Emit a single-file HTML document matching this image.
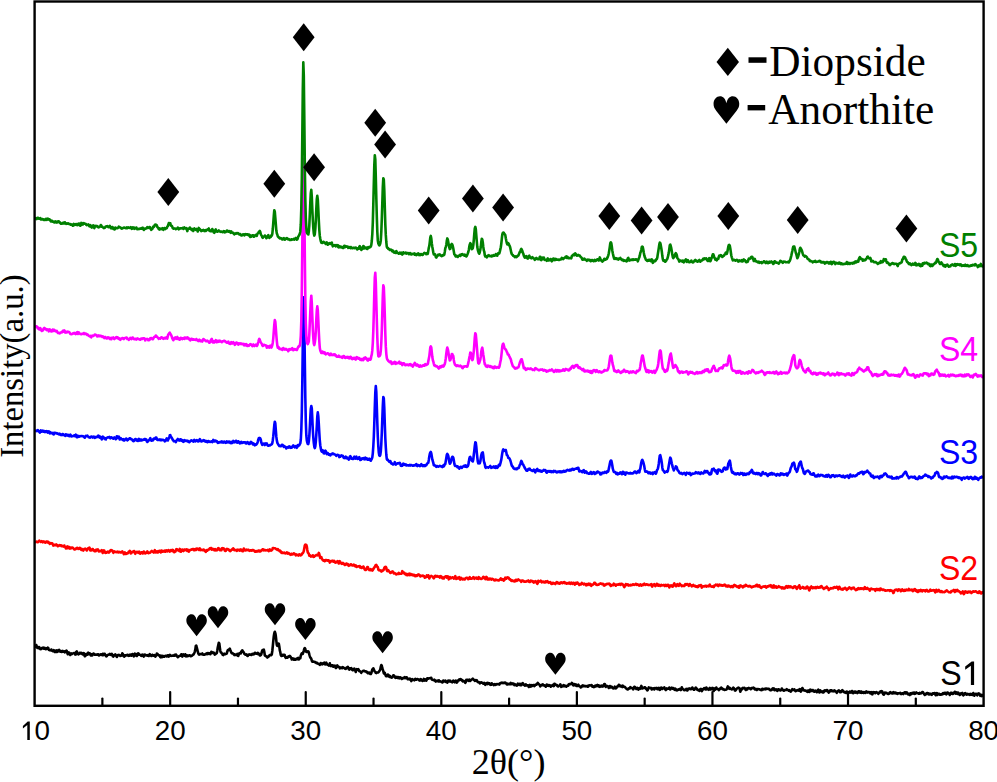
<!DOCTYPE html>
<html><head><meta charset="utf-8"><style>
html,body{margin:0;padding:0;background:#fff;overflow:hidden;}
svg{display:block;}
</style></head><body>
<svg width="997" height="782" viewBox="0 0 997 782">
<rect width="997" height="782" fill="#fff"/>
<g fill="none" stroke-width="2.6" stroke-linejoin="round" stroke-linecap="round">
<path d="M35.8 646.8 L36.3 645.1 L36.8 646.5 L37.3 647.8 L37.8 646.8 L38.3 647.4 L38.8 648.2 L39.3 647.2 L39.8 648.3 L40.3 649.2 L40.8 648.8 L41.3 649.0 L41.8 648.1 L42.3 647.8 L42.8 648.0 L43.3 647.6 L43.8 648.7 L44.3 648.3 L44.8 647.8 L45.3 649.1 L45.8 649.2 L46.3 648.5 L46.8 648.3 L47.3 648.6 L47.8 647.7 L48.3 648.1 L48.8 649.8 L49.3 650.0 L49.8 650.2 L50.3 650.2 L50.8 650.4 L51.3 649.5 L51.8 650.4 L52.3 650.9 L52.8 651.2 L53.3 651.3 L53.8 650.2 L54.3 650.6 L54.8 652.0 L55.3 652.0 L55.8 651.2 L56.3 650.4 L56.8 651.9 L57.3 651.9 L57.8 651.3 L58.3 650.2 L58.8 650.5 L59.3 650.0 L59.8 651.4 L60.3 651.7 L60.8 651.5 L61.3 651.2 L61.8 651.8 L62.3 651.5 L62.8 650.9 L63.3 651.8 L63.8 651.7 L64.3 651.4 L64.8 652.3 L65.3 651.5 L65.8 651.1 L66.3 650.6 L66.8 651.0 L67.3 653.0 L67.8 654.2 L68.3 652.8 L68.8 652.4 L69.3 652.8 L69.8 654.1 L70.3 655.0 L70.8 653.9 L71.3 653.4 L71.8 654.1 L72.3 654.0 L72.8 653.4 L73.3 653.3 L73.8 653.0 L74.3 653.1 L74.8 653.0 L75.3 654.6 L75.8 654.5 L76.3 652.0 L76.8 651.5 L77.3 652.6 L77.8 653.6 L78.3 654.3 L78.8 654.0 L79.3 654.0 L79.8 652.8 L80.3 653.2 L80.8 653.4 L81.3 652.8 L81.8 653.1 L82.3 654.2 L82.8 654.5 L83.3 654.2 L83.8 653.1 L84.3 655.0 L84.8 656.2 L85.3 656.0 L85.8 654.4 L86.3 653.8 L86.8 654.4 L87.3 654.7 L87.8 654.4 L88.3 652.7 L88.8 653.5 L89.3 654.1 L89.8 653.4 L90.3 653.8 L90.8 655.5 L91.3 655.0 L91.8 654.3 L92.3 655.4 L92.8 654.4 L93.3 653.6 L93.8 653.6 L94.3 654.1 L94.8 654.8 L95.3 654.8 L95.8 654.7 L96.3 654.5 L96.8 654.8 L97.3 654.4 L97.8 654.5 L98.3 654.3 L98.8 655.4 L99.3 655.4 L99.8 654.8 L100.3 654.7 L100.8 654.3 L101.3 654.4 L101.8 655.1 L102.3 655.2 L102.8 653.8 L103.3 654.4 L103.8 655.0 L104.3 653.9 L104.8 653.9 L105.3 655.2 L105.8 655.3 L106.3 656.4 L106.8 656.0 L107.3 655.2 L107.8 654.9 L108.3 654.8 L108.8 654.7 L109.3 654.3 L109.8 653.8 L110.3 654.4 L110.8 654.9 L111.3 654.1 L111.8 653.8 L112.3 654.7 L112.8 656.4 L113.3 656.6 L113.8 655.7 L114.3 655.1 L114.8 655.3 L115.3 654.3 L115.8 655.3 L116.3 656.0 L116.8 657.0 L117.3 656.1 L117.8 655.1 L118.3 655.1 L118.8 654.8 L119.3 655.2 L119.8 655.2 L120.3 655.9 L120.8 655.8 L121.3 655.0 L121.8 655.3 L122.3 653.3 L122.8 653.8 L123.3 655.6 L123.8 656.4 L124.3 656.7 L124.8 655.5 L125.3 655.3 L125.8 655.6 L126.3 655.1 L126.8 655.3 L127.3 654.8 L127.8 655.0 L128.3 655.8 L128.8 655.6 L129.3 655.0 L129.8 655.6 L130.3 654.6 L130.8 655.3 L131.3 655.7 L131.8 654.8 L132.3 654.0 L132.8 654.2 L133.3 655.5 L133.8 656.4 L134.3 655.0 L134.8 653.7 L135.3 654.0 L135.8 654.2 L136.3 655.8 L136.8 656.0 L137.3 655.2 L137.8 653.4 L138.3 653.3 L138.8 653.9 L139.3 654.7 L139.8 654.8 L140.3 654.9 L140.8 655.5 L141.3 654.9 L141.8 655.9 L142.3 655.7 L142.8 654.6 L143.3 655.2 L143.8 656.6 L144.3 655.7 L144.8 654.5 L145.3 654.8 L145.8 655.2 L146.3 655.5 L146.8 655.2 L147.3 655.6 L147.8 655.1 L148.3 655.1 L148.8 656.0 L149.3 655.4 L149.8 654.2 L150.3 655.1 L150.8 655.5 L151.3 655.9 L151.8 655.9 L152.3 654.8 L152.8 655.4 L153.3 655.5 L153.8 655.7 L154.3 655.0 L154.8 655.7 L155.3 656.6 L155.8 656.0 L156.3 655.4 L156.8 653.6 L157.3 653.8 L157.8 654.4 L158.3 655.0 L158.8 655.4 L159.3 655.7 L159.8 655.4 L160.3 657.1 L160.8 657.3 L161.3 655.8 L161.8 656.4 L162.3 657.0 L162.8 655.9 L163.3 656.0 L163.8 656.7 L164.3 656.8 L164.8 656.1 L165.3 655.8 L165.8 656.0 L166.3 656.0 L166.8 656.4 L167.3 655.7 L167.8 655.2 L168.3 655.4 L168.8 656.6 L169.3 655.4 L169.8 654.8 L170.3 655.6 L170.8 655.5 L171.3 655.9 L171.8 655.7 L172.3 655.6 L172.8 655.7 L173.3 655.8 L173.8 655.4 L174.3 655.0 L174.8 655.7 L175.3 655.6 L175.8 654.5 L176.3 655.0 L176.8 655.9 L177.3 656.6 L177.8 657.2 L178.3 656.8 L178.8 656.3 L179.3 655.9 L179.8 655.8 L180.3 655.8 L180.8 655.5 L181.3 654.3 L181.8 655.4 L182.3 656.6 L182.8 655.2 L183.3 654.3 L183.8 654.8 L184.3 655.6 L184.8 655.8 L185.3 654.3 L185.8 655.2 L186.3 656.4 L186.8 655.8 L187.3 655.3 L187.8 656.2 L188.3 655.8 L188.8 655.4 L189.3 655.3 L189.8 655.2 L190.3 656.1 L190.8 656.3 L191.3 655.8 L191.8 655.8 L192.3 655.3 L192.8 654.8 L193.3 654.7 L193.8 654.0 L194.3 653.0 L194.8 651.6 L195.3 649.6 L195.8 645.9 L196.3 645.6 L196.8 647.7 L197.3 649.5 L197.8 651.7 L198.3 653.4 L198.8 654.3 L199.3 654.6 L199.8 654.2 L200.3 654.1 L200.8 654.0 L201.3 654.2 L201.8 653.9 L202.3 653.5 L202.8 654.4 L203.3 654.8 L203.8 654.7 L204.3 654.6 L204.8 654.7 L205.3 654.2 L205.8 653.9 L206.3 654.1 L206.8 653.4 L207.3 653.1 L207.8 654.1 L208.3 653.9 L208.8 653.1 L209.3 653.5 L209.8 653.6 L210.3 654.2 L210.8 653.4 L211.3 651.8 L211.8 651.9 L212.3 653.0 L212.8 652.5 L213.3 652.5 L213.8 652.7 L214.3 653.6 L214.8 654.6 L215.3 654.2 L215.8 653.5 L216.3 653.4 L216.8 653.0 L217.3 650.4 L217.8 647.3 L218.3 645.1 L218.8 642.7 L219.3 643.4 L219.8 647.4 L220.3 650.8 L220.8 652.4 L221.3 652.5 L221.8 653.4 L222.3 653.9 L222.8 654.9 L223.3 655.1 L223.8 654.3 L224.3 653.7 L224.8 654.2 L225.3 654.2 L225.8 653.9 L226.3 653.8 L226.8 653.4 L227.3 651.4 L227.8 650.1 L228.3 650.2 L228.8 650.0 L229.3 649.1 L229.8 648.6 L230.3 650.0 L230.8 651.2 L231.3 652.5 L231.8 653.2 L232.3 653.1 L232.8 653.5 L233.3 653.7 L233.8 654.4 L234.3 655.0 L234.8 654.3 L235.3 654.9 L235.8 654.9 L236.3 654.5 L236.8 654.7 L237.3 653.8 L237.8 655.8 L238.3 655.9 L238.8 654.4 L239.3 653.4 L239.8 652.9 L240.3 652.8 L240.8 653.4 L241.3 651.7 L241.8 651.1 L242.3 650.3 L242.8 651.1 L243.3 651.9 L243.8 652.5 L244.3 653.8 L244.8 654.1 L245.3 654.7 L245.8 654.6 L246.3 654.3 L246.8 655.0 L247.3 655.8 L247.8 656.0 L248.3 655.0 L248.8 654.5 L249.3 654.7 L249.8 654.5 L250.3 654.6 L250.8 654.6 L251.3 655.0 L251.8 654.8 L252.3 653.9 L252.8 654.1 L253.3 654.1 L253.8 654.4 L254.3 653.4 L254.8 652.7 L255.3 652.7 L255.8 653.5 L256.3 653.8 L256.8 653.7 L257.3 653.7 L257.8 652.9 L258.3 654.2 L258.8 654.4 L259.3 653.8 L259.8 655.5 L260.3 655.5 L260.8 655.1 L261.3 654.3 L261.8 651.9 L262.3 650.4 L262.8 650.8 L263.3 649.8 L263.8 649.6 L264.3 651.7 L264.8 655.3 L265.3 655.8 L265.8 656.0 L266.3 656.3 L266.8 656.9 L267.3 657.5 L267.8 656.6 L268.3 656.9 L268.8 656.4 L269.3 655.5 L269.8 655.1 L270.3 655.2 L270.8 654.9 L271.3 655.2 L271.8 654.3 L272.3 651.0 L272.8 646.2 L273.3 640.8 L273.8 636.1 L274.3 633.1 L274.8 631.8 L275.3 633.1 L275.8 635.8 L276.3 640.6 L276.8 644.9 L277.3 645.8 L277.8 644.6 L278.3 643.6 L278.8 643.7 L279.3 646.5 L279.8 650.4 L280.3 652.2 L280.8 655.0 L281.3 656.0 L281.8 655.5 L282.3 655.0 L282.8 655.7 L283.3 654.9 L283.8 654.7 L284.3 654.7 L284.8 655.2 L285.3 657.2 L285.8 657.8 L286.3 657.1 L286.8 657.7 L287.3 657.8 L287.8 656.9 L288.3 657.0 L288.8 656.5 L289.3 656.0 L289.8 655.9 L290.3 656.4 L290.8 657.3 L291.3 658.1 L291.8 659.5 L292.3 659.1 L292.8 658.3 L293.3 658.7 L293.8 659.7 L294.3 659.8 L294.8 658.8 L295.3 659.4 L295.8 659.7 L296.3 659.2 L296.8 658.6 L297.3 659.2 L297.8 658.2 L298.3 657.9 L298.8 659.4 L299.3 658.7 L299.8 658.3 L300.3 658.2 L300.8 655.6 L301.3 654.4 L301.8 653.3 L302.3 653.5 L302.8 653.8 L303.3 652.2 L303.8 650.6 L304.3 648.8 L304.8 648.1 L305.3 649.0 L305.8 651.4 L306.3 651.8 L306.8 652.0 L307.3 651.3 L307.8 651.9 L308.3 651.4 L308.8 652.4 L309.3 654.4 L309.8 656.1 L310.3 657.6 L310.8 658.0 L311.3 658.9 L311.8 660.6 L312.3 661.7 L312.8 661.4 L313.3 661.5 L313.8 661.7 L314.3 661.9 L314.8 662.2 L315.3 662.1 L315.8 662.6 L316.3 663.1 L316.8 662.6 L317.3 663.1 L317.8 663.6 L318.3 663.8 L318.8 663.8 L319.3 664.3 L319.8 664.8 L320.3 664.5 L320.8 663.0 L321.3 663.6 L321.8 663.9 L322.3 664.4 L322.8 663.2 L323.3 663.2 L323.8 663.2 L324.3 662.5 L324.8 664.3 L325.3 664.4 L325.8 663.2 L326.3 662.7 L326.8 663.8 L327.3 664.6 L327.8 664.9 L328.3 665.1 L328.8 665.6 L329.3 664.8 L329.8 663.3 L330.3 665.7 L330.8 666.1 L331.3 665.1 L331.8 665.5 L332.3 665.8 L332.8 665.4 L333.3 666.7 L333.8 666.1 L334.3 665.8 L334.8 665.6 L335.3 666.7 L335.8 668.0 L336.3 667.9 L336.8 666.5 L337.3 665.4 L337.8 666.2 L338.3 666.6 L338.8 666.9 L339.3 667.0 L339.8 668.4 L340.3 668.2 L340.8 667.5 L341.3 667.5 L341.8 668.0 L342.3 668.2 L342.8 667.2 L343.3 667.4 L343.8 667.9 L344.3 668.1 L344.8 668.6 L345.3 668.6 L345.8 668.9 L346.3 667.9 L346.8 667.4 L347.3 667.5 L347.8 666.8 L348.3 667.9 L348.8 669.4 L349.3 669.6 L349.8 668.3 L350.3 668.6 L350.8 668.8 L351.3 668.1 L351.8 669.4 L352.3 670.0 L352.8 670.3 L353.3 670.0 L353.8 668.8 L354.3 668.5 L354.8 669.6 L355.3 670.8 L355.8 672.0 L356.3 669.6 L356.8 669.1 L357.3 669.9 L357.8 669.7 L358.3 669.2 L358.8 670.0 L359.3 671.2 L359.8 671.2 L360.3 671.5 L360.8 671.9 L361.3 672.8 L361.8 671.7 L362.3 671.7 L362.8 671.2 L363.3 670.8 L363.8 670.7 L364.3 670.8 L364.8 671.3 L365.3 671.4 L365.8 671.2 L366.3 671.7 L366.8 672.3 L367.3 672.1 L367.8 673.2 L368.3 673.3 L368.8 672.7 L369.3 672.6 L369.8 673.6 L370.3 674.0 L370.8 674.0 L371.3 673.1 L371.8 671.3 L372.3 669.6 L372.8 668.9 L373.3 668.3 L373.8 669.4 L374.3 670.6 L374.8 671.5 L375.3 671.8 L375.8 672.9 L376.3 673.1 L376.8 672.5 L377.3 672.5 L377.8 672.5 L378.3 672.4 L378.8 671.9 L379.3 671.1 L379.8 670.4 L380.3 669.3 L380.8 666.7 L381.3 665.1 L381.8 665.8 L382.3 668.2 L382.8 669.7 L383.3 671.2 L383.8 673.3 L384.3 673.6 L384.8 672.8 L385.3 674.5 L385.8 675.8 L386.3 676.3 L386.8 676.3 L387.3 675.8 L387.8 674.5 L388.3 674.9 L388.8 676.0 L389.3 676.8 L389.8 675.9 L390.3 676.5 L390.8 677.2 L391.3 677.6 L391.8 677.3 L392.3 677.4 L392.8 676.5 L393.3 675.3 L393.8 675.3 L394.3 676.3 L394.8 676.3 L395.3 677.8 L395.8 677.9 L396.3 677.3 L396.8 676.8 L397.3 677.2 L397.8 677.9 L398.3 677.5 L398.8 677.1 L399.3 678.3 L399.8 677.7 L400.3 677.3 L400.8 677.7 L401.3 678.2 L401.8 679.0 L402.3 678.5 L402.8 678.0 L403.3 678.3 L403.8 678.3 L404.3 677.4 L404.8 677.1 L405.3 677.9 L405.8 678.2 L406.3 677.4 L406.8 677.4 L407.3 678.4 L407.8 679.2 L408.3 679.3 L408.8 678.9 L409.3 679.3 L409.8 678.5 L410.3 678.9 L410.8 679.8 L411.3 681.1 L411.8 680.3 L412.3 679.1 L412.8 679.7 L413.3 679.6 L413.8 679.8 L414.3 680.3 L414.8 679.5 L415.3 678.8 L415.8 679.4 L416.3 679.8 L416.8 679.5 L417.3 679.0 L417.8 679.2 L418.3 679.4 L418.8 679.7 L419.3 680.4 L419.8 680.6 L420.3 679.5 L420.8 679.1 L421.3 679.8 L421.8 679.9 L422.3 680.9 L422.8 680.9 L423.3 680.3 L423.8 678.9 L424.3 679.9 L424.8 680.5 L425.3 679.4 L425.8 679.9 L426.3 680.6 L426.8 679.7 L427.3 678.3 L427.8 678.7 L428.3 678.7 L428.8 678.4 L429.3 678.2 L429.8 678.2 L430.3 678.1 L430.8 677.9 L431.3 677.9 L431.8 679.4 L432.3 679.8 L432.8 679.7 L433.3 680.2 L433.8 680.2 L434.3 679.7 L434.8 680.1 L435.3 681.1 L435.8 681.6 L436.3 680.9 L436.8 680.8 L437.3 680.5 L437.8 680.8 L438.3 681.4 L438.8 680.3 L439.3 681.5 L439.8 681.3 L440.3 681.2 L440.8 681.6 L441.3 681.8 L441.8 682.2 L442.3 682.5 L442.8 682.0 L443.3 680.5 L443.8 681.0 L444.3 681.5 L444.8 681.2 L445.3 680.6 L445.8 681.9 L446.3 681.9 L446.8 681.8 L447.3 682.7 L447.8 680.8 L448.3 680.5 L448.8 681.0 L449.3 681.3 L449.8 680.6 L450.3 680.8 L450.8 681.7 L451.3 681.5 L451.8 682.1 L452.3 682.3 L452.8 681.2 L453.3 680.5 L453.8 680.9 L454.3 681.9 L454.8 682.3 L455.3 681.5 L455.8 680.6 L456.3 681.4 L456.8 682.6 L457.3 682.1 L457.8 680.6 L458.3 680.5 L458.8 680.3 L459.3 679.4 L459.8 680.0 L460.3 679.2 L460.8 679.1 L461.3 679.6 L461.8 679.9 L462.3 681.0 L462.8 681.3 L463.3 680.8 L463.8 681.0 L464.3 681.6 L464.8 681.9 L465.3 682.8 L465.8 682.0 L466.3 679.9 L466.8 680.0 L467.3 679.7 L467.8 679.7 L468.3 680.8 L468.8 680.2 L469.3 679.6 L469.8 680.9 L470.3 681.0 L470.8 679.9 L471.3 679.8 L471.8 679.4 L472.3 679.2 L472.8 678.7 L473.3 679.4 L473.8 679.9 L474.3 680.0 L474.8 680.8 L475.3 680.0 L475.8 680.6 L476.3 680.6 L476.8 680.2 L477.3 681.6 L477.8 682.0 L478.3 682.3 L478.8 682.1 L479.3 682.5 L479.8 683.3 L480.3 682.7 L480.8 682.5 L481.3 682.3 L481.8 682.7 L482.3 682.8 L482.8 683.1 L483.3 683.7 L483.8 683.0 L484.3 682.9 L484.8 683.5 L485.3 684.8 L485.8 683.8 L486.3 683.2 L486.8 683.1 L487.3 682.9 L487.8 684.1 L488.3 683.2 L488.8 683.1 L489.3 683.8 L489.8 683.6 L490.3 684.7 L490.8 684.9 L491.3 684.7 L491.8 683.3 L492.3 683.8 L492.8 684.3 L493.3 684.2 L493.8 685.2 L494.3 684.6 L494.8 684.1 L495.3 684.5 L495.8 684.8 L496.3 684.3 L496.8 684.0 L497.3 684.0 L497.8 684.3 L498.3 684.1 L498.8 684.2 L499.3 684.7 L499.8 683.7 L500.3 683.0 L500.8 683.1 L501.3 682.8 L501.8 682.6 L502.3 683.1 L502.8 682.7 L503.3 682.7 L503.8 683.2 L504.3 682.9 L504.8 682.5 L505.3 682.5 L505.8 683.3 L506.3 683.3 L506.8 684.4 L507.3 684.4 L507.8 683.7 L508.3 684.1 L508.8 684.2 L509.3 683.8 L509.8 684.2 L510.3 684.2 L510.8 682.9 L511.3 683.6 L511.8 684.2 L512.3 684.0 L512.8 683.4 L513.3 683.5 L513.8 684.2 L514.3 685.1 L514.8 684.2 L515.3 684.8 L515.8 685.1 L516.3 684.9 L516.8 685.6 L517.3 684.5 L517.8 683.7 L518.3 684.0 L518.8 684.8 L519.3 685.0 L519.8 683.8 L520.3 684.0 L520.8 685.3 L521.3 685.2 L521.8 684.1 L522.3 683.4 L522.8 683.1 L523.3 683.9 L523.8 685.0 L524.3 684.9 L524.8 685.6 L525.3 685.0 L525.8 684.3 L526.3 685.4 L526.8 685.3 L527.3 685.3 L527.8 685.5 L528.3 685.6 L528.8 687.0 L529.3 685.5 L529.8 685.0 L530.3 685.7 L530.8 686.6 L531.3 685.8 L531.8 685.0 L532.3 685.8 L532.8 685.4 L533.3 685.1 L533.8 685.1 L534.3 686.1 L534.8 685.7 L535.3 684.7 L535.8 684.7 L536.3 684.8 L536.8 683.8 L537.3 684.0 L537.8 682.9 L538.3 683.7 L538.8 684.1 L539.3 684.6 L539.8 685.3 L540.3 686.4 L540.8 685.5 L541.3 685.1 L541.8 685.3 L542.3 684.7 L542.8 684.3 L543.3 685.1 L543.8 685.4 L544.3 685.2 L544.8 685.8 L545.3 685.9 L545.8 686.7 L546.3 686.0 L546.8 684.5 L547.3 685.5 L547.8 685.7 L548.3 685.1 L548.8 685.8 L549.3 685.1 L549.8 685.3 L550.3 686.0 L550.8 686.7 L551.3 685.7 L551.8 685.9 L552.3 685.6 L552.8 684.9 L553.3 684.7 L553.8 686.1 L554.3 683.8 L554.8 683.8 L555.3 684.9 L555.8 684.6 L556.3 684.8 L556.8 684.9 L557.3 685.9 L557.8 686.5 L558.3 686.4 L558.8 685.7 L559.3 685.6 L559.8 685.2 L560.3 684.3 L560.8 685.7 L561.3 686.9 L561.8 685.8 L562.3 686.4 L562.8 686.2 L563.3 685.5 L563.8 685.1 L564.3 686.2 L564.8 685.6 L565.3 685.8 L565.8 686.4 L566.3 686.7 L566.8 686.1 L567.3 685.6 L567.8 685.6 L568.3 685.7 L568.8 684.2 L569.3 684.1 L569.8 684.1 L570.3 684.3 L570.8 684.1 L571.3 683.8 L571.8 682.9 L572.3 683.1 L572.8 684.5 L573.3 685.3 L573.8 684.3 L574.3 684.1 L574.8 685.1 L575.3 684.8 L575.8 684.4 L576.3 685.9 L576.8 685.9 L577.3 686.0 L577.8 685.1 L578.3 684.6 L578.8 685.6 L579.3 686.2 L579.8 686.4 L580.3 686.7 L580.8 687.5 L581.3 687.2 L581.8 686.5 L582.3 685.6 L582.8 685.3 L583.3 686.2 L583.8 686.2 L584.3 686.1 L584.8 685.8 L585.3 686.2 L585.8 686.4 L586.3 686.3 L586.8 686.0 L587.3 685.9 L587.8 686.7 L588.3 686.5 L588.8 685.4 L589.3 685.3 L589.8 685.4 L590.3 685.5 L590.8 685.5 L591.3 685.1 L591.8 685.2 L592.3 686.6 L592.8 686.0 L593.3 686.3 L593.8 687.1 L594.3 687.0 L594.8 686.8 L595.3 685.6 L595.8 685.7 L596.3 686.1 L596.8 685.3 L597.3 684.9 L597.8 685.9 L598.3 686.4 L598.8 685.4 L599.3 686.6 L599.8 686.8 L600.3 685.9 L600.8 686.2 L601.3 686.5 L601.8 685.5 L602.3 686.2 L602.8 686.6 L603.3 686.2 L603.8 685.4 L604.3 684.0 L604.8 684.0 L605.3 685.3 L605.8 686.9 L606.3 686.0 L606.8 685.9 L607.3 686.2 L607.8 686.5 L608.3 686.5 L608.8 688.0 L609.3 686.9 L609.8 686.0 L610.3 686.8 L610.8 687.5 L611.3 687.4 L611.8 686.7 L612.3 687.4 L612.8 687.8 L613.3 688.5 L613.8 688.1 L614.3 688.1 L614.8 686.7 L615.3 687.3 L615.8 688.4 L616.3 688.0 L616.8 687.1 L617.3 686.4 L617.8 686.4 L618.3 686.0 L618.8 684.8 L619.3 685.8 L619.8 686.1 L620.3 685.7 L620.8 686.3 L621.3 686.0 L621.8 686.5 L622.3 687.0 L622.8 685.7 L623.3 686.3 L623.8 686.6 L624.3 686.9 L624.8 686.9 L625.3 687.4 L625.8 688.1 L626.3 688.6 L626.8 688.9 L627.3 689.5 L627.8 689.5 L628.3 689.1 L628.8 688.2 L629.3 688.3 L629.8 688.4 L630.3 687.2 L630.8 687.5 L631.3 687.9 L631.8 688.0 L632.3 688.2 L632.8 688.7 L633.3 689.3 L633.8 688.0 L634.3 686.8 L634.8 686.8 L635.3 687.3 L635.8 688.3 L636.3 689.0 L636.8 688.6 L637.3 687.9 L637.8 688.9 L638.3 689.6 L638.8 688.4 L639.3 688.3 L639.8 688.9 L640.3 688.6 L640.8 687.1 L641.3 685.9 L641.8 687.0 L642.3 688.5 L642.8 687.7 L643.3 688.0 L643.8 688.1 L644.3 687.5 L644.8 687.2 L645.3 687.5 L645.8 688.1 L646.3 689.1 L646.8 689.3 L647.3 690.4 L647.8 689.8 L648.3 688.5 L648.8 687.4 L649.3 687.8 L649.8 687.9 L650.3 688.1 L650.8 687.8 L651.3 688.2 L651.8 689.5 L652.3 688.8 L652.8 688.4 L653.3 688.2 L653.8 688.8 L654.3 689.4 L654.8 688.1 L655.3 688.1 L655.8 688.4 L656.3 688.5 L656.8 688.0 L657.3 689.3 L657.8 689.3 L658.3 688.6 L658.8 687.9 L659.3 688.8 L659.8 689.9 L660.3 689.2 L660.8 688.0 L661.3 687.5 L661.8 687.8 L662.3 689.0 L662.8 688.2 L663.3 688.1 L663.8 688.2 L664.3 687.4 L664.8 688.3 L665.3 689.6 L665.8 690.0 L666.3 689.2 L666.8 688.4 L667.3 688.9 L667.8 688.8 L668.3 688.8 L668.8 688.8 L669.3 687.5 L669.8 687.9 L670.3 689.5 L670.8 688.4 L671.3 688.1 L671.8 687.6 L672.3 688.5 L672.8 688.7 L673.3 688.1 L673.8 689.3 L674.3 689.4 L674.8 689.9 L675.3 688.7 L675.8 689.2 L676.3 690.2 L676.8 690.4 L677.3 690.3 L677.8 689.9 L678.3 689.4 L678.8 689.6 L679.3 689.3 L679.8 688.8 L680.3 689.5 L680.8 690.0 L681.3 689.1 L681.8 687.3 L682.3 688.4 L682.8 689.0 L683.3 689.3 L683.8 689.8 L684.3 690.2 L684.8 690.1 L685.3 689.8 L685.8 689.9 L686.3 688.9 L686.8 689.6 L687.3 690.5 L687.8 689.7 L688.3 688.7 L688.8 689.0 L689.3 688.9 L689.8 688.4 L690.3 689.1 L690.8 689.3 L691.3 688.7 L691.8 688.8 L692.3 687.5 L692.8 688.2 L693.3 689.3 L693.8 689.7 L694.3 689.8 L694.8 689.1 L695.3 688.3 L695.8 687.5 L696.3 688.1 L696.8 688.6 L697.3 689.9 L697.8 690.0 L698.3 689.8 L698.8 690.4 L699.3 690.8 L699.8 690.2 L700.3 689.1 L700.8 688.9 L701.3 690.3 L701.8 691.2 L702.3 690.1 L702.8 689.2 L703.3 689.4 L703.8 688.5 L704.3 688.1 L704.8 689.0 L705.3 689.3 L705.8 689.5 L706.3 687.5 L706.8 688.3 L707.3 689.2 L707.8 689.0 L708.3 689.4 L708.8 689.8 L709.3 688.3 L709.8 687.8 L710.3 688.3 L710.8 689.5 L711.3 689.2 L711.8 688.8 L712.3 687.9 L712.8 688.0 L713.3 689.4 L713.8 690.9 L714.3 689.1 L714.8 688.5 L715.3 689.6 L715.8 689.0 L716.3 687.5 L716.8 688.6 L717.3 688.7 L717.8 689.1 L718.3 689.4 L718.8 690.1 L719.3 689.3 L719.8 688.7 L720.3 689.0 L720.8 687.9 L721.3 687.6 L721.8 688.5 L722.3 688.4 L722.8 689.3 L723.3 689.4 L723.8 689.4 L724.3 690.0 L724.8 689.9 L725.3 689.7 L725.8 689.7 L726.3 689.6 L726.8 689.1 L727.3 687.7 L727.8 686.4 L728.3 687.0 L728.8 688.1 L729.3 688.8 L729.8 687.9 L730.3 688.3 L730.8 688.8 L731.3 689.2 L731.8 689.5 L732.3 689.1 L732.8 688.6 L733.3 687.7 L733.8 688.1 L734.3 688.9 L734.8 690.3 L735.3 690.6 L735.8 690.2 L736.3 689.3 L736.8 688.7 L737.3 688.2 L737.8 688.1 L738.3 687.5 L738.8 687.8 L739.3 688.1 L739.8 689.4 L740.3 691.7 L740.8 690.5 L741.3 688.9 L741.8 689.5 L742.3 688.4 L742.8 687.9 L743.3 688.4 L743.8 688.2 L744.3 687.8 L744.8 688.2 L745.3 689.1 L745.8 690.0 L746.3 688.5 L746.8 688.6 L747.3 689.4 L747.8 688.5 L748.3 688.1 L748.8 687.9 L749.3 688.4 L749.8 688.6 L750.3 688.5 L750.8 689.2 L751.3 688.0 L751.8 688.0 L752.3 688.3 L752.8 688.2 L753.3 687.5 L753.8 687.8 L754.3 688.6 L754.8 689.4 L755.3 689.3 L755.8 688.8 L756.3 689.1 L756.8 690.0 L757.3 689.2 L757.8 689.0 L758.3 689.1 L758.8 689.3 L759.3 689.3 L759.8 689.3 L760.3 689.9 L760.8 689.9 L761.3 689.9 L761.8 690.2 L762.3 688.8 L762.8 689.2 L763.3 689.5 L763.8 689.0 L764.3 689.3 L764.8 688.9 L765.3 688.6 L765.8 689.3 L766.3 688.7 L766.8 688.6 L767.3 688.9 L767.8 688.7 L768.3 688.7 L768.8 688.8 L769.3 689.2 L769.8 690.0 L770.3 689.9 L770.8 690.3 L771.3 689.8 L771.8 689.9 L772.3 688.9 L772.8 688.3 L773.3 688.6 L773.8 688.4 L774.3 690.0 L774.8 690.2 L775.3 689.8 L775.8 689.4 L776.3 689.4 L776.8 689.8 L777.3 690.8 L777.8 690.2 L778.3 689.2 L778.8 689.2 L779.3 690.1 L779.8 690.2 L780.3 690.5 L780.8 690.3 L781.3 689.9 L781.8 688.5 L782.3 689.4 L782.8 689.6 L783.3 690.4 L783.8 690.8 L784.3 690.5 L784.8 690.0 L785.3 690.0 L785.8 690.0 L786.3 689.8 L786.8 689.2 L787.3 690.0 L787.8 690.1 L788.3 690.0 L788.8 690.7 L789.3 690.2 L789.8 690.6 L790.3 691.4 L790.8 691.7 L791.3 690.8 L791.8 690.3 L792.3 689.2 L792.8 689.6 L793.3 689.9 L793.8 689.9 L794.3 689.3 L794.8 690.4 L795.3 691.0 L795.8 691.2 L796.3 690.6 L796.8 690.3 L797.3 690.5 L797.8 690.4 L798.3 689.8 L798.8 690.7 L799.3 690.0 L799.8 689.2 L800.3 690.7 L800.8 691.7 L801.3 690.2 L801.8 689.0 L802.3 688.0 L802.8 688.8 L803.3 690.2 L803.8 690.2 L804.3 690.6 L804.8 690.4 L805.3 690.6 L805.8 690.5 L806.3 691.1 L806.8 691.0 L807.3 691.8 L807.8 690.7 L808.3 690.5 L808.8 691.8 L809.3 691.9 L809.8 690.0 L810.3 689.6 L810.8 691.1 L811.3 690.4 L811.8 690.1 L812.3 691.0 L812.8 690.0 L813.3 690.6 L813.8 691.4 L814.3 691.8 L814.8 691.6 L815.3 690.6 L815.8 691.1 L816.3 691.6 L816.8 692.2 L817.3 691.4 L817.8 690.0 L818.3 689.7 L818.8 690.9 L819.3 692.4 L819.8 691.2 L820.3 690.3 L820.8 691.2 L821.3 691.9 L821.8 691.5 L822.3 691.4 L822.8 692.4 L823.3 692.5 L823.8 692.0 L824.3 690.6 L824.8 690.3 L825.3 690.5 L825.8 691.0 L826.3 690.9 L826.8 690.0 L827.3 690.2 L827.8 691.2 L828.3 692.0 L828.8 692.6 L829.3 692.0 L829.8 691.6 L830.3 690.3 L830.8 690.8 L831.3 690.2 L831.8 690.4 L832.3 691.3 L832.8 691.3 L833.3 691.1 L833.8 691.3 L834.3 690.3 L834.8 690.7 L835.3 691.3 L835.8 691.2 L836.3 692.0 L836.8 692.8 L837.3 691.6 L837.8 691.1 L838.3 690.6 L838.8 690.4 L839.3 691.4 L839.8 692.0 L840.3 691.5 L840.8 692.2 L841.3 691.8 L841.8 690.6 L842.3 690.1 L842.8 690.6 L843.3 691.6 L843.8 691.9 L844.3 692.4 L844.8 691.9 L845.3 692.1 L845.8 692.8 L846.3 693.0 L846.8 691.5 L847.3 692.2 L847.8 692.3 L848.3 692.3 L848.8 692.1 L849.3 692.5 L849.8 691.7 L850.3 692.1 L850.8 692.6 L851.3 692.5 L851.8 691.0 L852.3 691.0 L852.8 693.1 L853.3 693.2 L853.8 692.1 L854.3 691.7 L854.8 691.6 L855.3 692.6 L855.8 691.6 L856.3 692.1 L856.8 692.4 L857.3 693.1 L857.8 692.9 L858.3 691.5 L858.8 691.3 L859.3 691.8 L859.8 691.4 L860.3 692.7 L860.8 692.4 L861.3 691.5 L861.8 692.8 L862.3 692.3 L862.8 692.5 L863.3 692.2 L863.8 693.0 L864.3 692.3 L864.8 692.0 L865.3 692.8 L865.8 692.1 L866.3 691.4 L866.8 691.6 L867.3 692.5 L867.8 692.6 L868.3 692.1 L868.8 692.0 L869.3 692.2 L869.8 692.3 L870.3 693.4 L870.8 693.4 L871.3 692.1 L871.8 692.5 L872.3 694.3 L872.8 693.3 L873.3 692.1 L873.8 692.4 L874.3 692.2 L874.8 692.5 L875.3 693.2 L875.8 692.3 L876.3 692.0 L876.8 692.4 L877.3 692.8 L877.8 693.0 L878.3 693.8 L878.8 692.9 L879.3 693.0 L879.8 691.9 L880.3 691.5 L880.8 692.2 L881.3 692.1 L881.8 691.1 L882.3 691.7 L882.8 693.4 L883.3 694.3 L883.8 694.6 L884.3 694.0 L884.8 692.7 L885.3 692.9 L885.8 692.9 L886.3 692.7 L886.8 693.3 L887.3 693.3 L887.8 693.8 L888.3 694.0 L888.8 694.0 L889.3 693.4 L889.8 692.4 L890.3 692.2 L890.8 692.9 L891.3 693.2 L891.8 693.4 L892.3 692.5 L892.8 693.3 L893.3 692.9 L893.8 692.2 L894.3 693.3 L894.8 693.3 L895.3 692.6 L895.8 692.7 L896.3 693.4 L896.8 693.1 L897.3 693.9 L897.8 693.3 L898.3 693.4 L898.8 693.3 L899.3 693.3 L899.8 693.2 L900.3 692.8 L900.8 694.0 L901.3 694.1 L901.8 693.7 L902.3 693.3 L902.8 693.5 L903.3 694.0 L903.8 693.3 L904.3 692.7 L904.8 692.2 L905.3 692.3 L905.8 693.5 L906.3 693.3 L906.8 692.4 L907.3 693.0 L907.8 693.7 L908.3 694.4 L908.8 694.1 L909.3 694.6 L909.8 695.0 L910.3 693.3 L910.8 694.3 L911.3 694.2 L911.8 693.5 L912.3 692.8 L912.8 693.2 L913.3 693.7 L913.8 692.6 L914.3 692.6 L914.8 693.9 L915.3 693.5 L915.8 692.9 L916.3 692.4 L916.8 693.0 L917.3 693.3 L917.8 693.2 L918.3 693.3 L918.8 693.7 L919.3 693.8 L919.8 692.9 L920.3 693.3 L920.8 693.5 L921.3 693.1 L921.8 692.8 L922.3 692.1 L922.8 692.0 L923.3 692.8 L923.8 693.5 L924.3 694.3 L924.8 695.0 L925.3 694.6 L925.8 694.4 L926.3 693.4 L926.8 693.2 L927.3 693.0 L927.8 693.2 L928.3 694.3 L928.8 693.5 L929.3 693.7 L929.8 694.3 L930.3 693.8 L930.8 694.0 L931.3 694.6 L931.8 694.8 L932.3 694.1 L932.8 693.2 L933.3 693.3 L933.8 693.6 L934.3 693.1 L934.8 693.1 L935.3 694.5 L935.8 695.2 L936.3 693.8 L936.8 693.1 L937.3 695.0 L937.8 694.2 L938.3 693.8 L938.8 693.9 L939.3 693.8 L939.8 694.7 L940.3 694.8 L940.8 694.7 L941.3 694.3 L941.8 694.1 L942.3 694.3 L942.8 693.2 L943.3 693.1 L943.8 693.9 L944.3 693.7 L944.8 692.8 L945.3 692.7 L945.8 693.3 L946.3 694.3 L946.8 693.3 L947.3 692.5 L947.8 692.6 L948.3 693.4 L948.8 693.2 L949.3 693.8 L949.8 695.0 L950.3 694.0 L950.8 692.8 L951.3 693.6 L951.8 692.9 L952.3 693.3 L952.8 694.0 L953.3 693.1 L953.8 692.7 L954.3 693.2 L954.8 691.8 L955.3 692.6 L955.8 693.7 L956.3 693.3 L956.8 692.4 L957.3 693.5 L957.8 693.9 L958.3 692.6 L958.8 693.4 L959.3 694.2 L959.8 695.0 L960.3 694.6 L960.8 693.5 L961.3 693.3 L961.8 693.6 L962.3 693.0 L962.8 694.5 L963.3 695.3 L963.8 694.9 L964.3 693.9 L964.8 693.3 L965.3 693.1 L965.8 693.9 L966.3 694.6 L966.8 694.1 L967.3 693.8 L967.8 694.5 L968.3 694.3 L968.8 694.2 L969.3 694.0 L969.8 694.8 L970.3 694.5 L970.8 693.8 L971.3 694.7 L971.8 694.5 L972.3 694.8 L972.8 694.2 L973.3 693.0 L973.8 694.0 L974.3 695.7 L974.8 694.7 L975.3 693.9 L975.8 693.8 L976.3 693.8 L976.8 694.6 L977.3 695.4 L977.8 694.1 L978.3 693.5 L978.8 694.0 L979.3 693.6 L979.8 694.5 L980.3 695.9 L980.8 695.4 L981.3 694.9 L981.8 696.1 L982.3 695.0" stroke="#000000"/><path d="M35.8 542.1 L36.3 541.6 L36.8 541.7 L37.3 542.2 L37.8 542.2 L38.3 541.8 L38.8 541.0 L39.3 540.7 L39.8 541.3 L40.3 541.4 L40.8 542.0 L41.3 541.7 L41.8 541.2 L42.3 541.8 L42.8 542.3 L43.3 541.9 L43.8 541.4 L44.3 541.9 L44.8 542.4 L45.3 542.7 L45.8 542.4 L46.3 541.5 L46.8 541.8 L47.3 542.3 L47.8 541.6 L48.3 542.6 L48.8 542.3 L49.3 542.7 L49.8 543.9 L50.3 543.3 L50.8 543.1 L51.3 543.5 L51.8 543.4 L52.3 543.3 L52.8 544.3 L53.3 545.6 L53.8 545.3 L54.3 544.8 L54.8 544.8 L55.3 545.2 L55.8 545.0 L56.3 544.4 L56.8 545.0 L57.3 545.5 L57.8 546.2 L58.3 545.8 L58.8 545.9 L59.3 545.1 L59.8 545.4 L60.3 545.2 L60.8 545.3 L61.3 546.1 L61.8 545.6 L62.3 545.8 L62.8 545.9 L63.3 546.6 L63.8 546.4 L64.3 545.5 L64.8 546.7 L65.3 547.1 L65.8 548.4 L66.3 548.4 L66.8 547.6 L67.3 546.4 L67.8 548.2 L68.3 547.8 L68.8 546.9 L69.3 548.1 L69.8 548.6 L70.3 547.5 L70.8 548.4 L71.3 548.0 L71.8 547.6 L72.3 547.6 L72.8 547.7 L73.3 548.3 L73.8 548.8 L74.3 549.4 L74.8 549.5 L75.3 548.8 L75.8 548.9 L76.3 548.2 L76.8 548.5 L77.3 547.9 L77.8 548.2 L78.3 548.8 L78.8 548.5 L79.3 548.7 L79.8 547.8 L80.3 548.2 L80.8 549.5 L81.3 549.8 L81.8 548.9 L82.3 549.9 L82.8 550.1 L83.3 550.6 L83.8 549.4 L84.3 548.9 L84.8 549.1 L85.3 548.7 L85.8 549.2 L86.3 549.7 L86.8 550.4 L87.3 549.7 L87.8 548.5 L88.3 548.2 L88.8 548.2 L89.3 547.6 L89.8 548.3 L90.3 550.5 L90.8 550.0 L91.3 550.3 L91.8 549.6 L92.3 549.1 L92.8 549.0 L93.3 550.4 L93.8 550.4 L94.3 551.0 L94.8 550.3 L95.3 551.2 L95.8 551.2 L96.3 549.7 L96.8 550.1 L97.3 549.5 L97.8 549.4 L98.3 550.5 L98.8 551.4 L99.3 551.5 L99.8 550.9 L100.3 551.3 L100.8 551.3 L101.3 550.6 L101.8 550.1 L102.3 551.4 L102.8 553.0 L103.3 551.0 L103.8 550.4 L104.3 550.7 L104.8 552.1 L105.3 552.9 L105.8 552.8 L106.3 552.8 L106.8 552.0 L107.3 552.2 L107.8 551.5 L108.3 552.5 L108.8 552.6 L109.3 551.6 L109.8 551.7 L110.3 550.7 L110.8 550.1 L111.3 550.1 L111.8 550.3 L112.3 550.6 L112.8 551.7 L113.3 552.8 L113.8 551.7 L114.3 551.3 L114.8 552.0 L115.3 551.8 L115.8 551.9 L116.3 552.2 L116.8 552.1 L117.3 551.5 L117.8 551.8 L118.3 552.5 L118.8 551.9 L119.3 551.9 L119.8 552.3 L120.3 552.4 L120.8 552.1 L121.3 552.5 L121.8 552.0 L122.3 551.5 L122.8 552.2 L123.3 552.5 L123.8 554.2 L124.3 553.2 L124.8 552.4 L125.3 553.2 L125.8 553.9 L126.3 553.9 L126.8 553.3 L127.3 553.5 L127.8 553.3 L128.3 552.5 L128.8 551.6 L129.3 551.7 L129.8 550.8 L130.3 551.8 L130.8 553.4 L131.3 553.1 L131.8 552.5 L132.3 551.8 L132.8 551.7 L133.3 551.6 L133.8 551.0 L134.3 551.0 L134.8 553.1 L135.3 553.8 L135.8 552.7 L136.3 552.6 L136.8 551.9 L137.3 552.1 L137.8 551.8 L138.3 552.8 L138.8 552.4 L139.3 551.7 L139.8 552.9 L140.3 553.7 L140.8 552.8 L141.3 552.4 L141.8 552.4 L142.3 552.7 L142.8 553.5 L143.3 553.0 L143.8 551.5 L144.3 552.6 L144.8 552.8 L145.3 553.5 L145.8 553.2 L146.3 552.9 L146.8 551.8 L147.3 551.3 L147.8 552.3 L148.3 553.1 L148.8 553.1 L149.3 552.9 L149.8 552.7 L150.3 552.5 L150.8 551.7 L151.3 551.5 L151.8 551.0 L152.3 551.6 L152.8 551.8 L153.3 552.1 L153.8 552.6 L154.3 551.5 L154.8 550.2 L155.3 552.1 L155.8 552.4 L156.3 552.1 L156.8 551.5 L157.3 552.4 L157.8 552.5 L158.3 551.1 L158.8 551.8 L159.3 551.0 L159.8 550.8 L160.3 551.8 L160.8 552.4 L161.3 550.5 L161.8 550.5 L162.3 551.3 L162.8 551.7 L163.3 551.4 L163.8 551.2 L164.3 550.7 L164.8 551.7 L165.3 551.7 L165.8 550.4 L166.3 550.3 L166.8 551.2 L167.3 551.4 L167.8 551.1 L168.3 550.1 L168.8 550.2 L169.3 550.7 L169.8 551.6 L170.3 550.9 L170.8 550.2 L171.3 550.0 L171.8 550.8 L172.3 551.1 L172.8 549.9 L173.3 550.5 L173.8 551.4 L174.3 552.2 L174.8 551.8 L175.3 551.6 L175.8 550.6 L176.3 549.3 L176.8 549.1 L177.3 549.7 L177.8 550.3 L178.3 550.2 L178.8 550.5 L179.3 551.0 L179.8 548.9 L180.3 549.7 L180.8 551.8 L181.3 550.9 L181.8 549.7 L182.3 549.6 L182.8 550.7 L183.3 551.1 L183.8 550.6 L184.3 549.5 L184.8 549.9 L185.3 550.1 L185.8 550.0 L186.3 549.3 L186.8 550.5 L187.3 550.9 L187.8 549.7 L188.3 550.7 L188.8 551.6 L189.3 551.0 L189.8 550.2 L190.3 549.9 L190.8 549.7 L191.3 549.7 L191.8 549.3 L192.3 549.5 L192.8 549.0 L193.3 549.1 L193.8 550.2 L194.3 549.4 L194.8 550.2 L195.3 549.0 L195.8 550.0 L196.3 549.8 L196.8 548.6 L197.3 548.9 L197.8 548.8 L198.3 549.1 L198.8 549.9 L199.3 548.7 L199.8 548.4 L200.3 550.1 L200.8 550.2 L201.3 549.7 L201.8 549.7 L202.3 550.2 L202.8 550.1 L203.3 549.5 L203.8 549.5 L204.3 550.6 L204.8 551.0 L205.3 550.9 L205.8 551.8 L206.3 550.5 L206.8 550.1 L207.3 550.7 L207.8 550.2 L208.3 549.7 L208.8 549.4 L209.3 549.4 L209.8 548.3 L210.3 548.4 L210.8 548.1 L211.3 548.0 L211.8 549.7 L212.3 549.3 L212.8 548.9 L213.3 549.3 L213.8 549.0 L214.3 550.2 L214.8 550.4 L215.3 549.2 L215.8 550.1 L216.3 550.2 L216.8 550.4 L217.3 549.8 L217.8 548.7 L218.3 548.0 L218.8 548.3 L219.3 549.2 L219.8 550.3 L220.3 550.3 L220.8 550.3 L221.3 550.3 L221.8 548.4 L222.3 548.1 L222.8 548.6 L223.3 549.0 L223.8 548.4 L224.3 549.2 L224.8 550.7 L225.3 551.0 L225.8 550.8 L226.3 549.4 L226.8 548.9 L227.3 549.4 L227.8 549.1 L228.3 549.4 L228.8 549.7 L229.3 550.4 L229.8 551.1 L230.3 551.2 L230.8 550.6 L231.3 549.9 L231.8 550.0 L232.3 549.4 L232.8 548.7 L233.3 548.4 L233.8 549.1 L234.3 550.1 L234.8 550.3 L235.3 550.1 L235.8 550.0 L236.3 549.9 L236.8 550.8 L237.3 550.2 L237.8 549.7 L238.3 550.1 L238.8 549.9 L239.3 550.3 L239.8 550.7 L240.3 549.5 L240.8 549.4 L241.3 549.6 L241.8 550.2 L242.3 551.3 L242.8 551.2 L243.3 550.4 L243.8 548.6 L244.3 549.8 L244.8 550.4 L245.3 550.4 L245.8 550.0 L246.3 549.7 L246.8 550.3 L247.3 550.1 L247.8 549.9 L248.3 549.7 L248.8 550.0 L249.3 550.7 L249.8 550.9 L250.3 550.4 L250.8 550.2 L251.3 550.3 L251.8 550.7 L252.3 550.1 L252.8 550.0 L253.3 550.2 L253.8 550.2 L254.3 550.9 L254.8 551.6 L255.3 551.1 L255.8 551.7 L256.3 551.5 L256.8 551.0 L257.3 551.3 L257.8 551.5 L258.3 550.5 L258.8 551.1 L259.3 551.4 L259.8 550.7 L260.3 551.5 L260.8 551.2 L261.3 550.3 L261.8 550.5 L262.3 549.5 L262.8 549.2 L263.3 549.4 L263.8 550.4 L264.3 550.3 L264.8 549.9 L265.3 550.1 L265.8 550.4 L266.3 550.3 L266.8 550.2 L267.3 550.4 L267.8 549.8 L268.3 550.1 L268.8 551.1 L269.3 550.3 L269.8 549.3 L270.3 550.4 L270.8 550.0 L271.3 550.6 L271.8 550.1 L272.3 549.6 L272.8 548.0 L273.3 548.0 L273.8 548.2 L274.3 548.2 L274.8 548.2 L275.3 548.4 L275.8 548.9 L276.3 549.0 L276.8 549.5 L277.3 549.8 L277.8 549.1 L278.3 549.8 L278.8 550.1 L279.3 550.9 L279.8 551.4 L280.3 550.7 L280.8 551.4 L281.3 552.7 L281.8 553.0 L282.3 552.4 L282.8 553.0 L283.3 553.0 L283.8 552.7 L284.3 552.6 L284.8 553.2 L285.3 553.4 L285.8 553.0 L286.3 553.1 L286.8 552.4 L287.3 552.5 L287.8 553.6 L288.3 553.4 L288.8 553.1 L289.3 553.9 L289.8 554.4 L290.3 554.4 L290.8 554.8 L291.3 553.8 L291.8 553.7 L292.3 554.4 L292.8 554.0 L293.3 554.2 L293.8 553.3 L294.3 553.4 L294.8 554.1 L295.3 554.6 L295.8 555.4 L296.3 554.4 L296.8 554.6 L297.3 554.9 L297.8 555.1 L298.3 555.5 L298.8 554.7 L299.3 554.3 L299.8 554.4 L300.3 555.4 L300.8 555.3 L301.3 555.0 L301.8 554.4 L302.3 553.3 L302.8 553.2 L303.3 552.3 L303.8 551.1 L304.3 548.3 L304.8 545.5 L305.3 544.7 L305.8 545.5 L306.3 545.0 L306.8 546.5 L307.3 549.9 L307.8 552.6 L308.3 553.1 L308.8 553.7 L309.3 555.7 L309.8 555.2 L310.3 555.9 L310.8 556.5 L311.3 556.0 L311.8 556.3 L312.3 556.4 L312.8 555.3 L313.3 556.2 L313.8 556.9 L314.3 556.7 L314.8 555.8 L315.3 555.8 L315.8 555.4 L316.3 555.0 L316.8 554.9 L317.3 555.4 L317.8 555.2 L318.3 554.6 L318.8 552.9 L319.3 554.0 L319.8 556.4 L320.3 558.0 L320.8 557.3 L321.3 557.0 L321.8 558.2 L322.3 559.3 L322.8 560.2 L323.3 560.7 L323.8 560.4 L324.3 560.4 L324.8 561.2 L325.3 560.1 L325.8 560.1 L326.3 560.5 L326.8 560.1 L327.3 560.3 L327.8 560.7 L328.3 560.2 L328.8 560.4 L329.3 561.2 L329.8 562.6 L330.3 561.9 L330.8 561.0 L331.3 561.4 L331.8 560.9 L332.3 561.1 L332.8 560.7 L333.3 561.7 L333.8 561.5 L334.3 561.0 L334.8 562.1 L335.3 562.7 L335.8 562.6 L336.3 562.1 L336.8 561.6 L337.3 562.1 L337.8 561.1 L338.3 562.1 L338.8 563.5 L339.3 561.9 L339.8 561.2 L340.3 562.0 L340.8 563.0 L341.3 563.4 L341.8 563.9 L342.3 563.3 L342.8 562.9 L343.3 563.8 L343.8 563.6 L344.3 564.3 L344.8 565.0 L345.3 564.8 L345.8 564.7 L346.3 563.5 L346.8 563.7 L347.3 564.1 L347.8 564.0 L348.3 565.4 L348.8 565.8 L349.3 565.4 L349.8 565.3 L350.3 564.7 L350.8 564.2 L351.3 564.4 L351.8 565.0 L352.3 565.4 L352.8 565.5 L353.3 565.4 L353.8 564.7 L354.3 565.0 L354.8 566.0 L355.3 566.3 L355.8 565.3 L356.3 566.2 L356.8 566.8 L357.3 566.5 L357.8 566.4 L358.3 566.3 L358.8 566.4 L359.3 566.2 L359.8 566.1 L360.3 567.6 L360.8 567.4 L361.3 567.2 L361.8 567.9 L362.3 567.6 L362.8 567.4 L363.3 566.5 L363.8 567.2 L364.3 568.7 L364.8 569.6 L365.3 570.0 L365.8 570.0 L366.3 569.7 L366.8 568.2 L367.3 567.1 L367.8 567.0 L368.3 568.4 L368.8 569.3 L369.3 570.1 L369.8 569.9 L370.3 570.1 L370.8 569.2 L371.3 570.3 L371.8 570.2 L372.3 570.6 L372.8 570.1 L373.3 568.8 L373.8 568.6 L374.3 567.4 L374.8 566.8 L375.3 565.9 L375.8 565.0 L376.3 564.9 L376.8 565.8 L377.3 566.8 L377.8 567.1 L378.3 569.5 L378.8 570.2 L379.3 570.3 L379.8 570.0 L380.3 570.6 L380.8 570.9 L381.3 571.5 L381.8 570.5 L382.3 571.1 L382.8 570.5 L383.3 570.3 L383.8 569.5 L384.3 568.0 L384.8 567.1 L385.3 567.7 L385.8 566.8 L386.3 567.9 L386.8 570.2 L387.3 571.2 L387.8 570.8 L388.3 570.2 L388.8 571.2 L389.3 571.7 L389.8 571.9 L390.3 573.0 L390.8 572.8 L391.3 572.6 L391.8 572.2 L392.3 571.4 L392.8 571.5 L393.3 572.1 L393.8 573.4 L394.3 573.3 L394.8 573.3 L395.3 573.5 L395.8 573.8 L396.3 574.5 L396.8 574.2 L397.3 573.7 L397.8 573.8 L398.3 574.0 L398.8 572.9 L399.3 573.9 L399.8 573.7 L400.3 573.8 L400.8 573.7 L401.3 573.7 L401.8 572.9 L402.3 571.2 L402.8 572.2 L403.3 572.9 L403.8 572.6 L404.3 572.7 L404.8 573.9 L405.3 573.7 L405.8 574.4 L406.3 575.0 L406.8 573.9 L407.3 574.4 L407.8 575.2 L408.3 574.6 L408.8 573.8 L409.3 573.5 L409.8 575.1 L410.3 574.6 L410.8 574.0 L411.3 575.0 L411.8 574.7 L412.3 574.6 L412.8 574.6 L413.3 575.5 L413.8 575.5 L414.3 574.9 L414.8 575.4 L415.3 576.2 L415.8 575.5 L416.3 575.3 L416.8 576.0 L417.3 575.2 L417.8 575.0 L418.3 574.4 L418.8 574.5 L419.3 575.0 L419.8 576.0 L420.3 576.3 L420.8 575.7 L421.3 576.0 L421.8 576.0 L422.3 576.0 L422.8 575.5 L423.3 575.8 L423.8 575.9 L424.3 576.5 L424.8 577.7 L425.3 577.1 L425.8 577.3 L426.3 576.8 L426.8 575.4 L427.3 576.4 L427.8 576.7 L428.3 575.3 L428.8 576.2 L429.3 578.5 L429.8 577.1 L430.3 576.2 L430.8 576.2 L431.3 575.9 L431.8 576.4 L432.3 576.6 L432.8 576.7 L433.3 577.8 L433.8 578.3 L434.3 577.5 L434.8 576.2 L435.3 575.8 L435.8 575.8 L436.3 576.6 L436.8 576.4 L437.3 576.1 L437.8 576.2 L438.3 576.8 L438.8 576.7 L439.3 576.4 L439.8 577.6 L440.3 577.0 L440.8 576.2 L441.3 577.0 L441.8 576.9 L442.3 578.3 L442.8 578.4 L443.3 578.2 L443.8 578.5 L444.3 577.0 L444.8 577.0 L445.3 576.8 L445.8 576.2 L446.3 576.3 L446.8 577.6 L447.3 577.1 L447.8 576.4 L448.3 577.4 L448.8 579.3 L449.3 578.0 L449.8 577.0 L450.3 577.5 L450.8 578.3 L451.3 577.8 L451.8 577.5 L452.3 577.5 L452.8 577.3 L453.3 577.8 L453.8 578.7 L454.3 578.1 L454.8 577.2 L455.3 576.2 L455.8 578.2 L456.3 579.0 L456.8 578.1 L457.3 578.1 L457.8 577.7 L458.3 578.4 L458.8 578.2 L459.3 577.2 L459.8 579.0 L460.3 579.6 L460.8 578.5 L461.3 577.9 L461.8 578.4 L462.3 578.8 L462.8 579.4 L463.3 578.9 L463.8 578.9 L464.3 579.5 L464.8 579.4 L465.3 578.7 L465.8 578.1 L466.3 577.8 L466.8 577.8 L467.3 577.8 L467.8 578.4 L468.3 579.2 L468.8 578.5 L469.3 577.8 L469.8 577.2 L470.3 578.6 L470.8 578.5 L471.3 578.8 L471.8 578.7 L472.3 578.1 L472.8 578.1 L473.3 577.2 L473.8 577.7 L474.3 578.8 L474.8 577.9 L475.3 578.1 L475.8 577.9 L476.3 577.7 L476.8 578.7 L477.3 578.2 L477.8 578.7 L478.3 579.0 L478.8 577.2 L479.3 577.6 L479.8 578.5 L480.3 578.4 L480.8 578.9 L481.3 578.9 L481.8 578.6 L482.3 578.5 L482.8 577.5 L483.3 576.8 L483.8 576.9 L484.3 578.1 L484.8 578.3 L485.3 579.1 L485.8 577.8 L486.3 576.8 L486.8 577.4 L487.3 579.4 L487.8 579.4 L488.3 579.1 L488.8 578.7 L489.3 579.5 L489.8 578.5 L490.3 578.7 L490.8 579.2 L491.3 579.6 L491.8 578.7 L492.3 578.8 L492.8 579.1 L493.3 579.4 L493.8 579.7 L494.3 580.3 L494.8 580.4 L495.3 579.7 L495.8 579.6 L496.3 580.0 L496.8 580.1 L497.3 580.0 L497.8 580.3 L498.3 580.4 L498.8 580.4 L499.3 579.7 L499.8 579.8 L500.3 579.2 L500.8 578.4 L501.3 579.1 L501.8 579.8 L502.3 579.4 L502.8 579.2 L503.3 580.3 L503.8 580.7 L504.3 580.2 L504.8 579.2 L505.3 577.7 L505.8 578.1 L506.3 578.7 L506.8 578.0 L507.3 577.3 L507.8 577.7 L508.3 577.5 L508.8 577.9 L509.3 579.1 L509.8 579.6 L510.3 579.4 L510.8 580.0 L511.3 580.8 L511.8 580.3 L512.3 580.5 L512.8 580.9 L513.3 581.2 L513.8 580.8 L514.3 581.0 L514.8 581.4 L515.3 580.5 L515.8 579.8 L516.3 579.8 L516.8 580.8 L517.3 580.5 L517.8 579.9 L518.3 579.4 L518.8 579.9 L519.3 580.1 L519.8 580.4 L520.3 580.6 L520.8 581.2 L521.3 581.8 L521.8 580.6 L522.3 580.6 L522.8 580.6 L523.3 580.8 L523.8 581.4 L524.3 581.8 L524.8 581.5 L525.3 581.5 L525.8 581.8 L526.3 581.4 L526.8 581.0 L527.3 581.3 L527.8 581.1 L528.3 580.5 L528.8 581.6 L529.3 581.9 L529.8 582.0 L530.3 581.5 L530.8 580.6 L531.3 580.9 L531.8 581.2 L532.3 581.1 L532.8 581.9 L533.3 581.5 L533.8 582.6 L534.3 582.4 L534.8 581.9 L535.3 581.1 L535.8 581.3 L536.3 581.8 L536.8 583.1 L537.3 583.9 L537.8 583.0 L538.3 580.8 L538.8 581.2 L539.3 581.2 L539.8 581.6 L540.3 581.4 L540.8 580.7 L541.3 581.1 L541.8 582.3 L542.3 582.1 L542.8 581.8 L543.3 581.9 L543.8 581.7 L544.3 582.4 L544.8 582.4 L545.3 582.5 L545.8 581.4 L546.3 582.1 L546.8 581.9 L547.3 581.2 L547.8 581.5 L548.3 582.4 L548.8 582.8 L549.3 582.3 L549.8 582.2 L550.3 582.1 L550.8 582.6 L551.3 583.9 L551.8 583.9 L552.3 583.8 L552.8 582.9 L553.3 582.9 L553.8 583.0 L554.3 583.5 L554.8 583.6 L555.3 584.0 L555.8 583.2 L556.3 582.5 L556.8 582.1 L557.3 582.5 L557.8 583.2 L558.3 582.8 L558.8 583.1 L559.3 583.8 L559.8 583.8 L560.3 582.6 L560.8 582.4 L561.3 582.3 L561.8 582.9 L562.3 583.2 L562.8 583.0 L563.3 582.3 L563.8 582.2 L564.3 582.1 L564.8 583.1 L565.3 582.9 L565.8 582.8 L566.3 583.5 L566.8 583.7 L567.3 583.1 L567.8 583.3 L568.3 583.5 L568.8 583.0 L569.3 582.6 L569.8 582.9 L570.3 583.8 L570.8 583.5 L571.3 582.7 L571.8 583.1 L572.3 583.8 L572.8 583.5 L573.3 582.8 L573.8 582.7 L574.3 583.8 L574.8 584.7 L575.3 583.7 L575.8 582.9 L576.3 583.1 L576.8 583.7 L577.3 582.5 L577.8 583.0 L578.3 583.4 L578.8 583.8 L579.3 585.0 L579.8 584.4 L580.3 584.2 L580.8 584.5 L581.3 583.7 L581.8 582.9 L582.3 583.6 L582.8 583.6 L583.3 583.8 L583.8 584.5 L584.3 583.7 L584.8 583.9 L585.3 584.1 L585.8 584.7 L586.3 585.3 L586.8 584.0 L587.3 584.2 L587.8 584.9 L588.3 584.3 L588.8 583.6 L589.3 584.0 L589.8 584.6 L590.3 584.0 L590.8 585.5 L591.3 585.8 L591.8 584.8 L592.3 584.7 L592.8 584.7 L593.3 584.3 L593.8 584.1 L594.3 582.8 L594.8 582.7 L595.3 583.3 L595.8 583.9 L596.3 584.7 L596.8 584.9 L597.3 585.0 L597.8 584.7 L598.3 584.6 L598.8 584.6 L599.3 583.9 L599.8 583.7 L600.3 583.7 L600.8 583.4 L601.3 583.9 L601.8 584.1 L602.3 583.7 L602.8 583.7 L603.3 584.3 L603.8 585.5 L604.3 585.6 L604.8 584.7 L605.3 585.2 L605.8 584.7 L606.3 584.0 L606.8 584.2 L607.3 584.1 L607.8 583.8 L608.3 583.7 L608.8 584.2 L609.3 583.7 L609.8 584.1 L610.3 585.3 L610.8 586.0 L611.3 585.1 L611.8 585.0 L612.3 585.2 L612.8 585.1 L613.3 585.1 L613.8 583.7 L614.3 584.3 L614.8 584.3 L615.3 585.0 L615.8 585.7 L616.3 585.0 L616.8 584.6 L617.3 584.7 L617.8 584.6 L618.3 584.7 L618.8 584.4 L619.3 584.0 L619.8 583.9 L620.3 584.8 L620.8 584.5 L621.3 583.7 L621.8 583.8 L622.3 584.5 L622.8 584.4 L623.3 585.0 L623.8 586.3 L624.3 587.2 L624.8 586.1 L625.3 585.7 L625.8 584.1 L626.3 584.2 L626.8 585.0 L627.3 584.9 L627.8 584.3 L628.3 585.4 L628.8 585.6 L629.3 585.4 L629.8 585.2 L630.3 584.9 L630.8 585.5 L631.3 585.2 L631.8 584.9 L632.3 585.0 L632.8 584.3 L633.3 584.3 L633.8 584.6 L634.3 584.9 L634.8 584.7 L635.3 584.6 L635.8 583.8 L636.3 583.9 L636.8 584.9 L637.3 584.7 L637.8 584.4 L638.3 584.9 L638.8 585.3 L639.3 585.6 L639.8 585.1 L640.3 584.4 L640.8 584.9 L641.3 585.6 L641.8 585.2 L642.3 584.8 L642.8 585.2 L643.3 584.5 L643.8 584.1 L644.3 583.6 L644.8 584.5 L645.3 584.9 L645.8 584.6 L646.3 584.5 L646.8 584.3 L647.3 584.7 L647.8 584.6 L648.3 585.0 L648.8 585.1 L649.3 584.9 L649.8 585.0 L650.3 584.9 L650.8 584.4 L651.3 584.1 L651.8 586.0 L652.3 586.6 L652.8 585.3 L653.3 584.5 L653.8 584.6 L654.3 584.2 L654.8 585.3 L655.3 586.1 L655.8 585.7 L656.3 585.0 L656.8 583.8 L657.3 584.1 L657.8 584.4 L658.3 585.7 L658.8 585.2 L659.3 584.9 L659.8 585.5 L660.3 585.9 L660.8 585.5 L661.3 584.8 L661.8 585.3 L662.3 585.4 L662.8 585.2 L663.3 585.3 L663.8 584.9 L664.3 585.6 L664.8 586.1 L665.3 585.5 L665.8 584.8 L666.3 585.5 L666.8 586.0 L667.3 585.7 L667.8 584.8 L668.3 585.0 L668.8 585.9 L669.3 587.4 L669.8 586.3 L670.3 585.6 L670.8 586.0 L671.3 585.4 L671.8 585.6 L672.3 586.7 L672.8 586.6 L673.3 585.7 L673.8 584.3 L674.3 583.4 L674.8 584.6 L675.3 585.1 L675.8 586.1 L676.3 586.1 L676.8 584.6 L677.3 584.2 L677.8 584.9 L678.3 585.6 L678.8 585.8 L679.3 584.3 L679.8 583.7 L680.3 584.6 L680.8 585.0 L681.3 585.5 L681.8 586.1 L682.3 585.6 L682.8 585.9 L683.3 585.6 L683.8 585.8 L684.3 586.0 L684.8 585.2 L685.3 584.1 L685.8 584.4 L686.3 584.7 L686.8 584.1 L687.3 584.1 L687.8 584.5 L688.3 584.8 L688.8 585.8 L689.3 585.5 L689.8 584.0 L690.3 585.1 L690.8 585.0 L691.3 585.4 L691.8 586.3 L692.3 585.8 L692.8 585.1 L693.3 584.9 L693.8 585.5 L694.3 586.1 L694.8 586.1 L695.3 585.8 L695.8 586.7 L696.3 586.3 L696.8 586.8 L697.3 586.4 L697.8 587.1 L698.3 586.9 L698.8 585.5 L699.3 585.4 L699.8 585.7 L700.3 585.9 L700.8 585.0 L701.3 585.4 L701.8 587.6 L702.3 587.1 L702.8 586.7 L703.3 586.2 L703.8 586.2 L704.3 586.4 L704.8 586.1 L705.3 585.7 L705.8 585.9 L706.3 586.6 L706.8 585.9 L707.3 586.2 L707.8 586.0 L708.3 585.9 L708.8 586.3 L709.3 585.3 L709.8 584.6 L710.3 586.0 L710.8 586.3 L711.3 586.4 L711.8 586.7 L712.3 586.4 L712.8 586.7 L713.3 586.5 L713.8 587.0 L714.3 585.6 L714.8 585.5 L715.3 585.4 L715.8 584.7 L716.3 584.9 L716.8 585.2 L717.3 584.7 L717.8 585.6 L718.3 586.1 L718.8 585.0 L719.3 584.7 L719.8 584.6 L720.3 585.1 L720.8 585.4 L721.3 585.1 L721.8 585.2 L722.3 585.8 L722.8 585.8 L723.3 585.0 L723.8 585.1 L724.3 584.9 L724.8 584.6 L725.3 585.6 L725.8 586.2 L726.3 585.9 L726.8 585.6 L727.3 586.6 L727.8 586.5 L728.3 585.6 L728.8 585.7 L729.3 586.3 L729.8 586.1 L730.3 586.9 L730.8 587.2 L731.3 586.3 L731.8 586.0 L732.3 586.3 L732.8 587.1 L733.3 586.7 L733.8 585.3 L734.3 584.8 L734.8 585.3 L735.3 585.5 L735.8 585.5 L736.3 586.5 L736.8 586.5 L737.3 586.9 L737.8 586.8 L738.3 586.2 L738.8 587.6 L739.3 587.6 L739.8 586.2 L740.3 585.4 L740.8 585.5 L741.3 586.2 L741.8 586.0 L742.3 586.6 L742.8 587.4 L743.3 586.5 L743.8 586.0 L744.3 586.5 L744.8 586.3 L745.3 585.2 L745.8 584.8 L746.3 585.6 L746.8 585.8 L747.3 585.8 L747.8 586.3 L748.3 586.4 L748.8 586.0 L749.3 586.4 L749.8 585.9 L750.3 586.1 L750.8 586.6 L751.3 587.1 L751.8 587.4 L752.3 586.9 L752.8 586.5 L753.3 586.7 L753.8 586.6 L754.3 586.1 L754.8 586.2 L755.3 586.3 L755.8 586.2 L756.3 585.1 L756.8 584.7 L757.3 584.9 L757.8 586.4 L758.3 586.4 L758.8 586.0 L759.3 585.3 L759.8 586.5 L760.3 587.1 L760.8 587.8 L761.3 587.9 L761.8 587.2 L762.3 586.8 L762.8 586.8 L763.3 586.5 L763.8 586.4 L764.3 586.6 L764.8 586.6 L765.3 586.1 L765.8 586.7 L766.3 587.7 L766.8 586.6 L767.3 586.4 L767.8 586.7 L768.3 586.1 L768.8 585.9 L769.3 585.6 L769.8 586.1 L770.3 585.6 L770.8 585.2 L771.3 586.7 L771.8 587.3 L772.3 587.2 L772.8 587.6 L773.3 585.7 L773.8 585.4 L774.3 586.7 L774.8 587.4 L775.3 586.8 L775.8 586.3 L776.3 586.4 L776.8 587.7 L777.3 587.0 L777.8 587.2 L778.3 586.9 L778.8 586.2 L779.3 587.0 L779.8 586.8 L780.3 587.2 L780.8 587.3 L781.3 587.3 L781.8 588.4 L782.3 588.3 L782.8 587.4 L783.3 587.8 L783.8 588.5 L784.3 588.5 L784.8 587.7 L785.3 588.2 L785.8 586.7 L786.3 586.2 L786.8 587.0 L787.3 587.0 L787.8 587.6 L788.3 586.2 L788.8 586.8 L789.3 587.2 L789.8 586.4 L790.3 587.1 L790.8 586.5 L791.3 587.1 L791.8 587.4 L792.3 587.6 L792.8 588.0 L793.3 587.8 L793.8 586.6 L794.3 586.4 L794.8 586.7 L795.3 586.4 L795.8 587.7 L796.3 588.0 L796.8 588.9 L797.3 588.1 L797.8 586.8 L798.3 586.8 L798.8 587.2 L799.3 585.3 L799.8 586.8 L800.3 588.7 L800.8 587.9 L801.3 587.8 L801.8 587.6 L802.3 587.6 L802.8 587.0 L803.3 587.6 L803.8 588.3 L804.3 587.7 L804.8 587.8 L805.3 588.5 L805.8 588.5 L806.3 587.7 L806.8 586.7 L807.3 586.6 L807.8 587.4 L808.3 588.0 L808.8 589.4 L809.3 590.4 L809.8 589.3 L810.3 587.5 L810.8 586.9 L811.3 586.5 L811.8 587.5 L812.3 588.1 L812.8 588.1 L813.3 587.3 L813.8 587.6 L814.3 587.9 L814.8 588.0 L815.3 587.2 L815.8 588.2 L816.3 588.0 L816.8 587.4 L817.3 586.8 L817.8 587.4 L818.3 587.8 L818.8 587.7 L819.3 587.5 L819.8 587.0 L820.3 587.3 L820.8 586.7 L821.3 586.0 L821.8 586.4 L822.3 587.4 L822.8 588.0 L823.3 588.3 L823.8 588.9 L824.3 588.4 L824.8 587.9 L825.3 587.7 L825.8 588.2 L826.3 587.6 L826.8 586.7 L827.3 587.5 L827.8 587.9 L828.3 588.5 L828.8 590.0 L829.3 589.3 L829.8 588.9 L830.3 588.6 L830.8 588.0 L831.3 588.3 L831.8 588.4 L832.3 588.3 L832.8 587.8 L833.3 588.2 L833.8 587.8 L834.3 587.1 L834.8 587.2 L835.3 587.7 L835.8 587.8 L836.3 587.0 L836.8 586.7 L837.3 587.1 L837.8 588.0 L838.3 589.3 L838.8 588.5 L839.3 586.8 L839.8 587.5 L840.3 588.6 L840.8 589.1 L841.3 589.0 L841.8 589.4 L842.3 588.8 L842.8 589.6 L843.3 588.7 L843.8 588.5 L844.3 588.6 L844.8 588.0 L845.3 587.8 L845.8 588.7 L846.3 589.2 L846.8 589.9 L847.3 589.4 L847.8 588.5 L848.3 588.7 L848.8 587.9 L849.3 587.3 L849.8 588.0 L850.3 588.1 L850.8 588.3 L851.3 589.2 L851.8 588.6 L852.3 587.9 L852.8 588.2 L853.3 588.3 L853.8 587.5 L854.3 588.6 L854.8 589.1 L855.3 589.4 L855.8 590.1 L856.3 589.8 L856.8 589.0 L857.3 589.5 L857.8 589.0 L858.3 588.1 L858.8 588.5 L859.3 588.9 L859.8 589.0 L860.3 588.3 L860.8 588.3 L861.3 588.8 L861.8 588.4 L862.3 588.4 L862.8 588.5 L863.3 589.1 L863.8 589.1 L864.3 588.1 L864.8 587.2 L865.3 588.7 L865.8 588.6 L866.3 588.9 L866.8 588.4 L867.3 587.9 L867.8 588.9 L868.3 588.9 L868.8 589.0 L869.3 589.7 L869.8 590.6 L870.3 589.3 L870.8 588.7 L871.3 588.6 L871.8 588.9 L872.3 589.3 L872.8 589.2 L873.3 589.3 L873.8 589.3 L874.3 589.2 L874.8 589.7 L875.3 590.8 L875.8 589.4 L876.3 589.0 L876.8 588.9 L877.3 589.8 L877.8 590.0 L878.3 589.3 L878.8 589.0 L879.3 590.0 L879.8 590.2 L880.3 588.6 L880.8 588.6 L881.3 589.3 L881.8 589.5 L882.3 589.8 L882.8 590.0 L883.3 589.6 L883.8 589.7 L884.3 590.1 L884.8 590.0 L885.3 590.7 L885.8 590.4 L886.3 590.6 L886.8 590.5 L887.3 590.5 L887.8 590.2 L888.3 590.2 L888.8 590.2 L889.3 590.2 L889.8 590.9 L890.3 590.2 L890.8 590.7 L891.3 590.4 L891.8 590.8 L892.3 591.0 L892.8 591.8 L893.3 593.0 L893.8 592.5 L894.3 590.6 L894.8 590.1 L895.3 589.8 L895.8 590.0 L896.3 589.6 L896.8 590.0 L897.3 589.8 L897.8 590.9 L898.3 590.1 L898.8 589.3 L899.3 589.7 L899.8 590.0 L900.3 589.9 L900.8 591.2 L901.3 590.8 L901.8 589.7 L902.3 589.4 L902.8 590.2 L903.3 590.8 L903.8 590.9 L904.3 590.2 L904.8 589.9 L905.3 590.6 L905.8 590.2 L906.3 589.6 L906.8 590.1 L907.3 590.1 L907.8 590.1 L908.3 590.1 L908.8 588.9 L909.3 590.2 L909.8 590.1 L910.3 589.8 L910.8 590.0 L911.3 590.2 L911.8 589.6 L912.3 590.3 L912.8 591.2 L913.3 590.9 L913.8 589.7 L914.3 589.3 L914.8 589.0 L915.3 589.4 L915.8 590.9 L916.3 591.0 L916.8 590.3 L917.3 591.8 L917.8 592.0 L918.3 591.1 L918.8 590.3 L919.3 590.3 L919.8 591.1 L920.3 590.8 L920.8 589.8 L921.3 590.5 L921.8 591.1 L922.3 591.4 L922.8 590.3 L923.3 590.2 L923.8 590.4 L924.3 590.4 L924.8 590.5 L925.3 591.3 L925.8 590.3 L926.3 590.0 L926.8 589.9 L927.3 590.6 L927.8 591.4 L928.3 591.3 L928.8 591.4 L929.3 591.3 L929.8 590.4 L930.3 589.6 L930.8 590.5 L931.3 590.8 L931.8 590.6 L932.3 590.4 L932.8 590.5 L933.3 590.2 L933.8 590.1 L934.3 590.3 L934.8 591.3 L935.3 592.3 L935.8 591.3 L936.3 589.8 L936.8 590.8 L937.3 591.5 L937.8 591.5 L938.3 590.5 L938.8 590.0 L939.3 591.1 L939.8 591.3 L940.3 591.9 L940.8 591.2 L941.3 591.9 L941.8 591.2 L942.3 592.2 L942.8 591.9 L943.3 592.0 L943.8 592.0 L944.3 592.2 L944.8 591.9 L945.3 591.6 L945.8 590.7 L946.3 590.7 L946.8 590.4 L947.3 591.0 L947.8 591.4 L948.3 591.6 L948.8 592.2 L949.3 592.3 L949.8 592.2 L950.3 592.5 L950.8 592.4 L951.3 591.1 L951.8 591.0 L952.3 591.2 L952.8 590.7 L953.3 590.5 L953.8 590.0 L954.3 590.6 L954.8 592.0 L955.3 591.2 L955.8 590.2 L956.3 591.1 L956.8 590.8 L957.3 589.9 L957.8 590.5 L958.3 591.2 L958.8 591.4 L959.3 591.4 L959.8 592.1 L960.3 592.1 L960.8 593.3 L961.3 593.1 L961.8 593.1 L962.3 592.5 L962.8 591.4 L963.3 592.8 L963.8 594.1 L964.3 593.5 L964.8 592.1 L965.3 591.3 L965.8 592.1 L966.3 591.7 L966.8 592.0 L967.3 592.7 L967.8 592.5 L968.3 591.7 L968.8 592.3 L969.3 592.3 L969.8 591.6 L970.3 591.6 L970.8 592.4 L971.3 593.0 L971.8 592.2 L972.3 592.2 L972.8 591.4 L973.3 591.3 L973.8 591.7 L974.3 591.7 L974.8 591.6 L975.3 591.2 L975.8 591.2 L976.3 591.6 L976.8 592.3 L977.3 592.5 L977.8 592.8 L978.3 592.9 L978.8 592.0 L979.3 591.3 L979.8 591.7 L980.3 593.1 L980.8 593.3 L981.3 593.5 L981.8 593.1 L982.3 592.2" stroke="#ff0000"/><path d="M35.8 430.8 L36.3 430.6 L36.8 431.1 L37.3 430.7 L37.8 430.1 L38.3 431.3 L38.8 431.3 L39.3 431.9 L39.8 432.6 L40.3 431.5 L40.8 430.4 L41.3 430.8 L41.8 431.6 L42.3 430.7 L42.8 431.4 L43.3 431.6 L43.8 430.9 L44.3 431.6 L44.8 432.0 L45.3 431.3 L45.8 431.5 L46.3 431.9 L46.8 431.1 L47.3 431.4 L47.8 432.6 L48.3 432.2 L48.8 431.4 L49.3 432.5 L49.8 433.4 L50.3 432.1 L50.8 433.0 L51.3 433.3 L51.8 433.0 L52.3 433.1 L52.8 432.9 L53.3 434.3 L53.8 434.4 L54.3 432.9 L54.8 432.9 L55.3 433.2 L55.8 433.1 L56.3 433.3 L56.8 433.0 L57.3 433.7 L57.8 433.6 L58.3 433.7 L58.8 434.3 L59.3 434.4 L59.8 433.7 L60.3 434.5 L60.8 434.9 L61.3 434.7 L61.8 435.1 L62.3 434.0 L62.8 434.0 L63.3 434.5 L63.8 434.5 L64.3 435.5 L64.8 435.5 L65.3 435.8 L65.8 434.3 L66.3 434.4 L66.8 435.5 L67.3 434.9 L67.8 435.5 L68.3 435.0 L68.8 435.6 L69.3 436.2 L69.8 435.4 L70.3 434.6 L70.8 435.3 L71.3 436.4 L71.8 436.3 L72.3 436.3 L72.8 436.1 L73.3 436.0 L73.8 435.6 L74.3 435.3 L74.8 436.2 L75.3 435.8 L75.8 434.7 L76.3 435.8 L76.8 437.2 L77.3 437.3 L77.8 435.7 L78.3 436.1 L78.8 436.8 L79.3 436.7 L79.8 436.1 L80.3 436.3 L80.8 436.1 L81.3 436.0 L81.8 436.0 L82.3 436.3 L82.8 436.1 L83.3 436.4 L83.8 436.5 L84.3 437.3 L84.8 437.7 L85.3 436.6 L85.8 435.9 L86.3 436.1 L86.8 435.8 L87.3 435.5 L87.8 436.3 L88.3 436.7 L88.8 437.3 L89.3 437.2 L89.8 437.7 L90.3 437.6 L90.8 436.8 L91.3 436.6 L91.8 436.6 L92.3 436.9 L92.8 437.5 L93.3 436.9 L93.8 436.6 L94.3 436.9 L94.8 437.9 L95.3 437.3 L95.8 436.9 L96.3 436.8 L96.8 437.1 L97.3 436.8 L97.8 436.3 L98.3 435.5 L98.8 435.9 L99.3 437.4 L99.8 437.7 L100.3 436.6 L100.8 437.3 L101.3 438.4 L101.8 439.4 L102.3 437.5 L102.8 436.7 L103.3 437.0 L103.8 438.2 L104.3 438.5 L104.8 438.1 L105.3 439.2 L105.8 439.4 L106.3 438.1 L106.8 438.0 L107.3 437.7 L107.8 437.3 L108.3 437.4 L108.8 437.4 L109.3 437.0 L109.8 437.8 L110.3 438.3 L110.8 437.5 L111.3 437.3 L111.8 437.4 L112.3 438.1 L112.8 438.3 L113.3 438.7 L113.8 437.8 L114.3 437.3 L114.8 438.2 L115.3 438.4 L115.8 439.2 L116.3 438.5 L116.8 436.3 L117.3 436.5 L117.8 437.8 L118.3 437.5 L118.8 436.7 L119.3 438.0 L119.8 439.5 L120.3 439.1 L120.8 438.2 L121.3 438.9 L121.8 439.4 L122.3 439.2 L122.8 439.8 L123.3 439.2 L123.8 440.4 L124.3 440.5 L124.8 439.6 L125.3 439.2 L125.8 438.8 L126.3 438.6 L126.8 439.8 L127.3 440.3 L127.8 440.0 L128.3 439.5 L128.8 439.1 L129.3 438.5 L129.8 438.3 L130.3 438.3 L130.8 439.1 L131.3 439.0 L131.8 439.6 L132.3 439.5 L132.8 440.6 L133.3 441.2 L133.8 441.1 L134.3 440.6 L134.8 439.5 L135.3 439.1 L135.8 439.1 L136.3 440.1 L136.8 440.6 L137.3 439.9 L137.8 441.0 L138.3 439.6 L138.8 438.9 L139.3 440.0 L139.8 440.5 L140.3 439.6 L140.8 439.5 L141.3 440.5 L141.8 439.7 L142.3 440.3 L142.8 440.1 L143.3 439.7 L143.8 439.7 L144.3 439.0 L144.8 439.1 L145.3 439.7 L145.8 439.2 L146.3 439.6 L146.8 441.3 L147.3 441.9 L147.8 441.5 L148.3 440.9 L148.8 440.2 L149.3 440.0 L149.8 439.1 L150.3 438.2 L150.8 439.7 L151.3 440.6 L151.8 440.6 L152.3 439.8 L152.8 440.4 L153.3 439.5 L153.8 438.6 L154.3 438.8 L154.8 438.9 L155.3 438.0 L155.8 437.6 L156.3 437.5 L156.8 439.0 L157.3 439.9 L157.8 439.5 L158.3 439.9 L158.8 439.5 L159.3 439.8 L159.8 439.4 L160.3 440.3 L160.8 440.2 L161.3 439.7 L161.8 440.1 L162.3 439.8 L162.8 440.0 L163.3 439.9 L163.8 440.4 L164.3 440.4 L164.8 441.3 L165.3 441.1 L165.8 440.5 L166.3 439.1 L166.8 438.3 L167.3 439.4 L167.8 440.5 L168.3 439.0 L168.8 438.7 L169.3 437.5 L169.8 435.3 L170.3 435.1 L170.8 436.6 L171.3 437.1 L171.8 437.9 L172.3 438.8 L172.8 439.8 L173.3 440.4 L173.8 441.2 L174.3 441.1 L174.8 441.3 L175.3 441.2 L175.8 442.1 L176.3 441.0 L176.8 440.2 L177.3 439.6 L177.8 439.0 L178.3 439.6 L178.8 440.3 L179.3 440.1 L179.8 440.6 L180.3 439.3 L180.8 439.2 L181.3 440.5 L181.8 440.7 L182.3 440.2 L182.8 441.4 L183.3 441.9 L183.8 440.9 L184.3 440.1 L184.8 441.1 L185.3 440.7 L185.8 440.6 L186.3 440.8 L186.8 440.6 L187.3 441.4 L187.8 440.8 L188.3 441.4 L188.8 441.8 L189.3 442.2 L189.8 441.6 L190.3 441.3 L190.8 440.6 L191.3 440.3 L191.8 440.4 L192.3 441.0 L192.8 440.8 L193.3 441.6 L193.8 440.7 L194.3 439.8 L194.8 440.3 L195.3 441.3 L195.8 440.8 L196.3 440.7 L196.8 440.0 L197.3 440.9 L197.8 441.5 L198.3 441.5 L198.8 441.2 L199.3 440.0 L199.8 439.2 L200.3 439.8 L200.8 441.2 L201.3 441.5 L201.8 441.3 L202.3 440.8 L202.8 441.0 L203.3 440.2 L203.8 440.6 L204.3 440.3 L204.8 440.6 L205.3 441.6 L205.8 441.7 L206.3 441.1 L206.8 441.1 L207.3 442.2 L207.8 442.0 L208.3 441.0 L208.8 441.2 L209.3 441.4 L209.8 442.0 L210.3 441.9 L210.8 441.7 L211.3 441.4 L211.8 441.3 L212.3 442.1 L212.8 441.4 L213.3 439.9 L213.8 440.8 L214.3 441.4 L214.8 440.9 L215.3 440.6 L215.8 441.0 L216.3 441.5 L216.8 441.1 L217.3 442.0 L217.8 442.9 L218.3 442.8 L218.8 442.5 L219.3 442.1 L219.8 442.5 L220.3 442.2 L220.8 442.1 L221.3 441.5 L221.8 442.3 L222.3 441.7 L222.8 442.0 L223.3 442.5 L223.8 442.0 L224.3 441.5 L224.8 441.8 L225.3 442.7 L225.8 442.9 L226.3 442.3 L226.8 441.4 L227.3 441.6 L227.8 442.4 L228.3 442.4 L228.8 441.5 L229.3 441.5 L229.8 442.6 L230.3 443.0 L230.8 442.2 L231.3 441.8 L231.8 443.1 L232.3 442.8 L232.8 442.2 L233.3 440.9 L233.8 441.4 L234.3 442.2 L234.8 442.4 L235.3 441.6 L235.8 440.9 L236.3 440.9 L236.8 441.9 L237.3 442.7 L237.8 442.4 L238.3 441.3 L238.8 441.7 L239.3 442.6 L239.8 443.4 L240.3 443.3 L240.8 442.6 L241.3 441.8 L241.8 443.0 L242.3 442.9 L242.8 442.7 L243.3 442.3 L243.8 442.4 L244.3 442.4 L244.8 442.3 L245.3 442.3 L245.8 443.3 L246.3 443.5 L246.8 442.6 L247.3 442.1 L247.8 442.2 L248.3 442.9 L248.8 443.8 L249.3 443.6 L249.8 443.9 L250.3 442.4 L250.8 441.9 L251.3 442.2 L251.8 442.5 L252.3 443.6 L252.8 444.3 L253.3 443.3 L253.8 443.7 L254.3 444.9 L254.8 445.4 L255.3 444.4 L255.8 444.5 L256.3 444.6 L256.8 443.8 L257.3 443.2 L257.8 441.6 L258.3 439.6 L258.8 438.1 L259.3 437.9 L259.8 438.0 L260.3 438.5 L260.8 439.8 L261.3 442.6 L261.8 443.8 L262.3 444.9 L262.8 444.3 L263.3 443.5 L263.8 443.9 L264.3 444.4 L264.8 445.0 L265.3 443.4 L265.8 443.8 L266.3 444.0 L266.8 443.5 L267.3 444.9 L267.8 445.6 L268.3 445.8 L268.8 445.6 L269.3 445.2 L269.8 445.4 L270.3 444.7 L270.8 444.7 L271.3 444.7 L271.8 444.2 L272.3 443.1 L272.8 440.2 L273.3 436.2 L273.8 430.5 L274.3 425.0 L274.8 421.8 L275.3 423.2 L275.8 429.8 L276.3 436.4 L276.8 440.3 L277.3 442.6 L277.8 443.7 L278.3 444.6 L278.8 445.2 L279.3 445.9 L279.8 445.9 L280.3 446.3 L280.8 446.2 L281.3 445.4 L281.8 444.7 L282.3 444.7 L282.8 445.2 L283.3 446.2 L283.8 446.8 L284.3 446.1 L284.8 446.6 L285.3 446.7 L285.8 447.8 L286.3 448.5 L286.8 447.9 L287.3 447.2 L287.8 447.4 L288.3 447.6 L288.8 446.7 L289.3 446.3 L289.8 447.1 L290.3 447.8 L290.8 447.0 L291.3 447.7 L291.8 447.7 L292.3 446.8 L292.8 446.0 L293.3 445.4 L293.8 445.9 L294.3 447.0 L294.8 447.3 L295.3 446.5 L295.8 446.2 L296.3 446.7 L296.8 447.8 L297.3 445.8 L297.8 445.2 L298.3 446.1 L298.8 445.3 L299.3 445.2 L299.8 444.0 L300.3 443.2 L300.8 439.8 L301.3 430.3 L301.8 412.6 L302.3 382.8 L302.8 344.4 L303.3 308.1 L303.8 297.2 L304.3 321.2 L304.8 360.8 L305.3 396.8 L305.8 421.4 L306.3 435.2 L306.8 440.5 L307.3 442.6 L307.8 444.0 L308.3 444.1 L308.8 441.4 L309.3 436.1 L309.8 427.8 L310.3 417.5 L310.8 408.9 L311.3 406.0 L311.8 408.6 L312.3 418.5 L312.8 429.7 L313.3 437.6 L313.8 442.9 L314.3 446.7 L314.8 448.1 L315.3 446.4 L315.8 441.8 L316.3 434.9 L316.8 426.2 L317.3 416.4 L317.8 412.3 L318.3 416.1 L318.8 423.8 L319.3 432.8 L319.8 440.5 L320.3 445.5 L320.8 448.4 L321.3 450.6 L321.8 451.6 L322.3 451.3 L322.8 450.4 L323.3 452.3 L323.8 453.3 L324.3 453.4 L324.8 451.9 L325.3 450.7 L325.8 451.2 L326.3 452.5 L326.8 454.1 L327.3 453.1 L327.8 453.1 L328.3 454.3 L328.8 454.7 L329.3 454.5 L329.8 454.3 L330.3 455.3 L330.8 454.7 L331.3 454.0 L331.8 454.2 L332.3 453.5 L332.8 453.4 L333.3 453.9 L333.8 453.9 L334.3 454.4 L334.8 454.6 L335.3 454.7 L335.8 455.0 L336.3 455.9 L336.8 455.1 L337.3 454.9 L337.8 454.9 L338.3 455.0 L338.8 455.5 L339.3 457.1 L339.8 456.6 L340.3 456.7 L340.8 456.0 L341.3 455.4 L341.8 455.7 L342.3 455.8 L342.8 455.7 L343.3 456.9 L343.8 458.0 L344.3 457.7 L344.8 458.1 L345.3 457.8 L345.8 456.6 L346.3 457.9 L346.8 457.3 L347.3 458.5 L347.8 458.3 L348.3 458.6 L348.8 459.6 L349.3 458.6 L349.8 456.6 L350.3 456.1 L350.8 457.0 L351.3 458.5 L351.8 458.7 L352.3 458.9 L352.8 458.9 L353.3 458.9 L353.8 457.4 L354.3 456.7 L354.8 457.7 L355.3 458.6 L355.8 457.4 L356.3 456.6 L356.8 457.8 L357.3 459.0 L357.8 459.0 L358.3 458.4 L358.8 457.8 L359.3 457.2 L359.8 458.7 L360.3 460.0 L360.8 459.3 L361.3 459.6 L361.8 458.4 L362.3 458.3 L362.8 458.6 L363.3 458.5 L363.8 458.1 L364.3 459.4 L364.8 458.6 L365.3 457.7 L365.8 459.1 L366.3 459.1 L366.8 458.3 L367.3 458.9 L367.8 459.8 L368.3 459.8 L368.8 459.3 L369.3 458.7 L369.8 459.3 L370.3 460.3 L370.8 460.7 L371.3 459.6 L371.8 458.8 L372.3 457.4 L372.8 453.3 L373.3 446.5 L373.8 437.0 L374.3 423.3 L374.8 407.0 L375.3 392.4 L375.8 386.0 L376.3 391.9 L376.8 406.3 L377.3 422.5 L377.8 436.5 L378.3 446.1 L378.8 452.6 L379.3 455.6 L379.8 455.8 L380.3 454.8 L380.8 451.3 L381.3 443.8 L381.8 432.9 L382.3 419.3 L382.8 406.1 L383.3 397.1 L383.8 398.3 L384.3 408.2 L384.8 424.5 L385.3 438.0 L385.8 447.3 L386.3 454.5 L386.8 459.2 L387.3 459.8 L387.8 459.6 L388.3 460.6 L388.8 461.1 L389.3 461.9 L389.8 461.7 L390.3 461.1 L390.8 462.2 L391.3 463.4 L391.8 463.8 L392.3 463.6 L392.8 464.4 L393.3 464.5 L393.8 464.2 L394.3 463.8 L394.8 462.2 L395.3 463.9 L395.8 464.6 L396.3 463.9 L396.8 464.0 L397.3 463.4 L397.8 463.4 L398.3 463.4 L398.8 463.1 L399.3 463.2 L399.8 462.8 L400.3 464.0 L400.8 465.7 L401.3 465.9 L401.8 465.1 L402.3 465.7 L402.8 464.8 L403.3 463.6 L403.8 463.9 L404.3 464.5 L404.8 464.9 L405.3 465.1 L405.8 464.4 L406.3 464.6 L406.8 465.5 L407.3 465.3 L407.8 465.2 L408.3 465.2 L408.8 465.6 L409.3 465.5 L409.8 464.9 L410.3 465.5 L410.8 465.0 L411.3 465.1 L411.8 465.2 L412.3 465.6 L412.8 465.6 L413.3 465.7 L413.8 465.4 L414.3 465.2 L414.8 465.4 L415.3 465.1 L415.8 464.4 L416.3 464.2 L416.8 465.6 L417.3 466.1 L417.8 465.1 L418.3 465.4 L418.8 465.1 L419.3 465.6 L419.8 466.1 L420.3 465.8 L420.8 464.9 L421.3 464.1 L421.8 464.9 L422.3 465.7 L422.8 466.1 L423.3 465.3 L423.8 465.3 L424.3 465.9 L424.8 466.1 L425.3 465.1 L425.8 465.6 L426.3 465.2 L426.8 464.3 L427.3 463.4 L427.8 463.1 L428.3 462.7 L428.8 459.9 L429.3 456.5 L429.8 453.9 L430.3 452.5 L430.8 451.9 L431.3 453.4 L431.8 456.4 L432.3 459.4 L432.8 461.1 L433.3 462.9 L433.8 465.1 L434.3 465.5 L434.8 465.5 L435.3 465.6 L435.8 466.4 L436.3 466.9 L436.8 466.1 L437.3 466.1 L437.8 466.4 L438.3 466.7 L438.8 466.4 L439.3 466.2 L439.8 465.9 L440.3 466.0 L440.8 466.0 L441.3 466.6 L441.8 466.7 L442.3 467.2 L442.8 465.9 L443.3 465.4 L443.8 466.3 L444.3 465.6 L444.8 464.1 L445.3 464.0 L445.8 460.9 L446.3 458.0 L446.8 454.9 L447.3 453.9 L447.8 454.7 L448.3 456.0 L448.8 459.0 L449.3 462.0 L449.8 463.7 L450.3 463.3 L450.8 461.9 L451.3 459.7 L451.8 457.8 L452.3 456.9 L452.8 456.9 L453.3 457.7 L453.8 460.2 L454.3 463.6 L454.8 465.5 L455.3 466.0 L455.8 466.0 L456.3 466.0 L456.8 466.2 L457.3 467.1 L457.8 466.5 L458.3 467.6 L458.8 467.6 L459.3 468.7 L459.8 467.8 L460.3 466.9 L460.8 466.8 L461.3 466.9 L461.8 467.8 L462.3 467.2 L462.8 466.7 L463.3 466.3 L463.8 466.5 L464.3 465.6 L464.8 466.1 L465.3 466.7 L465.8 465.4 L466.3 466.3 L466.8 466.9 L467.3 466.3 L467.8 466.2 L468.3 464.9 L468.8 462.1 L469.3 458.7 L469.8 457.2 L470.3 456.9 L470.8 458.3 L471.3 459.4 L471.8 460.5 L472.3 461.0 L472.8 461.4 L473.3 459.4 L473.8 454.5 L474.3 450.6 L474.8 446.0 L475.3 442.3 L475.8 442.6 L476.3 446.7 L476.8 452.6 L477.3 457.4 L477.8 461.7 L478.3 463.3 L478.8 462.8 L479.3 463.4 L479.8 463.2 L480.3 461.5 L480.8 458.3 L481.3 455.0 L481.8 453.3 L482.3 452.6 L482.8 452.4 L483.3 456.0 L483.8 460.8 L484.3 462.8 L484.8 464.2 L485.3 467.0 L485.8 467.9 L486.3 467.1 L486.8 467.2 L487.3 467.2 L487.8 467.4 L488.3 467.7 L488.8 467.1 L489.3 466.9 L489.8 466.5 L490.3 466.0 L490.8 467.2 L491.3 467.8 L491.8 467.4 L492.3 467.4 L492.8 467.5 L493.3 466.6 L493.8 466.4 L494.3 467.2 L494.8 467.7 L495.3 467.9 L495.8 466.4 L496.3 466.4 L496.8 466.6 L497.3 467.9 L497.8 467.1 L498.3 466.5 L498.8 464.8 L499.3 465.0 L499.8 465.4 L500.3 463.7 L500.8 461.6 L501.3 459.6 L501.8 456.3 L502.3 453.0 L502.8 450.5 L503.3 449.4 L503.8 450.5 L504.3 450.8 L504.8 450.3 L505.3 450.0 L505.8 450.1 L506.3 452.3 L506.8 455.1 L507.3 455.2 L507.8 456.1 L508.3 457.8 L508.8 458.1 L509.3 458.3 L509.8 459.2 L510.3 460.3 L510.8 462.0 L511.3 463.8 L511.8 465.7 L512.3 466.3 L512.8 466.4 L513.3 467.9 L513.8 468.5 L514.3 468.8 L514.8 469.0 L515.3 468.8 L515.8 468.6 L516.3 469.3 L516.8 469.2 L517.3 468.2 L517.8 468.0 L518.3 468.1 L518.8 467.8 L519.3 466.4 L519.8 464.8 L520.3 464.3 L520.8 462.2 L521.3 460.9 L521.8 461.6 L522.3 463.4 L522.8 464.5 L523.3 464.7 L523.8 465.8 L524.3 466.8 L524.8 468.0 L525.3 468.8 L525.8 469.2 L526.3 470.6 L526.8 470.7 L527.3 470.8 L527.8 470.1 L528.3 469.0 L528.8 469.4 L529.3 468.6 L529.8 468.8 L530.3 469.8 L530.8 470.1 L531.3 470.3 L531.8 470.2 L532.3 470.9 L532.8 471.0 L533.3 470.4 L533.8 469.7 L534.3 469.9 L534.8 471.5 L535.3 472.4 L535.8 470.8 L536.3 470.3 L536.8 469.4 L537.3 468.9 L537.8 470.5 L538.3 471.0 L538.8 471.0 L539.3 470.3 L539.8 470.4 L540.3 471.4 L540.8 470.7 L541.3 471.3 L541.8 471.7 L542.3 471.0 L542.8 470.6 L543.3 470.7 L543.8 469.9 L544.3 470.4 L544.8 470.5 L545.3 470.1 L545.8 470.9 L546.3 472.3 L546.8 472.7 L547.3 471.2 L547.8 471.4 L548.3 471.6 L548.8 471.1 L549.3 471.0 L549.8 471.8 L550.3 471.7 L550.8 471.0 L551.3 472.1 L551.8 471.8 L552.3 471.4 L552.8 471.5 L553.3 472.0 L553.8 470.9 L554.3 471.0 L554.8 471.4 L555.3 471.0 L555.8 471.4 L556.3 472.2 L556.8 472.5 L557.3 471.8 L557.8 471.5 L558.3 472.0 L558.8 471.7 L559.3 471.3 L559.8 472.1 L560.3 471.6 L560.8 471.3 L561.3 472.3 L561.8 472.2 L562.3 471.5 L562.8 471.8 L563.3 471.2 L563.8 470.8 L564.3 470.9 L564.8 471.7 L565.3 471.6 L565.8 471.4 L566.3 470.4 L566.8 470.3 L567.3 469.8 L567.8 470.2 L568.3 470.5 L568.8 470.3 L569.3 469.9 L569.8 470.5 L570.3 469.7 L570.8 470.4 L571.3 470.2 L571.8 469.9 L572.3 468.7 L572.8 468.8 L573.3 469.4 L573.8 469.9 L574.3 469.2 L574.8 469.2 L575.3 468.7 L575.8 468.8 L576.3 468.3 L576.8 468.4 L577.3 468.7 L577.8 467.7 L578.3 467.7 L578.8 469.6 L579.3 471.5 L579.8 471.5 L580.3 470.9 L580.8 471.2 L581.3 471.3 L581.8 471.8 L582.3 472.2 L582.8 470.9 L583.3 470.4 L583.8 470.2 L584.3 471.3 L584.8 472.7 L585.3 472.2 L585.8 471.4 L586.3 471.7 L586.8 472.3 L587.3 473.3 L587.8 473.3 L588.3 473.3 L588.8 473.8 L589.3 473.7 L589.8 473.5 L590.3 472.4 L590.8 472.0 L591.3 472.9 L591.8 473.9 L592.3 472.7 L592.8 472.9 L593.3 473.1 L593.8 472.2 L594.3 472.4 L594.8 474.0 L595.3 473.2 L595.8 472.8 L596.3 473.2 L596.8 472.8 L597.3 471.7 L597.8 471.5 L598.3 472.3 L598.8 472.4 L599.3 472.5 L599.8 472.7 L600.3 474.5 L600.8 474.2 L601.3 474.3 L601.8 473.0 L602.3 472.7 L602.8 472.6 L603.3 473.0 L603.8 473.1 L604.3 472.4 L604.8 471.9 L605.3 472.1 L605.8 472.6 L606.3 472.8 L606.8 471.4 L607.3 471.3 L607.8 471.8 L608.3 471.2 L608.8 468.7 L609.3 466.4 L609.8 463.8 L610.3 461.5 L610.8 460.5 L611.3 460.7 L611.8 462.6 L612.3 465.5 L612.8 468.7 L613.3 470.3 L613.8 472.0 L614.3 472.1 L614.8 472.1 L615.3 472.0 L615.8 472.9 L616.3 474.0 L616.8 473.9 L617.3 473.0 L617.8 474.3 L618.3 473.7 L618.8 473.5 L619.3 473.7 L619.8 473.0 L620.3 472.4 L620.8 472.7 L621.3 473.1 L621.8 474.2 L622.3 472.9 L622.8 471.8 L623.3 473.5 L623.8 473.7 L624.3 472.7 L624.8 472.5 L625.3 474.7 L625.8 473.4 L626.3 472.6 L626.8 472.6 L627.3 473.0 L627.8 473.1 L628.3 473.3 L628.8 473.4 L629.3 473.4 L629.8 473.5 L630.3 472.8 L630.8 473.5 L631.3 473.5 L631.8 473.3 L632.3 473.5 L632.8 473.4 L633.3 473.1 L633.8 472.5 L634.3 472.0 L634.8 471.5 L635.3 471.6 L635.8 472.3 L636.3 473.1 L636.8 472.8 L637.3 472.5 L637.8 471.5 L638.3 471.0 L638.8 472.1 L639.3 472.4 L639.8 470.0 L640.3 468.7 L640.8 465.4 L641.3 462.5 L641.8 460.6 L642.3 459.8 L642.8 461.0 L643.3 462.3 L643.8 464.2 L644.3 466.4 L644.8 469.5 L645.3 471.6 L645.8 471.7 L646.3 471.5 L646.8 471.4 L647.3 471.8 L647.8 472.0 L648.3 473.1 L648.8 472.8 L649.3 473.1 L649.8 472.4 L650.3 473.3 L650.8 473.6 L651.3 473.5 L651.8 473.0 L652.3 472.8 L652.8 474.1 L653.3 472.7 L653.8 473.2 L654.3 472.6 L654.8 472.1 L655.3 473.1 L655.8 473.7 L656.3 472.7 L656.8 470.6 L657.3 469.7 L657.8 468.9 L658.3 466.6 L658.8 463.5 L659.3 459.2 L659.8 455.5 L660.3 455.2 L660.8 457.5 L661.3 459.8 L661.8 463.0 L662.3 467.4 L662.8 470.0 L663.3 470.4 L663.8 471.1 L664.3 472.0 L664.8 472.6 L665.3 472.1 L665.8 471.9 L666.3 471.6 L666.8 471.1 L667.3 471.9 L667.8 471.1 L668.3 468.4 L668.8 465.6 L669.3 462.7 L669.8 459.6 L670.3 457.7 L670.8 458.6 L671.3 461.0 L671.8 463.6 L672.3 465.4 L672.8 467.6 L673.3 468.9 L673.8 470.4 L674.3 468.8 L674.8 468.6 L675.3 468.4 L675.8 466.4 L676.3 466.7 L676.8 467.3 L677.3 469.5 L677.8 470.4 L678.3 470.8 L678.8 471.5 L679.3 472.7 L679.8 473.1 L680.3 473.5 L680.8 473.5 L681.3 472.9 L681.8 473.4 L682.3 474.1 L682.8 473.8 L683.3 473.6 L683.8 473.2 L684.3 472.9 L684.8 473.1 L685.3 473.8 L685.8 474.8 L686.3 473.4 L686.8 472.7 L687.3 473.3 L687.8 473.1 L688.3 473.0 L688.8 473.7 L689.3 473.2 L689.8 472.9 L690.3 474.0 L690.8 475.1 L691.3 474.7 L691.8 473.9 L692.3 473.6 L692.8 473.6 L693.3 473.8 L693.8 473.5 L694.3 473.5 L694.8 473.4 L695.3 473.0 L695.8 472.1 L696.3 472.8 L696.8 472.9 L697.3 473.1 L697.8 473.3 L698.3 472.4 L698.8 472.5 L699.3 473.3 L699.8 473.6 L700.3 474.0 L700.8 473.4 L701.3 472.4 L701.8 473.1 L702.3 473.1 L702.8 473.3 L703.3 473.5 L703.8 472.8 L704.3 471.8 L704.8 470.8 L705.3 471.4 L705.8 472.3 L706.3 472.1 L706.8 471.1 L707.3 471.1 L707.8 472.2 L708.3 472.9 L708.8 472.9 L709.3 474.3 L709.8 474.5 L710.3 473.2 L710.8 474.2 L711.3 473.5 L711.8 470.3 L712.3 469.1 L712.8 469.3 L713.3 469.0 L713.8 468.7 L714.3 469.9 L714.8 471.1 L715.3 470.7 L715.8 470.4 L716.3 471.9 L716.8 473.3 L717.3 473.7 L717.8 472.4 L718.3 469.6 L718.8 469.6 L719.3 470.0 L719.8 469.8 L720.3 470.5 L720.8 471.0 L721.3 471.6 L721.8 471.8 L722.3 471.1 L722.8 471.2 L723.3 469.2 L723.8 468.1 L724.3 467.6 L724.8 467.6 L725.3 468.9 L725.8 469.5 L726.3 468.3 L726.8 469.2 L727.3 469.1 L727.8 466.6 L728.3 463.5 L728.8 462.6 L729.3 461.6 L729.8 460.6 L730.3 463.0 L730.8 466.7 L731.3 469.2 L731.8 471.6 L732.3 472.7 L732.8 471.8 L733.3 472.2 L733.8 473.6 L734.3 473.7 L734.8 474.2 L735.3 474.0 L735.8 473.5 L736.3 474.3 L736.8 474.1 L737.3 473.4 L737.8 473.2 L738.3 473.4 L738.8 474.1 L739.3 474.6 L739.8 474.4 L740.3 473.5 L740.8 472.9 L741.3 473.6 L741.8 473.7 L742.3 473.2 L742.8 473.5 L743.3 475.0 L743.8 474.9 L744.3 473.5 L744.8 474.3 L745.3 474.7 L745.8 474.9 L746.3 473.9 L746.8 474.2 L747.3 473.6 L747.8 473.5 L748.3 473.9 L748.8 474.2 L749.3 473.2 L749.8 472.0 L750.3 472.6 L750.8 471.9 L751.3 470.8 L751.8 469.8 L752.3 470.8 L752.8 472.6 L753.3 473.4 L753.8 473.1 L754.3 472.8 L754.8 473.6 L755.3 473.4 L755.8 474.0 L756.3 473.3 L756.8 472.9 L757.3 473.9 L757.8 474.2 L758.3 474.0 L758.8 473.2 L759.3 473.4 L759.8 474.5 L760.3 474.6 L760.8 475.5 L761.3 475.3 L761.8 473.6 L762.3 472.9 L762.8 472.0 L763.3 473.2 L763.8 473.7 L764.3 474.0 L764.8 473.8 L765.3 473.5 L765.8 473.3 L766.3 473.7 L766.8 474.9 L767.3 475.3 L767.8 475.9 L768.3 475.1 L768.8 474.0 L769.3 474.1 L769.8 474.7 L770.3 473.3 L770.8 473.8 L771.3 473.6 L771.8 473.0 L772.3 474.5 L772.8 474.4 L773.3 473.9 L773.8 473.6 L774.3 474.0 L774.8 474.4 L775.3 474.8 L775.8 474.8 L776.3 475.7 L776.8 474.5 L777.3 474.1 L777.8 474.1 L778.3 474.7 L778.8 474.6 L779.3 475.4 L779.8 475.4 L780.3 474.5 L780.8 473.3 L781.3 474.0 L781.8 474.4 L782.3 474.4 L782.8 473.7 L783.3 474.6 L783.8 474.9 L784.3 474.5 L784.8 474.3 L785.3 474.2 L785.8 474.5 L786.3 473.5 L786.8 474.0 L787.3 475.6 L787.8 474.4 L788.3 473.5 L788.8 472.7 L789.3 472.5 L789.8 471.8 L790.3 469.7 L790.8 467.8 L791.3 466.9 L791.8 465.9 L792.3 463.8 L792.8 463.6 L793.3 462.9 L793.8 462.7 L794.3 463.6 L794.8 466.5 L795.3 469.3 L795.8 468.9 L796.3 470.4 L796.8 471.8 L797.3 471.0 L797.8 469.1 L798.3 467.3 L798.8 465.7 L799.3 463.4 L799.8 463.4 L800.3 461.9 L800.8 461.6 L801.3 464.1 L801.8 466.4 L802.3 468.0 L802.8 468.9 L803.3 470.9 L803.8 472.9 L804.3 473.6 L804.8 473.9 L805.3 473.0 L805.8 471.7 L806.3 471.4 L806.8 471.2 L807.3 470.8 L807.8 470.5 L808.3 470.7 L808.8 471.5 L809.3 472.0 L809.8 472.2 L810.3 473.8 L810.8 474.3 L811.3 474.1 L811.8 474.5 L812.3 474.7 L812.8 474.5 L813.3 473.3 L813.8 473.5 L814.3 475.1 L814.8 475.3 L815.3 476.3 L815.8 476.5 L816.3 476.2 L816.8 476.4 L817.3 475.1 L817.8 474.9 L818.3 474.6 L818.8 475.4 L819.3 476.2 L819.8 475.8 L820.3 475.5 L820.8 474.9 L821.3 475.2 L821.8 475.0 L822.3 475.2 L822.8 475.2 L823.3 476.1 L823.8 476.2 L824.3 476.1 L824.8 476.5 L825.3 476.6 L825.8 475.7 L826.3 475.0 L826.8 475.5 L827.3 476.7 L827.8 476.1 L828.3 474.8 L828.8 475.1 L829.3 476.3 L829.8 476.3 L830.3 477.3 L830.8 477.2 L831.3 476.0 L831.8 475.4 L832.3 475.4 L832.8 475.9 L833.3 475.2 L833.8 475.8 L834.3 476.1 L834.8 476.8 L835.3 475.9 L835.8 475.5 L836.3 476.0 L836.8 475.6 L837.3 476.2 L837.8 475.8 L838.3 475.5 L838.8 475.6 L839.3 475.5 L839.8 475.3 L840.3 476.2 L840.8 476.1 L841.3 476.0 L841.8 477.0 L842.3 477.0 L842.8 477.0 L843.3 475.7 L843.8 476.8 L844.3 477.1 L844.8 477.6 L845.3 476.7 L845.8 476.0 L846.3 476.0 L846.8 476.3 L847.3 475.5 L847.8 475.7 L848.3 476.3 L848.8 478.0 L849.3 477.4 L849.8 475.8 L850.3 474.5 L850.8 475.7 L851.3 476.1 L851.8 476.4 L852.3 476.4 L852.8 475.7 L853.3 475.4 L853.8 475.9 L854.3 476.2 L854.8 476.1 L855.3 476.1 L855.8 475.8 L856.3 475.1 L856.8 475.3 L857.3 474.5 L857.8 473.9 L858.3 473.2 L858.8 473.3 L859.3 473.6 L859.8 472.9 L860.3 472.4 L860.8 472.4 L861.3 472.1 L861.8 471.7 L862.3 471.8 L862.8 473.4 L863.3 474.2 L863.8 473.8 L864.3 472.0 L864.8 472.0 L865.3 472.4 L865.8 471.8 L866.3 472.0 L866.8 471.6 L867.3 470.7 L867.8 471.7 L868.3 472.0 L868.8 472.4 L869.3 473.3 L869.8 473.4 L870.3 473.7 L870.8 475.6 L871.3 476.4 L871.8 476.6 L872.3 476.3 L872.8 475.6 L873.3 476.7 L873.8 478.0 L874.3 477.5 L874.8 477.1 L875.3 477.1 L875.8 476.9 L876.3 477.0 L876.8 476.9 L877.3 476.5 L877.8 476.7 L878.3 476.9 L878.8 477.5 L879.3 478.5 L879.8 477.0 L880.3 476.0 L880.8 476.1 L881.3 475.9 L881.8 477.1 L882.3 476.1 L882.8 475.5 L883.3 475.4 L883.8 475.0 L884.3 473.8 L884.8 473.6 L885.3 473.4 L885.8 473.8 L886.3 474.5 L886.8 474.9 L887.3 476.3 L887.8 476.5 L888.3 476.9 L888.8 476.6 L889.3 476.6 L889.8 476.7 L890.3 477.5 L890.8 477.2 L891.3 476.6 L891.8 476.9 L892.3 478.6 L892.8 478.3 L893.3 478.2 L893.8 478.5 L894.3 478.3 L894.8 478.4 L895.3 477.8 L895.8 478.0 L896.3 478.4 L896.8 477.1 L897.3 477.2 L897.8 477.4 L898.3 478.3 L898.8 477.6 L899.3 477.4 L899.8 477.2 L900.3 476.5 L900.8 476.4 L901.3 476.4 L901.8 476.6 L902.3 475.6 L902.8 475.4 L903.3 474.4 L903.8 473.7 L904.3 473.1 L904.8 472.4 L905.3 471.8 L905.8 471.7 L906.3 472.8 L906.8 474.2 L907.3 475.6 L907.8 476.0 L908.3 476.7 L908.8 478.2 L909.3 478.0 L909.8 477.6 L910.3 476.9 L910.8 476.8 L911.3 476.8 L911.8 476.7 L912.3 477.3 L912.8 477.5 L913.3 477.0 L913.8 477.2 L914.3 477.7 L914.8 476.6 L915.3 477.4 L915.8 478.7 L916.3 478.6 L916.8 478.6 L917.3 479.2 L917.8 479.1 L918.3 478.3 L918.8 477.0 L919.3 476.4 L919.8 477.0 L920.3 478.1 L920.8 477.3 L921.3 477.3 L921.8 478.0 L922.3 477.5 L922.8 477.2 L923.3 476.2 L923.8 476.1 L924.3 475.9 L924.8 475.3 L925.3 474.5 L925.8 474.8 L926.3 475.7 L926.8 475.7 L927.3 475.8 L927.8 475.8 L928.3 477.0 L928.8 476.3 L929.3 476.4 L929.8 477.1 L930.3 477.0 L930.8 477.6 L931.3 478.5 L931.8 477.9 L932.3 477.3 L932.8 477.6 L933.3 476.6 L933.8 476.0 L934.3 475.9 L934.8 474.9 L935.3 473.1 L935.8 473.3 L936.3 472.6 L936.8 471.9 L937.3 472.1 L937.8 472.7 L938.3 473.7 L938.8 476.1 L939.3 477.2 L939.8 476.8 L940.3 476.9 L940.8 477.4 L941.3 478.2 L941.8 478.3 L942.3 478.9 L942.8 478.6 L943.3 478.3 L943.8 476.7 L944.3 476.6 L944.8 477.4 L945.3 477.3 L945.8 476.8 L946.3 476.3 L946.8 476.4 L947.3 477.2 L947.8 477.5 L948.3 477.9 L948.8 477.5 L949.3 477.7 L949.8 478.2 L950.3 478.2 L950.8 477.5 L951.3 478.0 L951.8 478.4 L952.3 476.7 L952.8 477.5 L953.3 478.0 L953.8 477.2 L954.3 476.5 L954.8 477.1 L955.3 477.1 L955.8 477.1 L956.3 476.8 L956.8 476.8 L957.3 477.1 L957.8 477.0 L958.3 478.0 L958.8 477.9 L959.3 477.4 L959.8 477.8 L960.3 478.3 L960.8 477.9 L961.3 478.9 L961.8 479.8 L962.3 478.6 L962.8 478.1 L963.3 477.6 L963.8 477.6 L964.3 477.7 L964.8 478.6 L965.3 477.8 L965.8 477.9 L966.3 477.5 L966.8 477.5 L967.3 476.9 L967.8 477.1 L968.3 478.6 L968.8 478.8 L969.3 478.0 L969.8 477.5 L970.3 477.3 L970.8 476.9 L971.3 477.9 L971.8 478.5 L972.3 478.0 L972.8 479.1 L973.3 478.7 L973.8 478.9 L974.3 478.2 L974.8 476.8 L975.3 476.9 L975.8 478.6 L976.3 478.6 L976.8 477.8 L977.3 478.9 L977.8 478.8 L978.3 479.8 L978.8 478.4 L979.3 478.3 L979.8 477.8 L980.3 477.3 L980.8 477.7 L981.3 477.0 L981.8 476.7 L982.3 477.3" stroke="#0000ff"/><path d="M35.8 326.4 L36.3 326.3 L36.8 326.5 L37.3 327.5 L37.8 328.5 L38.3 327.6 L38.8 328.8 L39.3 329.4 L39.8 328.4 L40.3 328.2 L40.8 329.2 L41.3 330.3 L41.8 330.9 L42.3 330.5 L42.8 330.4 L43.3 329.2 L43.8 328.4 L44.3 327.9 L44.8 328.3 L45.3 329.2 L45.8 329.5 L46.3 329.1 L46.8 330.1 L47.3 329.9 L47.8 329.3 L48.3 329.8 L48.8 331.3 L49.3 330.5 L49.8 329.4 L50.3 329.8 L50.8 331.2 L51.3 330.7 L51.8 331.4 L52.3 331.2 L52.8 329.6 L53.3 331.0 L53.8 330.6 L54.3 329.8 L54.8 330.3 L55.3 331.2 L55.8 331.4 L56.3 331.2 L56.8 330.9 L57.3 332.1 L57.8 332.9 L58.3 333.0 L58.8 332.8 L59.3 333.3 L59.8 333.4 L60.3 332.6 L60.8 332.4 L61.3 332.3 L61.8 332.4 L62.3 332.1 L62.8 330.8 L63.3 331.4 L63.8 331.7 L64.3 330.4 L64.8 331.0 L65.3 332.6 L65.8 331.7 L66.3 331.8 L66.8 332.4 L67.3 331.9 L67.8 331.6 L68.3 331.9 L68.8 332.0 L69.3 332.2 L69.8 333.0 L70.3 334.0 L70.8 333.8 L71.3 334.2 L71.8 334.0 L72.3 333.9 L72.8 333.6 L73.3 333.1 L73.8 333.5 L74.3 333.3 L74.8 332.8 L75.3 333.8 L75.8 334.1 L76.3 333.7 L76.8 332.7 L77.3 332.0 L77.8 334.0 L78.3 333.5 L78.8 332.4 L79.3 333.5 L79.8 333.5 L80.3 333.9 L80.8 334.0 L81.3 334.3 L81.8 334.0 L82.3 333.7 L82.8 333.8 L83.3 333.9 L83.8 333.0 L84.3 334.0 L84.8 334.1 L85.3 333.5 L85.8 333.7 L86.3 333.8 L86.8 334.5 L87.3 335.0 L87.8 334.6 L88.3 335.4 L88.8 335.9 L89.3 336.1 L89.8 336.4 L90.3 335.8 L90.8 336.4 L91.3 337.3 L91.8 336.1 L92.3 335.5 L92.8 335.8 L93.3 336.0 L93.8 335.5 L94.3 335.2 L94.8 334.5 L95.3 334.7 L95.8 334.9 L96.3 335.0 L96.8 335.8 L97.3 336.5 L97.8 335.9 L98.3 335.5 L98.8 336.3 L99.3 336.3 L99.8 335.7 L100.3 336.2 L100.8 335.8 L101.3 335.9 L101.8 336.3 L102.3 337.0 L102.8 336.5 L103.3 336.6 L103.8 337.3 L104.3 338.1 L104.8 337.9 L105.3 337.0 L105.8 337.9 L106.3 338.0 L106.8 338.5 L107.3 338.3 L107.8 337.4 L108.3 337.4 L108.8 337.5 L109.3 338.2 L109.8 338.9 L110.3 338.0 L110.8 338.0 L111.3 339.2 L111.8 337.8 L112.3 337.8 L112.8 337.8 L113.3 337.4 L113.8 338.6 L114.3 339.1 L114.8 338.4 L115.3 338.2 L115.8 337.8 L116.3 337.1 L116.8 337.8 L117.3 337.3 L117.8 337.5 L118.3 338.6 L118.8 338.9 L119.3 338.3 L119.8 339.4 L120.3 339.9 L120.8 338.9 L121.3 338.5 L121.8 338.5 L122.3 338.1 L122.8 338.0 L123.3 338.9 L123.8 339.1 L124.3 338.3 L124.8 338.1 L125.3 338.0 L125.8 337.8 L126.3 337.5 L126.8 337.7 L127.3 338.9 L127.8 338.7 L128.3 339.1 L128.8 339.9 L129.3 339.0 L129.8 338.8 L130.3 337.9 L130.8 338.3 L131.3 339.1 L131.8 338.5 L132.3 337.5 L132.8 337.6 L133.3 338.6 L133.8 338.5 L134.3 339.3 L134.8 339.2 L135.3 338.8 L135.8 339.0 L136.3 339.5 L136.8 338.9 L137.3 338.4 L137.8 338.9 L138.3 338.8 L138.8 338.9 L139.3 339.4 L139.8 339.5 L140.3 339.7 L140.8 339.0 L141.3 338.5 L141.8 338.7 L142.3 339.0 L142.8 338.4 L143.3 338.4 L143.8 338.2 L144.3 338.2 L144.8 339.2 L145.3 340.4 L145.8 339.3 L146.3 339.1 L146.8 339.0 L147.3 338.9 L147.8 339.4 L148.3 340.2 L148.8 339.5 L149.3 340.1 L149.8 339.5 L150.3 338.3 L150.8 338.1 L151.3 338.1 L151.8 338.2 L152.3 339.3 L152.8 339.3 L153.3 338.6 L153.8 337.5 L154.3 337.1 L154.8 336.5 L155.3 336.7 L155.8 335.5 L156.3 335.8 L156.8 336.8 L157.3 337.1 L157.8 337.6 L158.3 338.2 L158.8 338.8 L159.3 338.2 L159.8 338.3 L160.3 338.6 L160.8 338.0 L161.3 337.3 L161.8 337.3 L162.3 337.8 L162.8 338.0 L163.3 338.9 L163.8 338.7 L164.3 338.2 L164.8 337.9 L165.3 338.4 L165.8 338.0 L166.3 337.3 L166.8 337.8 L167.3 338.6 L167.8 336.2 L168.3 334.4 L168.8 334.0 L169.3 333.0 L169.8 332.7 L170.3 334.1 L170.8 334.4 L171.3 335.5 L171.8 336.6 L172.3 338.5 L172.8 339.1 L173.3 340.2 L173.8 339.4 L174.3 338.6 L174.8 337.6 L175.3 337.4 L175.8 338.2 L176.3 338.8 L176.8 337.6 L177.3 337.0 L177.8 338.8 L178.3 339.1 L178.8 338.3 L179.3 338.9 L179.8 339.7 L180.3 339.2 L180.8 337.8 L181.3 338.1 L181.8 338.3 L182.3 339.1 L182.8 338.7 L183.3 338.0 L183.8 338.7 L184.3 338.9 L184.8 337.6 L185.3 337.5 L185.8 338.1 L186.3 338.4 L186.8 338.1 L187.3 337.3 L187.8 337.6 L188.3 338.8 L188.8 339.1 L189.3 338.6 L189.8 339.5 L190.3 340.4 L190.8 339.4 L191.3 338.7 L191.8 338.8 L192.3 339.5 L192.8 339.7 L193.3 339.5 L193.8 339.3 L194.3 339.7 L194.8 339.8 L195.3 339.8 L195.8 340.0 L196.3 339.0 L196.8 339.8 L197.3 339.9 L197.8 340.7 L198.3 341.2 L198.8 340.2 L199.3 339.7 L199.8 340.1 L200.3 341.2 L200.8 341.3 L201.3 340.6 L201.8 340.9 L202.3 341.5 L202.8 340.5 L203.3 339.1 L203.8 339.2 L204.3 339.8 L204.8 340.3 L205.3 340.3 L205.8 341.1 L206.3 340.8 L206.8 341.2 L207.3 340.7 L207.8 341.3 L208.3 341.3 L208.8 342.0 L209.3 342.7 L209.8 342.5 L210.3 341.7 L210.8 340.4 L211.3 339.4 L211.8 338.9 L212.3 341.5 L212.8 342.4 L213.3 341.7 L213.8 341.1 L214.3 342.5 L214.8 341.5 L215.3 341.3 L215.8 340.2 L216.3 340.8 L216.8 342.2 L217.3 342.1 L217.8 340.9 L218.3 341.4 L218.8 341.8 L219.3 340.7 L219.8 341.3 L220.3 340.9 L220.8 341.6 L221.3 341.8 L221.8 342.1 L222.3 341.5 L222.8 341.3 L223.3 341.2 L223.8 340.9 L224.3 341.1 L224.8 340.9 L225.3 341.3 L225.8 342.0 L226.3 342.0 L226.8 342.7 L227.3 342.8 L227.8 342.5 L228.3 341.6 L228.8 342.6 L229.3 343.6 L229.8 343.6 L230.3 343.9 L230.8 343.6 L231.3 342.2 L231.8 343.0 L232.3 343.3 L232.8 342.7 L233.3 342.2 L233.8 342.9 L234.3 343.5 L234.8 344.8 L235.3 344.5 L235.8 343.2 L236.3 342.5 L236.8 342.7 L237.3 343.2 L237.8 343.6 L238.3 344.6 L238.8 343.3 L239.3 343.5 L239.8 344.0 L240.3 344.0 L240.8 343.3 L241.3 343.7 L241.8 344.2 L242.3 344.2 L242.8 343.7 L243.3 343.9 L243.8 344.7 L244.3 345.3 L244.8 344.1 L245.3 344.9 L245.8 345.3 L246.3 344.2 L246.8 345.5 L247.3 345.9 L247.8 345.2 L248.3 345.7 L248.8 345.9 L249.3 345.1 L249.8 344.7 L250.3 344.1 L250.8 344.3 L251.3 344.9 L251.8 345.4 L252.3 346.1 L252.8 345.1 L253.3 344.5 L253.8 345.7 L254.3 346.2 L254.8 345.7 L255.3 345.1 L255.8 344.6 L256.3 345.0 L256.8 346.0 L257.3 345.3 L257.8 343.7 L258.3 342.1 L258.8 340.0 L259.3 338.9 L259.8 339.9 L260.3 341.5 L260.8 342.2 L261.3 343.1 L261.8 343.9 L262.3 345.3 L262.8 346.0 L263.3 345.1 L263.8 344.7 L264.3 344.8 L264.8 345.3 L265.3 345.2 L265.8 345.2 L266.3 345.9 L266.8 347.7 L267.3 346.8 L267.8 346.0 L268.3 346.3 L268.8 347.3 L269.3 347.6 L269.8 346.6 L270.3 345.6 L270.8 347.0 L271.3 347.5 L271.8 346.7 L272.3 345.1 L272.8 342.4 L273.3 338.1 L273.8 331.2 L274.3 324.6 L274.8 320.1 L275.3 321.7 L275.8 327.9 L276.3 334.9 L276.8 340.8 L277.3 345.4 L277.8 347.6 L278.3 347.1 L278.8 347.4 L279.3 348.8 L279.8 348.6 L280.3 348.8 L280.8 349.2 L281.3 349.4 L281.8 349.0 L282.3 350.0 L282.8 349.6 L283.3 348.0 L283.8 348.7 L284.3 349.2 L284.8 349.6 L285.3 349.4 L285.8 348.9 L286.3 349.2 L286.8 349.8 L287.3 349.7 L287.8 350.0 L288.3 351.2 L288.8 350.3 L289.3 349.1 L289.8 349.6 L290.3 349.7 L290.8 349.1 L291.3 349.4 L291.8 348.6 L292.3 348.1 L292.8 349.5 L293.3 350.2 L293.8 350.1 L294.3 349.4 L294.8 349.0 L295.3 349.4 L295.8 349.7 L296.3 349.9 L296.8 350.0 L297.3 349.1 L297.8 347.8 L298.3 347.1 L298.8 346.1 L299.3 346.3 L299.8 345.3 L300.3 342.6 L300.8 335.8 L301.3 321.0 L301.8 291.4 L302.3 247.3 L302.8 195.6 L303.3 158.7 L303.8 162.5 L304.3 204.4 L304.8 255.6 L305.3 297.7 L305.8 323.3 L306.3 336.1 L306.8 340.8 L307.3 343.5 L307.8 344.1 L308.3 342.8 L308.8 341.5 L309.3 334.5 L309.8 323.4 L310.3 312.0 L310.8 300.8 L311.3 295.7 L311.8 303.1 L312.3 316.1 L312.8 328.9 L313.3 338.0 L313.8 343.6 L314.3 345.1 L314.8 342.5 L315.3 338.9 L315.8 331.4 L316.3 319.9 L316.8 310.3 L317.3 306.3 L317.8 310.1 L318.3 320.4 L318.8 331.8 L319.3 341.0 L319.8 348.1 L320.3 350.6 L320.8 351.8 L321.3 352.9 L321.8 353.0 L322.3 351.6 L322.8 351.7 L323.3 352.9 L323.8 353.2 L324.3 352.3 L324.8 352.4 L325.3 354.0 L325.8 354.3 L326.3 353.8 L326.8 353.6 L327.3 353.4 L327.8 353.2 L328.3 353.6 L328.8 354.4 L329.3 354.8 L329.8 355.1 L330.3 353.9 L330.8 353.7 L331.3 354.9 L331.8 354.7 L332.3 355.0 L332.8 355.1 L333.3 354.4 L333.8 354.5 L334.3 355.0 L334.8 354.3 L335.3 355.4 L335.8 355.2 L336.3 356.3 L336.8 356.6 L337.3 356.6 L337.8 356.7 L338.3 356.3 L338.8 355.7 L339.3 356.8 L339.8 356.9 L340.3 356.9 L340.8 356.7 L341.3 356.8 L341.8 357.6 L342.3 357.8 L342.8 357.0 L343.3 356.0 L343.8 356.0 L344.3 356.5 L344.8 357.8 L345.3 357.9 L345.8 357.5 L346.3 357.1 L346.8 357.1 L347.3 357.7 L347.8 356.9 L348.3 357.0 L348.8 358.2 L349.3 358.4 L349.8 357.6 L350.3 356.8 L350.8 357.0 L351.3 358.4 L351.8 358.8 L352.3 359.1 L352.8 358.2 L353.3 357.9 L353.8 358.0 L354.3 358.9 L354.8 357.8 L355.3 358.9 L355.8 359.5 L356.3 358.0 L356.8 357.2 L357.3 357.4 L357.8 357.6 L358.3 358.7 L358.8 358.6 L359.3 358.2 L359.8 358.9 L360.3 359.9 L360.8 359.1 L361.3 359.2 L361.8 360.1 L362.3 358.9 L362.8 359.0 L363.3 360.1 L363.8 359.2 L364.3 357.8 L364.8 357.8 L365.3 357.4 L365.8 358.4 L366.3 359.0 L366.8 358.6 L367.3 360.2 L367.8 360.6 L368.3 359.9 L368.8 358.8 L369.3 359.0 L369.8 359.5 L370.3 359.7 L370.8 358.9 L371.3 356.1 L371.8 354.3 L372.3 350.4 L372.8 343.1 L373.3 331.1 L373.8 314.0 L374.3 293.2 L374.8 277.4 L375.3 272.8 L375.8 282.5 L376.3 301.4 L376.8 320.0 L377.3 337.1 L377.8 349.6 L378.3 356.0 L378.8 356.5 L379.3 356.2 L379.8 355.8 L380.3 354.5 L380.8 350.6 L381.3 342.7 L381.8 330.2 L382.3 313.1 L382.8 296.4 L383.3 285.3 L383.8 287.0 L384.3 299.2 L384.8 315.5 L385.3 333.2 L385.8 346.4 L386.3 353.8 L386.8 357.9 L387.3 359.6 L387.8 360.0 L388.3 360.9 L388.8 361.3 L389.3 361.8 L389.8 362.2 L390.3 362.0 L390.8 361.5 L391.3 362.6 L391.8 364.0 L392.3 363.7 L392.8 362.7 L393.3 362.6 L393.8 363.5 L394.3 362.9 L394.8 361.9 L395.3 362.9 L395.8 363.9 L396.3 362.6 L396.8 362.9 L397.3 363.0 L397.8 363.2 L398.3 363.1 L398.8 362.4 L399.3 361.7 L399.8 363.0 L400.3 363.7 L400.8 363.5 L401.3 363.0 L401.8 363.8 L402.3 365.1 L402.8 363.7 L403.3 363.3 L403.8 363.2 L404.3 363.8 L404.8 364.6 L405.3 365.2 L405.8 364.8 L406.3 364.5 L406.8 364.8 L407.3 365.0 L407.8 364.6 L408.3 364.8 L408.8 365.3 L409.3 364.5 L409.8 364.3 L410.3 364.0 L410.8 364.6 L411.3 365.5 L411.8 364.8 L412.3 365.5 L412.8 366.6 L413.3 365.7 L413.8 364.8 L414.3 363.8 L414.8 362.9 L415.3 363.6 L415.8 364.4 L416.3 365.6 L416.8 365.5 L417.3 364.5 L417.8 365.1 L418.3 365.2 L418.8 366.6 L419.3 366.7 L419.8 365.9 L420.3 365.5 L420.8 366.5 L421.3 366.5 L421.8 366.4 L422.3 365.8 L422.8 365.4 L423.3 365.6 L423.8 365.1 L424.3 365.7 L424.8 365.2 L425.3 364.2 L425.8 365.1 L426.3 365.0 L426.8 364.6 L427.3 364.5 L427.8 363.9 L428.3 361.2 L428.8 358.7 L429.3 356.3 L429.8 351.9 L430.3 347.4 L430.8 346.4 L431.3 347.6 L431.8 352.3 L432.3 356.8 L432.8 360.0 L433.3 361.5 L433.8 363.6 L434.3 365.3 L434.8 365.1 L435.3 366.0 L435.8 366.2 L436.3 366.2 L436.8 366.1 L437.3 366.9 L437.8 367.2 L438.3 367.9 L438.8 368.5 L439.3 367.1 L439.8 366.4 L440.3 366.3 L440.8 367.4 L441.3 366.9 L441.8 366.7 L442.3 365.7 L442.8 366.0 L443.3 366.5 L443.8 366.0 L444.3 364.9 L444.8 363.9 L445.3 361.4 L445.8 358.2 L446.3 353.6 L446.8 349.8 L447.3 347.6 L447.8 349.1 L448.3 351.7 L448.8 355.1 L449.3 358.1 L449.8 360.5 L450.3 360.2 L450.8 358.7 L451.3 356.8 L451.8 354.0 L452.3 354.0 L452.8 355.1 L453.3 356.1 L453.8 359.9 L454.3 362.7 L454.8 364.2 L455.3 365.0 L455.8 365.0 L456.3 366.0 L456.8 366.1 L457.3 365.3 L457.8 365.6 L458.3 365.6 L458.8 366.1 L459.3 366.1 L459.8 366.2 L460.3 365.7 L460.8 366.0 L461.3 366.4 L461.8 366.9 L462.3 368.1 L462.8 368.2 L463.3 366.5 L463.8 366.9 L464.3 366.7 L464.8 366.3 L465.3 366.3 L465.8 366.3 L466.3 366.4 L466.8 366.8 L467.3 366.6 L467.8 364.9 L468.3 362.8 L468.8 360.5 L469.3 357.8 L469.8 355.4 L470.3 352.6 L470.8 352.8 L471.3 355.9 L471.8 358.8 L472.3 360.1 L472.8 359.4 L473.3 355.5 L473.8 351.1 L474.3 344.6 L474.8 337.3 L475.3 333.2 L475.8 334.3 L476.3 339.8 L476.8 346.2 L477.3 352.6 L477.8 359.1 L478.3 363.1 L478.8 363.5 L479.3 362.8 L479.8 361.0 L480.3 359.5 L480.8 356.5 L481.3 351.4 L481.8 349.0 L482.3 347.6 L482.8 351.0 L483.3 354.7 L483.8 357.8 L484.3 361.5 L484.8 364.2 L485.3 364.6 L485.8 366.1 L486.3 366.5 L486.8 366.6 L487.3 366.9 L487.8 365.7 L488.3 365.9 L488.8 365.8 L489.3 366.6 L489.8 366.8 L490.3 366.0 L490.8 366.9 L491.3 367.1 L491.8 366.7 L492.3 367.2 L492.8 367.9 L493.3 368.0 L493.8 368.2 L494.3 366.7 L494.8 366.5 L495.3 367.5 L495.8 366.9 L496.3 367.8 L496.8 367.6 L497.3 367.5 L497.8 367.1 L498.3 367.7 L498.8 367.8 L499.3 366.9 L499.8 364.9 L500.3 362.0 L500.8 360.0 L501.3 356.2 L501.8 351.7 L502.3 346.4 L502.8 344.2 L503.3 343.7 L503.8 345.2 L504.3 347.4 L504.8 348.6 L505.3 349.3 L505.8 349.5 L506.3 350.6 L506.8 351.9 L507.3 352.7 L507.8 354.4 L508.3 354.3 L508.8 354.9 L509.3 356.3 L509.8 357.2 L510.3 358.4 L510.8 359.2 L511.3 361.4 L511.8 363.1 L512.3 364.7 L512.8 366.2 L513.3 366.6 L513.8 366.9 L514.3 367.6 L514.8 368.4 L515.3 368.7 L515.8 368.2 L516.3 367.9 L516.8 368.3 L517.3 367.8 L517.8 367.6 L518.3 367.4 L518.8 366.2 L519.3 364.5 L519.8 362.8 L520.3 361.4 L520.8 360.2 L521.3 359.3 L521.8 359.2 L522.3 361.2 L522.8 363.4 L523.3 365.7 L523.8 368.3 L524.3 367.8 L524.8 367.8 L525.3 369.0 L525.8 369.8 L526.3 369.3 L526.8 369.5 L527.3 368.5 L527.8 368.5 L528.3 368.7 L528.8 368.8 L529.3 368.9 L529.8 368.9 L530.3 368.6 L530.8 368.4 L531.3 369.1 L531.8 369.1 L532.3 369.4 L532.8 370.0 L533.3 369.7 L533.8 369.7 L534.3 370.1 L534.8 369.0 L535.3 368.1 L535.8 368.4 L536.3 368.5 L536.8 369.1 L537.3 369.4 L537.8 369.6 L538.3 370.0 L538.8 370.3 L539.3 370.3 L539.8 370.0 L540.3 369.6 L540.8 369.6 L541.3 369.8 L541.8 369.7 L542.3 369.3 L542.8 369.8 L543.3 370.6 L543.8 370.3 L544.3 369.8 L544.8 370.5 L545.3 370.6 L545.8 370.3 L546.3 371.6 L546.8 371.6 L547.3 370.9 L547.8 371.3 L548.3 371.1 L548.8 370.9 L549.3 370.1 L549.8 370.1 L550.3 370.4 L550.8 370.5 L551.3 370.1 L551.8 369.4 L552.3 369.8 L552.8 370.7 L553.3 371.0 L553.8 372.0 L554.3 372.0 L554.8 371.0 L555.3 370.5 L555.8 369.9 L556.3 371.1 L556.8 371.5 L557.3 370.4 L557.8 370.1 L558.3 370.5 L558.8 371.4 L559.3 371.5 L559.8 370.4 L560.3 370.5 L560.8 371.1 L561.3 371.0 L561.8 370.7 L562.3 370.7 L562.8 369.7 L563.3 369.3 L563.8 370.3 L564.3 370.7 L564.8 370.5 L565.3 369.4 L565.8 368.9 L566.3 369.3 L566.8 369.5 L567.3 369.6 L567.8 369.9 L568.3 370.5 L568.8 370.3 L569.3 370.2 L569.8 368.8 L570.3 368.4 L570.8 368.8 L571.3 367.5 L571.8 366.7 L572.3 366.2 L572.8 365.9 L573.3 367.1 L573.8 367.8 L574.3 367.1 L574.8 366.5 L575.3 365.6 L575.8 365.2 L576.3 365.8 L576.8 365.1 L577.3 365.0 L577.8 366.0 L578.3 367.6 L578.8 367.9 L579.3 367.5 L579.8 367.3 L580.3 367.8 L580.8 368.9 L581.3 369.1 L581.8 369.3 L582.3 370.2 L582.8 369.5 L583.3 369.0 L583.8 370.1 L584.3 371.3 L584.8 371.5 L585.3 371.3 L585.8 370.6 L586.3 371.1 L586.8 371.1 L587.3 370.7 L587.8 370.6 L588.3 371.7 L588.8 371.4 L589.3 371.1 L589.8 372.2 L590.3 372.7 L590.8 371.0 L591.3 371.6 L591.8 373.0 L592.3 372.7 L592.8 371.0 L593.3 370.4 L593.8 370.0 L594.3 370.6 L594.8 370.2 L595.3 370.7 L595.8 371.9 L596.3 370.6 L596.8 370.1 L597.3 371.2 L597.8 371.7 L598.3 372.0 L598.8 372.2 L599.3 371.3 L599.8 371.5 L600.3 371.9 L600.8 371.8 L601.3 372.6 L601.8 372.5 L602.3 371.8 L602.8 371.5 L603.3 371.6 L603.8 371.4 L604.3 370.1 L604.8 370.1 L605.3 370.5 L605.8 370.5 L606.3 370.5 L606.8 370.4 L607.3 370.3 L607.8 369.5 L608.3 368.4 L608.8 366.2 L609.3 362.9 L609.8 359.2 L610.3 356.3 L610.8 355.5 L611.3 355.8 L611.8 358.6 L612.3 362.3 L612.8 364.8 L613.3 366.2 L613.8 368.7 L614.3 371.0 L614.8 370.5 L615.3 371.4 L615.8 370.9 L616.3 371.5 L616.8 372.0 L617.3 371.4 L617.8 371.6 L618.3 370.4 L618.8 371.0 L619.3 371.4 L619.8 372.0 L620.3 372.6 L620.8 373.0 L621.3 372.7 L621.8 371.6 L622.3 371.3 L622.8 371.8 L623.3 371.2 L623.8 369.9 L624.3 369.9 L624.8 371.1 L625.3 371.5 L625.8 371.9 L626.3 371.7 L626.8 371.0 L627.3 371.5 L627.8 371.3 L628.3 371.9 L628.8 372.3 L629.3 373.0 L629.8 372.4 L630.3 371.6 L630.8 371.6 L631.3 372.0 L631.8 372.4 L632.3 372.3 L632.8 371.2 L633.3 371.2 L633.8 372.1 L634.3 372.2 L634.8 372.6 L635.3 372.7 L635.8 373.1 L636.3 372.2 L636.8 370.9 L637.3 371.1 L637.8 371.4 L638.3 370.5 L638.8 370.4 L639.3 370.2 L639.8 369.1 L640.3 366.4 L640.8 362.7 L641.3 360.4 L641.8 357.1 L642.3 355.5 L642.8 355.7 L643.3 358.3 L643.8 361.0 L644.3 364.0 L644.8 366.7 L645.3 368.3 L645.8 369.7 L646.3 371.6 L646.8 372.0 L647.3 371.7 L647.8 370.2 L648.3 370.4 L648.8 372.5 L649.3 372.2 L649.8 370.9 L650.3 371.7 L650.8 371.7 L651.3 371.1 L651.8 371.7 L652.3 372.7 L652.8 371.8 L653.3 371.7 L653.8 370.9 L654.3 370.9 L654.8 372.9 L655.3 372.2 L655.8 370.9 L656.3 370.3 L656.8 369.4 L657.3 367.9 L657.8 366.5 L658.3 363.5 L658.8 359.0 L659.3 354.6 L659.8 351.0 L660.3 350.4 L660.8 351.6 L661.3 356.3 L661.8 361.5 L662.3 365.1 L662.8 368.6 L663.3 368.8 L663.8 369.6 L664.3 370.7 L664.8 371.7 L665.3 371.9 L665.8 371.0 L666.3 370.1 L666.8 371.0 L667.3 370.4 L667.8 368.4 L668.3 365.0 L668.8 362.6 L669.3 359.2 L669.8 356.5 L670.3 354.6 L670.8 353.5 L671.3 355.9 L671.8 359.5 L672.3 362.7 L672.8 366.1 L673.3 367.8 L673.8 367.5 L674.3 367.2 L674.8 366.7 L675.3 365.1 L675.8 365.5 L676.3 366.5 L676.8 367.2 L677.3 367.9 L677.8 370.6 L678.3 371.7 L678.8 371.0 L679.3 372.5 L679.8 373.0 L680.3 372.5 L680.8 371.8 L681.3 372.2 L681.8 371.5 L682.3 372.0 L682.8 372.7 L683.3 372.5 L683.8 372.1 L684.3 372.3 L684.8 372.3 L685.3 372.2 L685.8 371.6 L686.3 371.3 L686.8 371.5 L687.3 371.7 L687.8 373.4 L688.3 374.4 L688.8 373.6 L689.3 373.1 L689.8 372.0 L690.3 371.9 L690.8 371.9 L691.3 372.7 L691.8 372.5 L692.3 372.2 L692.8 373.2 L693.3 373.0 L693.8 373.3 L694.3 373.6 L694.8 374.0 L695.3 373.7 L695.8 372.9 L696.3 372.4 L696.8 372.0 L697.3 372.2 L697.8 373.4 L698.3 372.9 L698.8 373.2 L699.3 372.2 L699.8 372.2 L700.3 373.0 L700.8 372.4 L701.3 372.2 L701.8 372.9 L702.3 371.5 L702.8 371.2 L703.3 372.0 L703.8 372.1 L704.3 370.6 L704.8 370.0 L705.3 370.9 L705.8 369.9 L706.3 369.4 L706.8 370.3 L707.3 370.7 L707.8 369.3 L708.3 370.3 L708.8 372.0 L709.3 372.3 L709.8 371.9 L710.3 371.7 L710.8 371.9 L711.3 371.4 L711.8 369.6 L712.3 368.4 L712.8 367.8 L713.3 366.4 L713.8 365.8 L714.3 367.0 L714.8 368.1 L715.3 370.1 L715.8 371.0 L716.3 370.6 L716.8 370.7 L717.3 370.9 L717.8 371.0 L718.3 370.1 L718.8 368.9 L719.3 368.3 L719.8 368.4 L720.3 368.1 L720.8 367.8 L721.3 367.4 L721.8 368.2 L722.3 368.5 L722.8 367.8 L723.3 366.1 L723.8 365.1 L724.3 365.6 L724.8 365.4 L725.3 364.9 L725.8 364.6 L726.3 365.1 L726.8 365.6 L727.3 365.2 L727.8 363.0 L728.3 359.8 L728.8 357.0 L729.3 355.6 L729.8 357.2 L730.3 359.1 L730.8 362.9 L731.3 366.2 L731.8 368.9 L732.3 369.6 L732.8 370.8 L733.3 370.8 L733.8 370.8 L734.3 370.9 L734.8 370.8 L735.3 371.1 L735.8 372.0 L736.3 373.0 L736.8 371.9 L737.3 371.2 L737.8 372.5 L738.3 372.7 L738.8 371.0 L739.3 371.7 L739.8 371.1 L740.3 371.0 L740.8 372.6 L741.3 373.7 L741.8 373.8 L742.3 372.7 L742.8 372.2 L743.3 372.6 L743.8 373.0 L744.3 373.4 L744.8 373.6 L745.3 373.1 L745.8 373.0 L746.3 372.6 L746.8 372.2 L747.3 372.9 L747.8 373.6 L748.3 372.7 L748.8 371.3 L749.3 372.3 L749.8 371.9 L750.3 372.8 L750.8 372.6 L751.3 371.5 L751.8 371.1 L752.3 369.9 L752.8 370.0 L753.3 370.5 L753.8 371.5 L754.3 372.0 L754.8 372.4 L755.3 372.8 L755.8 373.4 L756.3 372.8 L756.8 372.3 L757.3 372.7 L757.8 373.0 L758.3 372.8 L758.8 372.0 L759.3 372.0 L759.8 372.1 L760.3 371.6 L760.8 371.3 L761.3 371.3 L761.8 370.7 L762.3 371.6 L762.8 371.6 L763.3 372.1 L763.8 372.8 L764.3 374.2 L764.8 374.8 L765.3 374.5 L765.8 373.1 L766.3 372.5 L766.8 372.9 L767.3 372.2 L767.8 372.2 L768.3 372.2 L768.8 372.7 L769.3 372.9 L769.8 372.2 L770.3 372.7 L770.8 372.9 L771.3 373.0 L771.8 373.0 L772.3 372.5 L772.8 372.5 L773.3 372.1 L773.8 372.0 L774.3 373.5 L774.8 373.6 L775.3 373.2 L775.8 372.1 L776.3 371.5 L776.8 372.4 L777.3 372.6 L777.8 374.1 L778.3 374.1 L778.8 373.1 L779.3 373.7 L779.8 373.5 L780.3 372.5 L780.8 371.9 L781.3 373.0 L781.8 373.7 L782.3 373.4 L782.8 372.7 L783.3 372.7 L783.8 372.8 L784.3 372.7 L784.8 372.6 L785.3 373.4 L785.8 373.2 L786.3 372.6 L786.8 373.0 L787.3 373.3 L787.8 372.8 L788.3 372.5 L788.8 372.0 L789.3 370.7 L789.8 369.9 L790.3 367.9 L790.8 366.2 L791.3 364.1 L791.8 360.7 L792.3 358.7 L792.8 357.0 L793.3 356.3 L793.8 355.1 L794.3 355.7 L794.8 360.4 L795.3 365.1 L795.8 366.7 L796.3 367.4 L796.8 368.2 L797.3 368.3 L797.8 367.6 L798.3 367.1 L798.8 364.2 L799.3 361.1 L799.8 359.9 L800.3 360.4 L800.8 361.7 L801.3 363.8 L801.8 366.1 L802.3 367.7 L802.8 368.4 L803.3 370.0 L803.8 370.7 L804.3 371.3 L804.8 371.3 L805.3 372.4 L805.8 372.3 L806.3 370.7 L806.8 369.4 L807.3 369.7 L807.8 368.9 L808.3 368.2 L808.8 369.7 L809.3 370.9 L809.8 371.0 L810.3 370.8 L810.8 372.6 L811.3 373.4 L811.8 373.1 L812.3 374.0 L812.8 374.2 L813.3 373.9 L813.8 372.6 L814.3 373.2 L814.8 373.6 L815.3 372.9 L815.8 373.9 L816.3 374.6 L816.8 373.5 L817.3 374.6 L817.8 374.5 L818.3 373.3 L818.8 373.0 L819.3 373.2 L819.8 373.4 L820.3 372.6 L820.8 373.5 L821.3 373.0 L821.8 373.3 L822.3 373.8 L822.8 374.2 L823.3 373.3 L823.8 373.5 L824.3 374.9 L824.8 375.3 L825.3 374.3 L825.8 373.8 L826.3 374.1 L826.8 374.1 L827.3 373.9 L827.8 372.9 L828.3 372.5 L828.8 373.7 L829.3 374.3 L829.8 375.1 L830.3 375.4 L830.8 375.3 L831.3 374.3 L831.8 374.2 L832.3 373.5 L832.8 374.1 L833.3 374.4 L833.8 373.8 L834.3 374.5 L834.8 375.5 L835.3 374.4 L835.8 374.6 L836.3 374.4 L836.8 374.2 L837.3 372.5 L837.8 372.8 L838.3 374.1 L838.8 375.2 L839.3 374.2 L839.8 373.3 L840.3 373.9 L840.8 374.3 L841.3 373.4 L841.8 373.9 L842.3 374.1 L842.8 374.1 L843.3 374.3 L843.8 374.0 L844.3 374.7 L844.8 375.2 L845.3 375.7 L845.8 374.9 L846.3 374.2 L846.8 373.5 L847.3 373.5 L847.8 373.7 L848.3 374.5 L848.8 373.3 L849.3 374.3 L849.8 374.9 L850.3 374.8 L850.8 374.7 L851.3 375.7 L851.8 374.3 L852.3 373.1 L852.8 373.4 L853.3 373.9 L853.8 374.8 L854.3 374.1 L854.8 373.0 L855.3 372.7 L855.8 372.8 L856.3 372.4 L856.8 372.2 L857.3 371.7 L857.8 369.8 L858.3 369.1 L858.8 368.8 L859.3 367.7 L859.8 368.6 L860.3 369.2 L860.8 369.0 L861.3 369.5 L861.8 369.5 L862.3 370.2 L862.8 370.8 L863.3 371.1 L863.8 371.5 L864.3 370.8 L864.8 370.6 L865.3 369.9 L865.8 370.3 L866.3 369.9 L866.8 368.5 L867.3 367.3 L867.8 367.2 L868.3 367.5 L868.8 369.9 L869.3 370.6 L869.8 371.1 L870.3 372.0 L870.8 372.0 L871.3 373.0 L871.8 374.2 L872.3 375.4 L872.8 376.0 L873.3 374.8 L873.8 375.1 L874.3 374.4 L874.8 374.2 L875.3 375.0 L875.8 374.7 L876.3 374.0 L876.8 375.1 L877.3 376.2 L877.8 374.8 L878.3 374.7 L878.8 375.8 L879.3 375.4 L879.8 374.8 L880.3 375.1 L880.8 374.6 L881.3 374.3 L881.8 374.6 L882.3 374.0 L882.8 374.6 L883.3 374.5 L883.8 372.6 L884.3 371.5 L884.8 371.2 L885.3 371.4 L885.8 371.5 L886.3 372.5 L886.8 373.4 L887.3 373.1 L887.8 374.3 L888.3 375.5 L888.8 375.4 L889.3 374.9 L889.8 375.6 L890.3 375.1 L890.8 375.4 L891.3 374.6 L891.8 375.3 L892.3 375.2 L892.8 374.9 L893.3 374.8 L893.8 374.7 L894.3 375.5 L894.8 375.7 L895.3 375.7 L895.8 375.1 L896.3 375.8 L896.8 375.9 L897.3 375.2 L897.8 376.3 L898.3 376.3 L898.8 374.6 L899.3 374.9 L899.8 376.6 L900.3 375.8 L900.8 374.6 L901.3 374.0 L901.8 374.0 L902.3 373.0 L902.8 372.3 L903.3 371.1 L903.8 370.0 L904.3 368.9 L904.8 367.8 L905.3 368.2 L905.8 369.0 L906.3 369.6 L906.8 370.6 L907.3 372.7 L907.8 374.4 L908.3 374.2 L908.8 374.3 L909.3 374.9 L909.8 374.9 L910.3 375.2 L910.8 375.2 L911.3 375.1 L911.8 375.4 L912.3 374.8 L912.8 374.4 L913.3 374.1 L913.8 374.7 L914.3 375.7 L914.8 377.0 L915.3 377.7 L915.8 376.0 L916.3 375.6 L916.8 376.4 L917.3 375.2 L917.8 375.8 L918.3 376.2 L918.8 376.6 L919.3 375.8 L919.8 375.2 L920.3 374.3 L920.8 374.7 L921.3 375.1 L921.8 374.8 L922.3 375.0 L922.8 375.5 L923.3 374.0 L923.8 373.2 L924.3 373.2 L924.8 373.4 L925.3 373.3 L925.8 373.3 L926.3 373.5 L926.8 374.4 L927.3 373.6 L927.8 373.8 L928.3 375.0 L928.8 376.1 L929.3 375.0 L929.8 374.7 L930.3 375.4 L930.8 374.7 L931.3 373.6 L931.8 373.6 L932.3 374.0 L932.8 373.9 L933.3 374.8 L933.8 374.6 L934.3 374.3 L934.8 372.6 L935.3 371.2 L935.8 370.8 L936.3 370.2 L936.8 369.7 L937.3 371.2 L937.8 371.7 L938.3 372.5 L938.8 373.0 L939.3 374.8 L939.8 376.0 L940.3 374.9 L940.8 374.4 L941.3 375.1 L941.8 375.6 L942.3 375.5 L942.8 374.7 L943.3 375.8 L943.8 375.8 L944.3 375.1 L944.8 374.7 L945.3 375.6 L945.8 376.4 L946.3 376.2 L946.8 375.9 L947.3 375.7 L947.8 375.4 L948.3 375.0 L948.8 376.4 L949.3 376.5 L949.8 375.6 L950.3 375.2 L950.8 374.5 L951.3 374.8 L951.8 375.5 L952.3 374.9 L952.8 374.6 L953.3 375.2 L953.8 375.6 L954.3 375.1 L954.8 375.7 L955.3 376.2 L955.8 376.2 L956.3 376.0 L956.8 375.6 L957.3 375.6 L957.8 375.9 L958.3 375.4 L958.8 375.9 L959.3 374.9 L959.8 375.2 L960.3 375.3 L960.8 374.5 L961.3 375.7 L961.8 376.1 L962.3 375.0 L962.8 375.4 L963.3 376.2 L963.8 376.4 L964.3 376.0 L964.8 374.7 L965.3 375.4 L965.8 376.0 L966.3 374.6 L966.8 374.4 L967.3 375.2 L967.8 375.2 L968.3 374.4 L968.8 374.6 L969.3 375.3 L969.8 376.0 L970.3 377.0 L970.8 376.6 L971.3 375.9 L971.8 375.8 L972.3 376.7 L972.8 377.4 L973.3 375.8 L973.8 374.7 L974.3 374.6 L974.8 375.1 L975.3 374.5 L975.8 374.0 L976.3 374.5 L976.8 375.1 L977.3 376.4 L977.8 376.7 L978.3 375.6 L978.8 375.4 L979.3 376.2 L979.8 375.8 L980.3 375.6 L980.8 375.9 L981.3 375.4 L981.8 376.3 L982.3 377.2" stroke="#ff00ff"/><path d="M35.8 218.2 L36.3 219.1 L36.8 219.0 L37.3 218.0 L37.8 217.8 L38.3 218.0 L38.8 218.7 L39.3 218.8 L39.8 218.7 L40.3 218.0 L40.8 219.4 L41.3 219.3 L41.8 219.4 L42.3 219.0 L42.8 219.0 L43.3 219.7 L43.8 220.0 L44.3 219.5 L44.8 219.6 L45.3 219.9 L45.8 219.0 L46.3 218.8 L46.8 219.8 L47.3 219.3 L47.8 218.6 L48.3 219.2 L48.8 219.7 L49.3 219.3 L49.8 219.4 L50.3 220.6 L50.8 221.4 L51.3 220.8 L51.8 220.6 L52.3 221.4 L52.8 221.8 L53.3 221.5 L53.8 222.0 L54.3 222.4 L54.8 221.6 L55.3 221.3 L55.8 222.0 L56.3 222.5 L56.8 222.6 L57.3 221.5 L57.8 221.4 L58.3 221.3 L58.8 221.2 L59.3 222.4 L59.8 222.8 L60.3 222.6 L60.8 223.7 L61.3 223.8 L61.8 223.6 L62.3 223.6 L62.8 223.5 L63.3 222.6 L63.8 223.4 L64.3 223.4 L64.8 222.3 L65.3 223.1 L65.8 223.5 L66.3 223.9 L66.8 223.4 L67.3 223.6 L67.8 223.7 L68.3 223.4 L68.8 224.0 L69.3 224.1 L69.8 224.1 L70.3 224.0 L70.8 224.8 L71.3 224.8 L71.8 224.4 L72.3 224.9 L72.8 225.7 L73.3 225.5 L73.8 223.9 L74.3 224.8 L74.8 224.9 L75.3 224.3 L75.8 224.1 L76.3 224.9 L76.8 224.1 L77.3 224.9 L77.8 225.2 L78.3 223.7 L78.8 223.6 L79.3 223.5 L79.8 224.5 L80.3 225.7 L80.8 225.3 L81.3 222.9 L81.8 223.0 L82.3 224.1 L82.8 224.6 L83.3 223.8 L83.8 223.0 L84.3 223.6 L84.8 223.8 L85.3 223.7 L85.8 223.9 L86.3 224.8 L86.8 225.1 L87.3 225.0 L87.8 224.8 L88.3 224.4 L88.8 225.2 L89.3 226.3 L89.8 225.5 L90.3 225.1 L90.8 226.5 L91.3 227.0 L91.8 227.5 L92.3 226.4 L92.8 225.5 L93.3 225.4 L93.8 227.3 L94.3 228.1 L94.8 226.1 L95.3 225.8 L95.8 226.4 L96.3 225.9 L96.8 226.0 L97.3 226.2 L97.8 226.8 L98.3 227.3 L98.8 227.0 L99.3 227.1 L99.8 226.6 L100.3 226.3 L100.8 225.0 L101.3 225.4 L101.8 226.8 L102.3 226.7 L102.8 227.2 L103.3 227.6 L103.8 228.1 L104.3 228.0 L104.8 227.8 L105.3 227.0 L105.8 226.4 L106.3 226.3 L106.8 226.4 L107.3 226.1 L107.8 226.5 L108.3 227.1 L108.8 227.3 L109.3 226.7 L109.8 225.9 L110.3 226.9 L110.8 227.7 L111.3 228.3 L111.8 227.9 L112.3 227.0 L112.8 227.3 L113.3 228.9 L113.8 228.9 L114.3 229.5 L114.8 229.3 L115.3 227.6 L115.8 227.8 L116.3 228.2 L116.8 228.3 L117.3 228.2 L117.8 228.0 L118.3 227.6 L118.8 226.7 L119.3 227.1 L119.8 227.3 L120.3 227.6 L120.8 227.7 L121.3 228.3 L121.8 228.6 L122.3 228.3 L122.8 228.2 L123.3 227.9 L123.8 227.6 L124.3 227.6 L124.8 227.7 L125.3 228.1 L125.8 228.2 L126.3 228.1 L126.8 227.4 L127.3 228.2 L127.8 227.6 L128.3 227.4 L128.8 227.7 L129.3 227.7 L129.8 228.0 L130.3 227.6 L130.8 227.1 L131.3 227.6 L131.8 228.9 L132.3 228.3 L132.8 227.4 L133.3 227.6 L133.8 227.6 L134.3 228.8 L134.8 227.8 L135.3 228.4 L135.8 228.5 L136.3 227.5 L136.8 228.4 L137.3 229.2 L137.8 229.0 L138.3 228.9 L138.8 229.1 L139.3 228.8 L139.8 228.6 L140.3 228.6 L140.8 228.6 L141.3 228.1 L141.8 228.7 L142.3 228.1 L142.8 227.7 L143.3 228.9 L143.8 230.0 L144.3 229.4 L144.8 228.6 L145.3 228.8 L145.8 228.4 L146.3 228.4 L146.8 228.1 L147.3 227.1 L147.8 228.0 L148.3 227.8 L148.8 227.6 L149.3 227.1 L149.8 227.0 L150.3 227.8 L150.8 229.2 L151.3 229.8 L151.8 229.0 L152.3 229.0 L152.8 227.8 L153.3 226.5 L153.8 226.9 L154.3 226.3 L154.8 224.9 L155.3 224.6 L155.8 224.9 L156.3 224.8 L156.8 225.4 L157.3 226.9 L157.8 227.6 L158.3 228.0 L158.8 229.1 L159.3 229.5 L159.8 228.4 L160.3 228.8 L160.8 229.1 L161.3 229.1 L161.8 228.9 L162.3 228.2 L162.8 229.0 L163.3 229.8 L163.8 228.9 L164.3 228.0 L164.8 228.6 L165.3 229.1 L165.8 228.4 L166.3 227.9 L166.8 228.2 L167.3 226.7 L167.8 226.2 L168.3 224.8 L168.8 223.1 L169.3 223.3 L169.8 223.1 L170.3 223.3 L170.8 225.3 L171.3 225.9 L171.8 225.8 L172.3 226.9 L172.8 228.2 L173.3 228.7 L173.8 228.5 L174.3 228.4 L174.8 228.5 L175.3 228.5 L175.8 229.1 L176.3 228.8 L176.8 228.7 L177.3 228.6 L177.8 227.6 L178.3 228.0 L178.8 229.3 L179.3 228.9 L179.8 228.4 L180.3 228.5 L180.8 228.3 L181.3 228.4 L181.8 228.2 L182.3 228.2 L182.8 227.9 L183.3 229.0 L183.8 228.2 L184.3 227.4 L184.8 228.1 L185.3 228.4 L185.8 228.5 L186.3 228.1 L186.8 229.6 L187.3 231.1 L187.8 228.9 L188.3 228.8 L188.8 228.8 L189.3 228.6 L189.8 227.5 L190.3 227.9 L190.8 229.1 L191.3 229.5 L191.8 230.0 L192.3 229.0 L192.8 229.8 L193.3 231.0 L193.8 229.1 L194.3 228.4 L194.8 229.0 L195.3 229.4 L195.8 229.9 L196.3 229.5 L196.8 228.9 L197.3 230.0 L197.8 231.5 L198.3 230.3 L198.8 227.9 L199.3 228.6 L199.8 229.1 L200.3 229.8 L200.8 230.1 L201.3 231.1 L201.8 230.9 L202.3 230.5 L202.8 230.1 L203.3 229.9 L203.8 230.4 L204.3 231.0 L204.8 230.5 L205.3 230.2 L205.8 230.9 L206.3 230.5 L206.8 230.0 L207.3 229.5 L207.8 229.5 L208.3 229.1 L208.8 228.5 L209.3 230.6 L209.8 231.0 L210.3 230.7 L210.8 231.3 L211.3 231.2 L211.8 230.4 L212.3 229.0 L212.8 230.1 L213.3 231.4 L213.8 232.4 L214.3 232.8 L214.8 232.0 L215.3 230.0 L215.8 229.4 L216.3 231.0 L216.8 231.5 L217.3 231.8 L217.8 231.4 L218.3 231.1 L218.8 230.5 L219.3 231.2 L219.8 231.3 L220.3 231.7 L220.8 231.9 L221.3 231.6 L221.8 231.7 L222.3 231.8 L222.8 232.2 L223.3 231.9 L223.8 231.1 L224.3 231.3 L224.8 232.3 L225.3 231.8 L225.8 231.9 L226.3 231.5 L226.8 230.6 L227.3 230.6 L227.8 231.3 L228.3 231.8 L228.8 231.8 L229.3 231.0 L229.8 231.4 L230.3 232.4 L230.8 232.9 L231.3 231.4 L231.8 232.3 L232.3 232.6 L232.8 233.0 L233.3 232.8 L233.8 233.6 L234.3 234.4 L234.8 233.9 L235.3 233.7 L235.8 233.5 L236.3 233.1 L236.8 233.6 L237.3 233.4 L237.8 233.0 L238.3 233.5 L238.8 233.8 L239.3 234.4 L239.8 234.0 L240.3 234.0 L240.8 235.2 L241.3 235.5 L241.8 235.5 L242.3 235.1 L242.8 234.5 L243.3 234.2 L243.8 234.6 L244.3 235.4 L244.8 234.8 L245.3 234.0 L245.8 234.3 L246.3 234.2 L246.8 234.7 L247.3 234.2 L247.8 234.3 L248.3 235.2 L248.8 235.1 L249.3 234.6 L249.8 236.3 L250.3 237.0 L250.8 235.7 L251.3 236.6 L251.8 235.7 L252.3 235.4 L252.8 235.4 L253.3 235.3 L253.8 236.7 L254.3 236.5 L254.8 235.6 L255.3 235.3 L255.8 234.8 L256.3 235.5 L256.8 235.8 L257.3 234.0 L257.8 233.4 L258.3 232.8 L258.8 232.1 L259.3 231.4 L259.8 230.9 L260.3 232.1 L260.8 234.2 L261.3 235.1 L261.8 235.9 L262.3 237.3 L262.8 237.8 L263.3 237.0 L263.8 236.6 L264.3 236.5 L264.8 235.5 L265.3 236.0 L265.8 236.5 L266.3 238.2 L266.8 237.8 L267.3 236.9 L267.8 236.1 L268.3 235.2 L268.8 237.1 L269.3 237.9 L269.8 236.8 L270.3 237.1 L270.8 236.8 L271.3 235.4 L271.8 235.6 L272.3 233.9 L272.8 229.0 L273.3 222.6 L273.8 215.8 L274.3 210.2 L274.8 211.6 L275.3 217.6 L275.8 223.8 L276.3 230.3 L276.8 233.4 L277.3 234.5 L277.8 236.3 L278.3 236.9 L278.8 237.6 L279.3 237.5 L279.8 238.5 L280.3 238.1 L280.8 238.4 L281.3 238.2 L281.8 238.6 L282.3 239.5 L282.8 239.1 L283.3 238.4 L283.8 238.2 L284.3 239.6 L284.8 239.7 L285.3 239.0 L285.8 238.9 L286.3 238.3 L286.8 238.1 L287.3 238.5 L287.8 239.3 L288.3 239.3 L288.8 239.0 L289.3 239.8 L289.8 240.0 L290.3 239.8 L290.8 240.0 L291.3 239.3 L291.8 239.3 L292.3 239.6 L292.8 239.5 L293.3 239.5 L293.8 238.8 L294.3 239.6 L294.8 238.8 L295.3 238.4 L295.8 238.0 L296.3 239.1 L296.8 239.7 L297.3 239.4 L297.8 238.3 L298.3 236.3 L298.8 235.8 L299.3 235.1 L299.8 233.8 L300.3 231.7 L300.8 224.2 L301.3 208.4 L301.8 179.4 L302.3 135.9 L302.8 89.3 L303.3 62.4 L303.8 75.7 L304.3 117.9 L304.8 164.2 L305.3 198.8 L305.8 217.8 L306.3 227.8 L306.8 232.3 L307.3 233.3 L307.8 234.2 L308.3 234.4 L308.8 231.7 L309.3 225.3 L309.8 214.8 L310.3 202.8 L310.8 193.1 L311.3 189.8 L311.8 196.8 L312.3 209.1 L312.8 219.8 L313.3 228.1 L313.8 233.5 L314.3 235.6 L314.8 234.1 L315.3 229.2 L315.8 220.6 L316.3 208.7 L316.8 199.2 L317.3 195.8 L317.8 199.6 L318.3 209.3 L318.8 220.5 L319.3 229.8 L319.8 235.9 L320.3 238.8 L320.8 241.2 L321.3 242.7 L321.8 242.5 L322.3 243.0 L322.8 242.6 L323.3 241.8 L323.8 242.0 L324.3 242.3 L324.8 243.0 L325.3 242.8 L325.8 244.0 L326.3 243.6 L326.8 242.4 L327.3 244.0 L327.8 244.7 L328.3 243.9 L328.8 244.0 L329.3 243.1 L329.8 243.5 L330.3 243.3 L330.8 243.9 L331.3 242.8 L331.8 242.5 L332.3 244.9 L332.8 246.3 L333.3 245.2 L333.8 245.4 L334.3 245.3 L334.8 245.1 L335.3 246.0 L335.8 246.3 L336.3 245.1 L336.8 245.8 L337.3 245.7 L337.8 245.2 L338.3 247.1 L338.8 247.4 L339.3 246.2 L339.8 247.1 L340.3 246.6 L340.8 246.5 L341.3 247.4 L341.8 247.0 L342.3 247.1 L342.8 247.9 L343.3 248.0 L343.8 247.3 L344.3 245.7 L344.8 245.7 L345.3 247.1 L345.8 246.7 L346.3 246.7 L346.8 246.4 L347.3 246.6 L347.8 246.7 L348.3 247.9 L348.8 247.1 L349.3 247.1 L349.8 247.7 L350.3 248.1 L350.8 247.0 L351.3 247.4 L351.8 247.8 L352.3 248.3 L352.8 248.2 L353.3 247.7 L353.8 247.9 L354.3 247.8 L354.8 248.2 L355.3 247.9 L355.8 247.5 L356.3 247.9 L356.8 248.8 L357.3 249.5 L357.8 248.3 L358.3 248.5 L358.8 248.7 L359.3 246.7 L359.8 246.2 L360.3 246.9 L360.8 248.4 L361.3 249.9 L361.8 249.2 L362.3 249.0 L362.8 247.7 L363.3 246.0 L363.8 246.3 L364.3 248.4 L364.8 248.2 L365.3 247.5 L365.8 248.2 L366.3 247.5 L366.8 248.8 L367.3 249.0 L367.8 247.5 L368.3 247.1 L368.8 247.8 L369.3 247.2 L369.8 247.4 L370.3 246.5 L370.8 246.5 L371.3 244.9 L371.8 241.0 L372.3 234.2 L372.8 222.8 L373.3 204.6 L373.8 184.1 L374.3 165.1 L374.8 155.2 L375.3 159.3 L375.8 177.2 L376.3 197.6 L376.8 216.3 L377.3 231.8 L377.8 240.5 L378.3 243.4 L378.8 244.5 L379.3 245.4 L379.8 244.7 L380.3 243.3 L380.8 240.2 L381.3 231.8 L381.8 219.0 L382.3 203.2 L382.8 187.4 L383.3 178.2 L383.8 179.5 L384.3 190.4 L384.8 207.3 L385.3 224.1 L385.8 234.9 L386.3 242.0 L386.8 246.9 L387.3 247.7 L387.8 247.8 L388.3 248.9 L388.8 248.8 L389.3 249.2 L389.8 249.9 L390.3 249.9 L390.8 249.6 L391.3 249.8 L391.8 250.4 L392.3 251.3 L392.8 250.6 L393.3 251.0 L393.8 252.4 L394.3 251.8 L394.8 252.7 L395.3 252.9 L395.8 251.7 L396.3 251.1 L396.8 252.2 L397.3 253.0 L397.8 253.1 L398.3 253.0 L398.8 253.7 L399.3 253.6 L399.8 252.7 L400.3 253.7 L400.8 253.3 L401.3 252.7 L401.8 253.2 L402.3 254.6 L402.8 253.9 L403.3 252.3 L403.8 252.9 L404.3 253.3 L404.8 253.1 L405.3 252.7 L405.8 252.6 L406.3 253.6 L406.8 253.1 L407.3 253.0 L407.8 253.0 L408.3 253.2 L408.8 254.2 L409.3 254.0 L409.8 253.2 L410.3 253.0 L410.8 253.6 L411.3 254.5 L411.8 254.3 L412.3 254.1 L412.8 253.8 L413.3 253.9 L413.8 253.8 L414.3 253.3 L414.8 254.7 L415.3 253.9 L415.8 254.0 L416.3 255.1 L416.8 254.8 L417.3 254.3 L417.8 253.7 L418.3 253.3 L418.8 254.5 L419.3 255.1 L419.8 254.5 L420.3 255.0 L420.8 254.0 L421.3 254.0 L421.8 254.8 L422.3 254.9 L422.8 254.9 L423.3 254.1 L423.8 253.4 L424.3 252.9 L424.8 253.2 L425.3 253.3 L425.8 253.4 L426.3 254.2 L426.8 253.4 L427.3 252.9 L427.8 253.9 L428.3 250.9 L428.8 247.8 L429.3 245.9 L429.8 242.0 L430.3 237.4 L430.8 235.9 L431.3 238.6 L431.8 243.4 L432.3 246.7 L432.8 249.5 L433.3 252.5 L433.8 254.3 L434.3 253.9 L434.8 254.2 L435.3 254.7 L435.8 257.0 L436.3 257.5 L436.8 256.6 L437.3 256.0 L437.8 255.7 L438.3 254.6 L438.8 255.2 L439.3 254.7 L439.8 254.4 L440.3 254.9 L440.8 255.4 L441.3 256.1 L441.8 256.2 L442.3 255.6 L442.8 255.0 L443.3 255.4 L443.8 255.1 L444.3 254.6 L444.8 251.7 L445.3 248.3 L445.8 246.9 L446.3 245.0 L446.8 240.8 L447.3 238.4 L447.8 239.6 L448.3 242.3 L448.8 245.3 L449.3 247.5 L449.8 249.1 L450.3 248.9 L450.8 246.8 L451.3 244.5 L451.8 243.9 L452.3 244.6 L452.8 246.2 L453.3 248.5 L453.8 251.4 L454.3 254.3 L454.8 254.7 L455.3 255.7 L455.8 256.5 L456.3 255.7 L456.8 255.7 L457.3 256.5 L457.8 256.9 L458.3 256.1 L458.8 255.8 L459.3 255.4 L459.8 255.0 L460.3 256.0 L460.8 255.2 L461.3 254.3 L461.8 254.7 L462.3 254.1 L462.8 254.5 L463.3 255.1 L463.8 255.1 L464.3 255.6 L464.8 254.7 L465.3 255.3 L465.8 256.0 L466.3 256.4 L466.8 255.8 L467.3 254.7 L467.8 253.4 L468.3 252.0 L468.8 250.0 L469.3 246.6 L469.8 244.4 L470.3 243.2 L470.8 244.0 L471.3 246.3 L471.8 249.2 L472.3 248.9 L472.8 248.0 L473.3 245.1 L473.8 240.0 L474.3 233.6 L474.8 228.5 L475.3 226.9 L475.8 229.0 L476.3 235.3 L476.8 241.5 L477.3 247.0 L477.8 249.8 L478.3 251.6 L478.8 253.1 L479.3 253.7 L479.8 252.1 L480.3 249.7 L480.8 246.8 L481.3 242.0 L481.8 238.8 L482.3 239.5 L482.8 242.4 L483.3 246.9 L483.8 250.4 L484.3 251.8 L484.8 255.2 L485.3 256.4 L485.8 256.2 L486.3 256.5 L486.8 257.4 L487.3 256.3 L487.8 255.6 L488.3 255.6 L488.8 255.2 L489.3 256.0 L489.8 256.1 L490.3 256.3 L490.8 256.1 L491.3 255.7 L491.8 256.5 L492.3 255.9 L492.8 256.0 L493.3 255.2 L493.8 255.7 L494.3 255.5 L494.8 255.6 L495.3 255.0 L495.8 254.0 L496.3 254.6 L496.8 255.6 L497.3 255.7 L497.8 254.1 L498.3 253.2 L498.8 253.6 L499.3 253.3 L499.8 251.6 L500.3 249.4 L500.8 247.2 L501.3 243.6 L501.8 238.9 L502.3 234.5 L502.8 233.0 L503.3 232.6 L503.8 232.7 L504.3 234.1 L504.8 234.2 L505.3 235.1 L505.8 238.2 L506.3 240.8 L506.8 243.0 L507.3 244.4 L507.8 244.3 L508.3 243.2 L508.8 243.9 L509.3 245.5 L509.8 246.1 L510.3 247.9 L510.8 250.3 L511.3 252.7 L511.8 254.1 L512.3 254.7 L512.8 254.9 L513.3 255.9 L513.8 256.1 L514.3 256.2 L514.8 257.1 L515.3 256.7 L515.8 256.3 L516.3 257.1 L516.8 256.8 L517.3 256.5 L517.8 255.5 L518.3 255.6 L518.8 254.7 L519.3 253.2 L519.8 251.9 L520.3 252.0 L520.8 249.7 L521.3 248.8 L521.8 249.7 L522.3 250.8 L522.8 252.6 L523.3 253.7 L523.8 255.6 L524.3 256.7 L524.8 257.7 L525.3 257.6 L525.8 256.5 L526.3 256.1 L526.8 257.0 L527.3 258.4 L527.8 258.6 L528.3 258.0 L528.8 256.2 L529.3 255.7 L529.8 257.0 L530.3 257.7 L530.8 257.8 L531.3 258.3 L531.8 257.9 L532.3 257.2 L532.8 257.5 L533.3 258.2 L533.8 258.4 L534.3 258.9 L534.8 259.9 L535.3 258.9 L535.8 258.4 L536.3 257.9 L536.8 258.3 L537.3 259.1 L537.8 259.2 L538.3 258.9 L538.8 259.1 L539.3 258.6 L539.8 256.9 L540.3 256.9 L540.8 260.0 L541.3 260.1 L541.8 258.8 L542.3 257.7 L542.8 258.2 L543.3 259.2 L543.8 257.6 L544.3 258.7 L544.8 259.9 L545.3 259.8 L545.8 259.9 L546.3 260.1 L546.8 260.8 L547.3 259.0 L547.8 258.4 L548.3 259.7 L548.8 260.5 L549.3 260.0 L549.8 260.1 L550.3 259.2 L550.8 259.0 L551.3 260.6 L551.8 261.3 L552.3 260.9 L552.8 259.4 L553.3 258.5 L553.8 258.5 L554.3 259.3 L554.8 260.1 L555.3 259.8 L555.8 258.8 L556.3 259.5 L556.8 259.7 L557.3 259.7 L557.8 259.6 L558.3 259.6 L558.8 260.0 L559.3 259.9 L559.8 259.6 L560.3 259.2 L560.8 259.5 L561.3 258.9 L561.8 257.9 L562.3 258.8 L562.8 259.0 L563.3 259.1 L563.8 258.3 L564.3 257.9 L564.8 257.7 L565.3 257.3 L565.8 256.6 L566.3 256.4 L566.8 257.9 L567.3 256.8 L567.8 257.2 L568.3 258.1 L568.8 258.1 L569.3 258.1 L569.8 258.2 L570.3 258.1 L570.8 257.9 L571.3 258.3 L571.8 256.2 L572.3 255.6 L572.8 255.1 L573.3 254.6 L573.8 255.0 L574.3 255.2 L574.8 253.7 L575.3 253.4 L575.8 254.2 L576.3 254.8 L576.8 255.7 L577.3 255.5 L577.8 255.0 L578.3 254.9 L578.8 255.5 L579.3 255.6 L579.8 255.5 L580.3 256.5 L580.8 257.1 L581.3 257.4 L581.8 258.1 L582.3 259.6 L582.8 259.8 L583.3 259.6 L583.8 258.8 L584.3 258.5 L584.8 259.2 L585.3 259.8 L585.8 259.7 L586.3 260.0 L586.8 260.8 L587.3 260.4 L587.8 259.6 L588.3 259.7 L588.8 260.0 L589.3 260.3 L589.8 259.8 L590.3 260.4 L590.8 261.2 L591.3 260.8 L591.8 260.0 L592.3 260.1 L592.8 260.7 L593.3 261.1 L593.8 261.1 L594.3 260.2 L594.8 259.8 L595.3 261.0 L595.8 260.8 L596.3 260.5 L596.8 260.1 L597.3 259.3 L597.8 259.5 L598.3 260.1 L598.8 260.5 L599.3 259.2 L599.8 257.4 L600.3 258.7 L600.8 260.0 L601.3 260.6 L601.8 260.8 L602.3 261.6 L602.8 261.2 L603.3 260.8 L603.8 260.0 L604.3 258.8 L604.8 259.7 L605.3 259.7 L605.8 259.0 L606.3 259.3 L606.8 258.9 L607.3 257.9 L607.8 256.9 L608.3 255.4 L608.8 253.3 L609.3 250.2 L609.8 246.9 L610.3 243.1 L610.8 242.3 L611.3 243.1 L611.8 246.4 L612.3 250.5 L612.8 253.3 L613.3 255.5 L613.8 257.5 L614.3 258.9 L614.8 258.4 L615.3 258.9 L615.8 258.1 L616.3 258.5 L616.8 259.0 L617.3 258.7 L617.8 259.4 L618.3 259.6 L618.8 258.7 L619.3 258.9 L619.8 258.6 L620.3 257.9 L620.8 258.6 L621.3 259.1 L621.8 260.0 L622.3 259.6 L622.8 260.4 L623.3 260.0 L623.8 260.9 L624.3 260.6 L624.8 260.3 L625.3 260.6 L625.8 260.9 L626.3 261.4 L626.8 261.3 L627.3 259.8 L627.8 258.4 L628.3 257.8 L628.8 259.3 L629.3 260.6 L629.8 260.5 L630.3 260.2 L630.8 259.8 L631.3 259.6 L631.8 260.0 L632.3 260.0 L632.8 259.3 L633.3 260.0 L633.8 259.4 L634.3 259.7 L634.8 259.8 L635.3 259.7 L635.8 259.3 L636.3 259.3 L636.8 259.6 L637.3 260.0 L637.8 261.4 L638.3 259.9 L638.8 258.5 L639.3 257.5 L639.8 255.4 L640.3 252.9 L640.8 251.8 L641.3 249.7 L641.8 247.0 L642.3 246.6 L642.8 247.2 L643.3 249.8 L643.8 252.8 L644.3 255.4 L644.8 257.2 L645.3 258.2 L645.8 259.7 L646.3 259.9 L646.8 260.6 L647.3 260.9 L647.8 260.2 L648.3 259.9 L648.8 260.6 L649.3 259.9 L649.8 259.7 L650.3 260.0 L650.8 261.1 L651.3 260.4 L651.8 259.4 L652.3 261.3 L652.8 262.8 L653.3 262.3 L653.8 260.8 L654.3 260.7 L654.8 261.2 L655.3 261.2 L655.8 260.2 L656.3 259.2 L656.8 259.2 L657.3 257.6 L657.8 254.1 L658.3 251.2 L658.8 247.9 L659.3 244.4 L659.8 242.6 L660.3 243.1 L660.8 245.4 L661.3 248.3 L661.8 251.5 L662.3 255.8 L662.8 259.1 L663.3 260.6 L663.8 260.1 L664.3 260.4 L664.8 261.5 L665.3 261.7 L665.8 261.0 L666.3 260.5 L666.8 259.5 L667.3 258.9 L667.8 257.1 L668.3 255.2 L668.8 252.6 L669.3 248.9 L669.8 245.3 L670.3 244.6 L670.8 246.2 L671.3 248.4 L671.8 251.3 L672.3 254.6 L672.8 257.1 L673.3 258.1 L673.8 257.4 L674.3 256.9 L674.8 255.7 L675.3 254.0 L675.8 253.1 L676.3 253.9 L676.8 255.3 L677.3 258.1 L677.8 258.6 L678.3 259.1 L678.8 260.2 L679.3 261.6 L679.8 260.6 L680.3 260.5 L680.8 260.5 L681.3 260.9 L681.8 261.4 L682.3 261.6 L682.8 260.5 L683.3 261.3 L683.8 262.3 L684.3 261.3 L684.8 260.9 L685.3 260.1 L685.8 259.4 L686.3 261.0 L686.8 262.0 L687.3 260.9 L687.8 260.1 L688.3 261.2 L688.8 261.7 L689.3 262.3 L689.8 262.2 L690.3 261.5 L690.8 261.2 L691.3 260.6 L691.8 261.8 L692.3 262.1 L692.8 262.4 L693.3 262.3 L693.8 261.5 L694.3 261.1 L694.8 260.3 L695.3 259.8 L695.8 260.8 L696.3 261.2 L696.8 260.8 L697.3 261.6 L697.8 261.6 L698.3 261.4 L698.8 260.4 L699.3 260.0 L699.8 261.4 L700.3 261.7 L700.8 261.0 L701.3 260.6 L701.8 260.5 L702.3 260.3 L702.8 259.5 L703.3 258.7 L703.8 259.4 L704.3 258.4 L704.8 258.3 L705.3 258.6 L705.8 258.6 L706.3 258.3 L706.8 259.9 L707.3 260.5 L707.8 260.9 L708.3 261.0 L708.8 259.3 L709.3 258.1 L709.8 260.0 L710.3 261.2 L710.8 260.5 L711.3 258.6 L711.8 257.6 L712.3 256.3 L712.8 254.3 L713.3 254.3 L713.8 255.6 L714.3 257.6 L714.8 258.2 L715.3 259.7 L715.8 259.3 L716.3 258.9 L716.8 260.3 L717.3 259.0 L717.8 259.1 L718.3 258.9 L718.8 256.7 L719.3 255.6 L719.8 256.3 L720.3 255.8 L720.8 255.0 L721.3 255.3 L721.8 256.3 L722.3 257.0 L722.8 256.2 L723.3 256.1 L723.8 255.9 L724.3 255.0 L724.8 254.4 L725.3 253.6 L725.8 252.6 L726.3 254.0 L726.8 253.8 L727.3 252.1 L727.8 249.5 L728.3 246.7 L728.8 245.0 L729.3 244.9 L729.8 245.7 L730.3 248.4 L730.8 252.0 L731.3 255.5 L731.8 257.3 L732.3 258.8 L732.8 260.3 L733.3 260.1 L733.8 260.2 L734.3 259.8 L734.8 260.4 L735.3 260.6 L735.8 260.6 L736.3 260.1 L736.8 259.8 L737.3 260.2 L737.8 260.6 L738.3 261.6 L738.8 261.4 L739.3 260.4 L739.8 260.9 L740.3 260.9 L740.8 261.1 L741.3 260.4 L741.8 260.2 L742.3 261.5 L742.8 261.3 L743.3 259.9 L743.8 259.4 L744.3 260.1 L744.8 260.1 L745.3 260.8 L745.8 261.8 L746.3 262.2 L746.8 261.5 L747.3 262.0 L747.8 261.7 L748.3 259.9 L748.8 258.6 L749.3 259.0 L749.8 258.8 L750.3 258.6 L750.8 257.5 L751.3 257.0 L751.8 257.5 L752.3 257.0 L752.8 258.2 L753.3 259.4 L753.8 261.0 L754.3 260.3 L754.8 258.9 L755.3 260.9 L755.8 261.0 L756.3 261.5 L756.8 261.4 L757.3 261.9 L757.8 262.3 L758.3 261.9 L758.8 261.6 L759.3 262.8 L759.8 262.5 L760.3 262.2 L760.8 262.4 L761.3 262.2 L761.8 263.2 L762.3 262.7 L762.8 262.4 L763.3 262.2 L763.8 261.3 L764.3 261.2 L764.8 262.1 L765.3 262.7 L765.8 263.2 L766.3 262.5 L766.8 261.6 L767.3 262.5 L767.8 263.1 L768.3 263.1 L768.8 262.4 L769.3 261.7 L769.8 262.6 L770.3 262.1 L770.8 262.1 L771.3 261.5 L771.8 262.2 L772.3 262.1 L772.8 263.2 L773.3 264.0 L773.8 263.2 L774.3 261.5 L774.8 261.2 L775.3 261.6 L775.8 262.6 L776.3 262.7 L776.8 262.6 L777.3 262.7 L777.8 262.9 L778.3 263.3 L778.8 263.6 L779.3 262.7 L779.8 262.0 L780.3 260.8 L780.8 260.9 L781.3 261.3 L781.8 261.4 L782.3 262.4 L782.8 262.9 L783.3 262.0 L783.8 261.6 L784.3 261.7 L784.8 261.9 L785.3 261.8 L785.8 262.2 L786.3 262.3 L786.8 262.3 L787.3 262.3 L787.8 261.8 L788.3 262.0 L788.8 262.4 L789.3 261.4 L789.8 260.8 L790.3 259.5 L790.8 257.6 L791.3 255.6 L791.8 253.3 L792.3 251.1 L792.8 248.4 L793.3 246.7 L793.8 246.5 L794.3 246.6 L794.8 248.5 L795.3 250.5 L795.8 252.7 L796.3 254.1 L796.8 256.2 L797.3 258.2 L797.8 257.4 L798.3 256.0 L798.8 254.1 L799.3 252.0 L799.8 249.0 L800.3 247.8 L800.8 248.5 L801.3 249.5 L801.8 250.4 L802.3 252.1 L802.8 253.9 L803.3 255.3 L803.8 255.5 L804.3 256.0 L804.8 256.6 L805.3 255.9 L805.8 256.1 L806.3 256.6 L806.8 257.1 L807.3 258.3 L807.8 258.9 L808.3 259.3 L808.8 259.3 L809.3 259.9 L809.8 261.1 L810.3 261.2 L810.8 260.9 L811.3 261.3 L811.8 261.4 L812.3 261.7 L812.8 262.3 L813.3 261.5 L813.8 261.7 L814.3 261.8 L814.8 261.2 L815.3 260.9 L815.8 261.9 L816.3 262.0 L816.8 261.8 L817.3 261.8 L817.8 261.6 L818.3 261.3 L818.8 261.5 L819.3 260.8 L819.8 261.3 L820.3 261.0 L820.8 261.7 L821.3 262.5 L821.8 262.1 L822.3 262.0 L822.8 262.5 L823.3 262.2 L823.8 262.0 L824.3 262.4 L824.8 263.6 L825.3 263.4 L825.8 262.8 L826.3 262.1 L826.8 262.5 L827.3 262.1 L827.8 262.5 L828.3 262.6 L828.8 263.5 L829.3 262.4 L829.8 263.5 L830.3 263.3 L830.8 261.8 L831.3 262.7 L831.8 264.1 L832.3 263.6 L832.8 262.0 L833.3 262.0 L833.8 261.8 L834.3 261.9 L834.8 262.7 L835.3 264.1 L835.8 263.4 L836.3 262.8 L836.8 262.9 L837.3 263.5 L837.8 263.4 L838.3 262.9 L838.8 263.6 L839.3 262.6 L839.8 262.7 L840.3 263.7 L840.8 264.2 L841.3 263.3 L841.8 263.5 L842.3 264.2 L842.8 264.1 L843.3 264.2 L843.8 264.1 L844.3 263.7 L844.8 263.8 L845.3 263.9 L845.8 263.7 L846.3 263.8 L846.8 262.0 L847.3 262.4 L847.8 264.0 L848.3 263.6 L848.8 262.9 L849.3 263.5 L849.8 263.9 L850.3 263.2 L850.8 263.5 L851.3 263.2 L851.8 263.0 L852.3 263.3 L852.8 263.6 L853.3 262.5 L853.8 262.7 L854.3 263.1 L854.8 261.9 L855.3 261.5 L855.8 262.5 L856.3 262.3 L856.8 261.7 L857.3 261.1 L857.8 260.7 L858.3 261.6 L858.8 259.3 L859.3 258.0 L859.8 257.2 L860.3 257.8 L860.8 259.0 L861.3 258.7 L861.8 258.9 L862.3 259.3 L862.8 260.7 L863.3 260.2 L863.8 259.5 L864.3 260.3 L864.8 260.1 L865.3 260.1 L865.8 259.5 L866.3 258.9 L866.8 258.1 L867.3 256.8 L867.8 256.5 L868.3 257.9 L868.8 258.1 L869.3 258.5 L869.8 258.3 L870.3 257.9 L870.8 259.3 L871.3 261.4 L871.8 261.1 L872.3 261.0 L872.8 260.9 L873.3 261.5 L873.8 262.0 L874.3 262.2 L874.8 262.3 L875.3 262.0 L875.8 262.1 L876.3 262.6 L876.8 262.9 L877.3 263.2 L877.8 264.0 L878.3 263.4 L878.8 262.9 L879.3 262.7 L879.8 263.2 L880.3 262.0 L880.8 261.2 L881.3 261.7 L881.8 262.3 L882.3 261.6 L882.8 262.0 L883.3 260.8 L883.8 259.1 L884.3 259.6 L884.8 260.5 L885.3 259.2 L885.8 259.2 L886.3 261.1 L886.8 262.6 L887.3 262.9 L887.8 262.6 L888.3 263.0 L888.8 263.7 L889.3 264.7 L889.8 265.1 L890.3 264.2 L890.8 264.4 L891.3 263.8 L891.8 263.8 L892.3 263.1 L892.8 263.1 L893.3 263.7 L893.8 263.5 L894.3 264.1 L894.8 263.7 L895.3 263.8 L895.8 263.8 L896.3 263.7 L896.8 264.2 L897.3 265.4 L897.8 266.0 L898.3 263.9 L898.8 263.8 L899.3 263.5 L899.8 263.1 L900.3 263.2 L900.8 262.5 L901.3 262.5 L901.8 262.0 L902.3 259.6 L902.8 259.2 L903.3 258.2 L903.8 256.7 L904.3 256.8 L904.8 257.1 L905.3 257.8 L905.8 259.4 L906.3 259.8 L906.8 261.5 L907.3 262.1 L907.8 262.3 L908.3 263.2 L908.8 263.8 L909.3 264.2 L909.8 263.4 L910.3 263.7 L910.8 264.4 L911.3 265.1 L911.8 264.3 L912.3 264.6 L912.8 263.7 L913.3 264.4 L913.8 264.7 L914.3 264.7 L914.8 263.8 L915.3 262.8 L915.8 263.5 L916.3 265.3 L916.8 265.0 L917.3 264.4 L917.8 265.0 L918.3 264.3 L918.8 263.8 L919.3 264.1 L919.8 265.7 L920.3 266.1 L920.8 264.6 L921.3 264.9 L921.8 265.9 L922.3 265.7 L922.8 263.3 L923.3 263.9 L923.8 264.0 L924.3 262.8 L924.8 263.2 L925.3 263.3 L925.8 263.1 L926.3 262.6 L926.8 263.0 L927.3 263.1 L927.8 264.0 L928.3 264.2 L928.8 263.8 L929.3 263.9 L929.8 265.7 L930.3 266.1 L930.8 265.5 L931.3 264.5 L931.8 264.8 L932.3 266.0 L932.8 265.4 L933.3 264.2 L933.8 264.3 L934.3 264.1 L934.8 263.3 L935.3 262.5 L935.8 262.9 L936.3 261.9 L936.8 260.2 L937.3 259.0 L937.8 259.5 L938.3 260.8 L938.8 262.0 L939.3 262.6 L939.8 263.9 L940.3 264.0 L940.8 263.2 L941.3 262.4 L941.8 263.2 L942.3 263.7 L942.8 264.8 L943.3 265.7 L943.8 266.2 L944.3 265.3 L944.8 265.0 L945.3 266.7 L945.8 266.0 L946.3 265.1 L946.8 264.8 L947.3 264.5 L947.8 265.5 L948.3 266.0 L948.8 266.7 L949.3 266.6 L949.8 266.4 L950.3 266.3 L950.8 265.3 L951.3 264.9 L951.8 264.9 L952.3 264.4 L952.8 264.8 L953.3 265.2 L953.8 265.6 L954.3 265.0 L954.8 264.0 L955.3 265.2 L955.8 265.8 L956.3 264.2 L956.8 264.3 L957.3 264.8 L957.8 264.2 L958.3 264.6 L958.8 264.8 L959.3 264.4 L959.8 265.2 L960.3 265.3 L960.8 264.4 L961.3 265.2 L961.8 265.9 L962.3 265.4 L962.8 265.6 L963.3 265.7 L963.8 265.4 L964.3 265.9 L964.8 265.4 L965.3 264.7 L965.8 265.5 L966.3 266.0 L966.8 265.7 L967.3 265.0 L967.8 265.6 L968.3 266.2 L968.8 265.8 L969.3 266.3 L969.8 266.2 L970.3 265.5 L970.8 265.5 L971.3 265.3 L971.8 265.7 L972.3 265.1 L972.8 264.7 L973.3 264.9 L973.8 265.1 L974.3 265.4 L974.8 265.2 L975.3 264.2 L975.8 264.4 L976.3 265.2 L976.8 265.5 L977.3 265.8 L977.8 267.1 L978.3 266.3 L978.8 265.4 L979.3 265.8 L979.8 266.2 L980.3 265.2 L980.8 263.9 L981.3 264.7 L981.8 265.5 L982.3 266.4" stroke="#008000"/>
</g>
<g fill="#000"><path d="M168.3 178.1L179.2 192.1L168.3 206.1L157.4 192.1Z"/><path d="M274.3 169.7L285.2 183.7L274.3 197.7L263.4 183.7Z"/><path d="M303.7 23.3L314.6 37.3L303.7 51.3L292.8 37.3Z"/><path d="M314.1 153.3L325.0 167.3L314.1 181.3L303.2 167.3Z"/><path d="M375.2 108.8L386.1 122.8L375.2 136.8L364.3 122.8Z"/><path d="M385.1 130.4L396.0 144.4L385.1 158.4L374.2 144.4Z"/><path d="M428.7 196.4L439.6 210.4L428.7 224.4L417.8 210.4Z"/><path d="M472.9 184.5L483.8 198.5L472.9 212.5L462.0 198.5Z"/><path d="M503.1 193.5L514.0 207.5L503.1 221.5L492.2 207.5Z"/><path d="M609.3 202.0L620.2 216.0L609.3 230.0L598.4 216.0Z"/><path d="M641.6 206.5L652.5 220.5L641.6 234.5L630.7 220.5Z"/><path d="M668.0 203.0L678.9 217.0L668.0 231.0L657.1 217.0Z"/><path d="M728.3 202.0L739.2 216.0L728.3 230.0L717.4 216.0Z"/><path d="M797.7 206.1L808.6 220.1L797.7 234.1L786.8 220.1Z"/><path d="M906.4 214.4L917.3 228.4L906.4 242.4L895.5 228.4Z"/><path transform="translate(186.35 614.30) scale(1.0250 1.0000)" d="M10 22 L2.2 11.8 C0.6 9.6 0 8.2 0 6.0 C0 2.6 2.3 0 5 0 C7.4 0 9.3 2 10 5.6 C10.7 2 12.6 0 15 0 C17.7 0 20 2.6 20 6.0 C20 8.2 19.4 9.6 17.8 11.8 Z"/><path transform="translate(207.75 606.20) scale(1.0250 1.0000)" d="M10 22 L2.2 11.8 C0.6 9.6 0 8.2 0 6.0 C0 2.6 2.3 0 5 0 C7.4 0 9.3 2 10 5.6 C10.7 2 12.6 0 15 0 C17.7 0 20 2.6 20 6.0 C20 8.2 19.4 9.6 17.8 11.8 Z"/><path transform="translate(264.75 603.20) scale(1.0250 1.0000)" d="M10 22 L2.2 11.8 C0.6 9.6 0 8.2 0 6.0 C0 2.6 2.3 0 5 0 C7.4 0 9.3 2 10 5.6 C10.7 2 12.6 0 15 0 C17.7 0 20 2.6 20 6.0 C20 8.2 19.4 9.6 17.8 11.8 Z"/><path transform="translate(295.15 617.90) scale(1.0250 1.0000)" d="M10 22 L2.2 11.8 C0.6 9.6 0 8.2 0 6.0 C0 2.6 2.3 0 5 0 C7.4 0 9.3 2 10 5.6 C10.7 2 12.6 0 15 0 C17.7 0 20 2.6 20 6.0 C20 8.2 19.4 9.6 17.8 11.8 Z"/><path transform="translate(372.35 631.20) scale(1.0250 1.0000)" d="M10 22 L2.2 11.8 C0.6 9.6 0 8.2 0 6.0 C0 2.6 2.3 0 5 0 C7.4 0 9.3 2 10 5.6 C10.7 2 12.6 0 15 0 C17.7 0 20 2.6 20 6.0 C20 8.2 19.4 9.6 17.8 11.8 Z"/><path transform="translate(545.15 652.70) scale(1.0250 1.0000)" d="M10 22 L2.2 11.8 C0.6 9.6 0 8.2 0 6.0 C0 2.6 2.3 0 5 0 C7.4 0 9.3 2 10 5.6 C10.7 2 12.6 0 15 0 C17.7 0 20 2.6 20 6.0 C20 8.2 19.4 9.6 17.8 11.8 Z"/></g>
<rect x="34.6" y="1.5" width="949.0" height="704.3" fill="none" stroke="#000" stroke-width="2.4"/>
<g stroke="#000" stroke-width="2.2" stroke-linecap="round"><line x1="102.38" y1="705.80" x2="102.38" y2="698.60"/><line x1="170.17" y1="705.80" x2="170.17" y2="692.00"/><line x1="237.96" y1="705.80" x2="237.96" y2="698.60"/><line x1="305.74" y1="705.80" x2="305.74" y2="692.00"/><line x1="373.53" y1="705.80" x2="373.53" y2="698.60"/><line x1="441.31" y1="705.80" x2="441.31" y2="692.00"/><line x1="509.10" y1="705.80" x2="509.10" y2="698.60"/><line x1="576.88" y1="705.80" x2="576.88" y2="692.00"/><line x1="644.67" y1="705.80" x2="644.67" y2="698.60"/><line x1="712.45" y1="705.80" x2="712.45" y2="692.00"/><line x1="780.24" y1="705.80" x2="780.24" y2="698.60"/><line x1="848.02" y1="705.80" x2="848.02" y2="692.00"/><line x1="915.81" y1="705.80" x2="915.81" y2="698.60"/></g>
<g font-family="'Liberation Sans', sans-serif" font-size="27.8" text-anchor="middle" fill="#000"><text x="170.17" y="740.2">20</text><text x="305.74" y="740.2">30</text><text x="441.31" y="740.2">40</text><text x="576.88" y="740.2">50</text><text x="712.45" y="740.2">60</text><text x="848.02" y="740.2">70</text><text x="983.59" y="740.2">80</text><text x="34.4" y="740.2" text-anchor="start">0</text></g>
<g font-family="'Liberation Sans', sans-serif" font-size="34.9" text-anchor="end"><text transform="translate(978.2 257.4) scale(0.92 1)" fill="#008000">S5</text><text transform="translate(978.2 360.8) scale(0.92 1)" fill="#ff00ff">S4</text><text transform="translate(978.2 464.4) scale(0.92 1)" fill="#0000ff">S3</text><text transform="translate(978.2 579.8) scale(0.92 1)" fill="#ff0000">S2</text><text transform="translate(940.3 684.9) scale(0.92 1)" text-anchor="start" fill="#000">S</text></g>
<text x="508.6" y="774.1" font-family="'Liberation Serif', serif" font-size="36" text-anchor="middle" fill="#000">2θ(°)</text>
<text transform="translate(23.2 457.8) rotate(-90)" font-family="'Liberation Serif', serif" font-size="32.7" fill="#000">Intensity(a.u.)</text>
<g fill="#000">
<path d="M29.8 721.6L29.8 740L27.3 740L27.3 725.0L22.9 728.6L22.9 725.9L27.7 721.6Z"/><path d="M974.1 661.6L974.1 685.1L970.9 685.1L970.9 665.7L965.2 669.8L965.2 666.5L971.7 661.6Z"/>
<path d="M727.8 47.8L739.0 61.9L727.8 76.0L716.5 61.9Z"/>
<rect x="748.5" y="57.3" width="18" height="5.5"/>
<path transform="translate(713.55 96.20) scale(1.2850 1.2545)" d="M10 22 L2.2 11.8 C0.6 9.6 0 8.2 0 6.0 C0 2.6 2.3 0 5 0 C7.4 0 9.3 2 10 5.6 C10.7 2 12.6 0 15 0 C17.7 0 20 2.6 20 6.0 C20 8.2 19.4 9.6 17.8 11.8 Z"/>
<rect x="747.6" y="105" width="17.6" height="5.4"/>
</g>
<g font-family="'Liberation Serif', serif" font-size="43.3" fill="#000">
<text x="769.3" y="75.9">Diopside</text>
<text x="768.3" y="123.6">Anorthite</text>
</g>
</svg>
</body></html>
